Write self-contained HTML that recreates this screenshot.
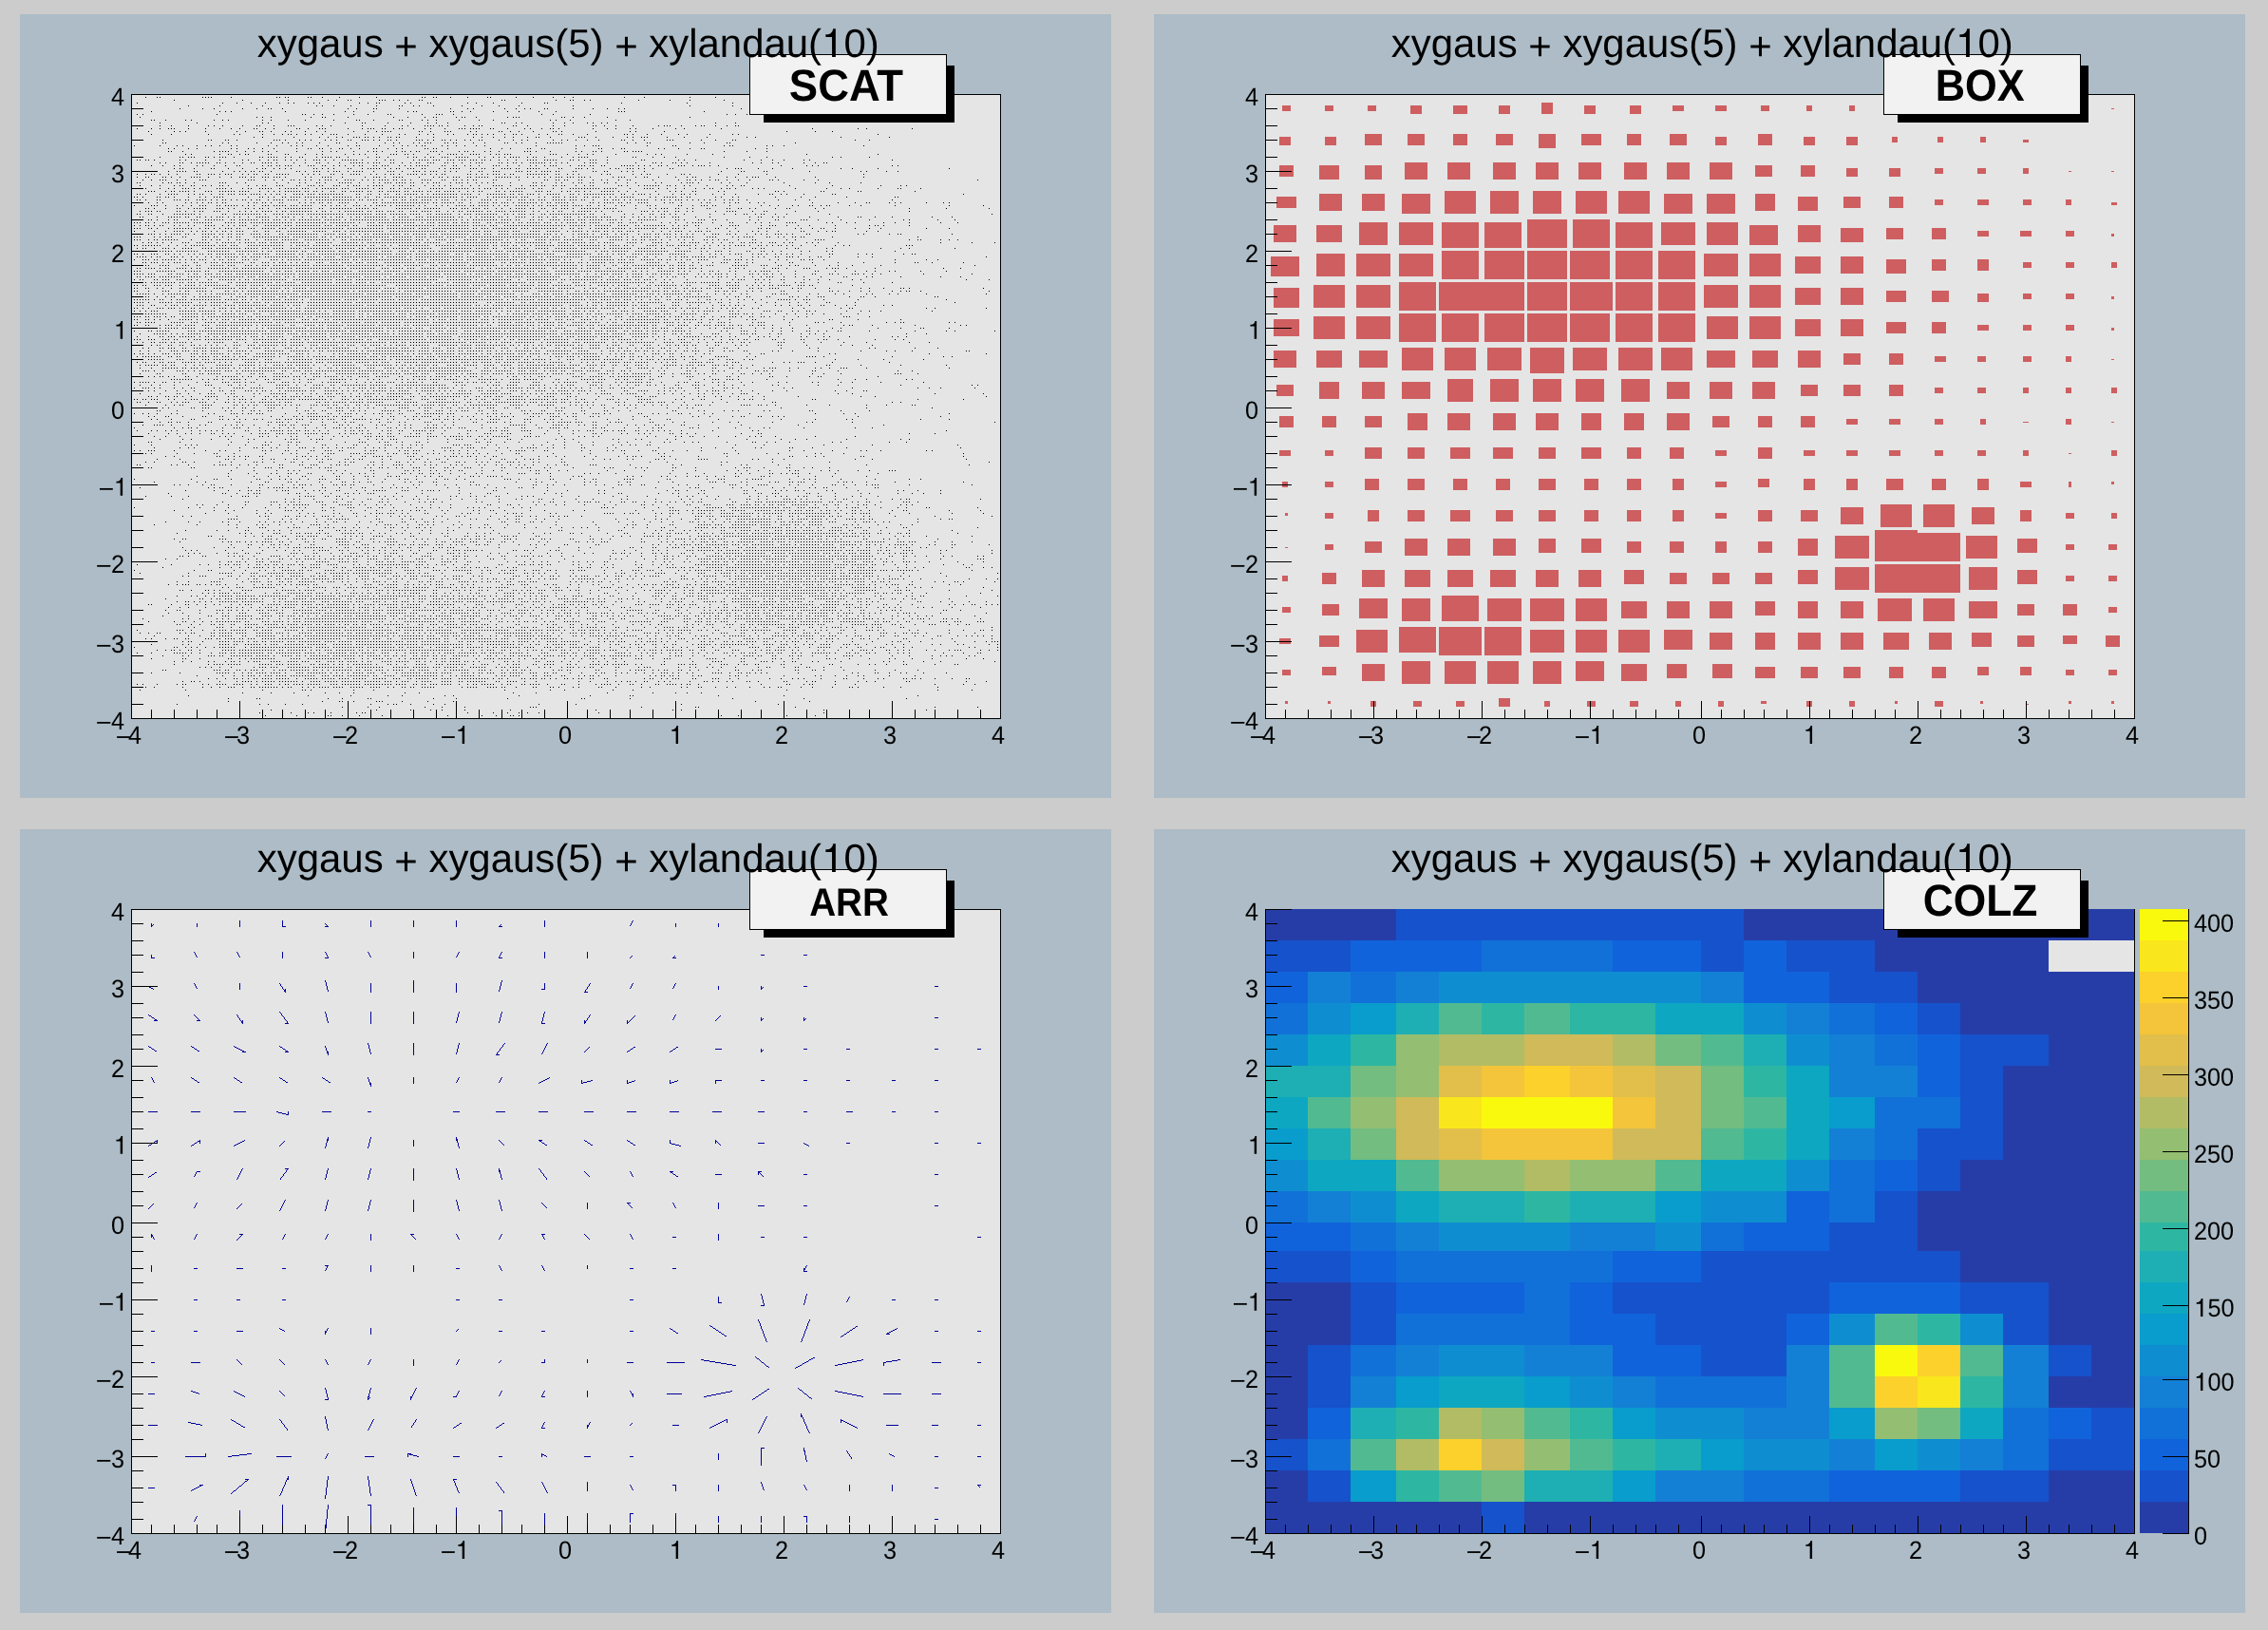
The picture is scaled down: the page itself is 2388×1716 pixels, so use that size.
<!DOCTYPE html>
<html><head><meta charset="utf-8"><title>draw2dopt</title>
<style>html,body{margin:0;padding:0;background:#cccccc;}svg{display:block;will-change:transform}text{font-family:"Liberation Sans",sans-serif;fill:#000;shape-rendering:auto;text-rendering:geometricPrecision}</style></head>
<body><svg width="2388" height="1716" viewBox="0 0 2388 1716" shape-rendering="crispEdges">
<rect width="2388" height="1716" fill="#cccccc"/>
<rect x="21" y="15" width="1149" height="825" fill="#adbcc6"/>
<rect x="138" y="99" width="915" height="657" fill="#e5e5e5"/>
<rect x="138" y="99" width="916" height="1" fill="#000"/>
<rect x="138" y="756" width="916" height="1" fill="#000"/>
<rect x="138" y="99" width="1" height="658" fill="#000"/>
<rect x="1053" y="99" width="1" height="658" fill="#000"/>
<path d="M195 99.5h1m62 0h1m41 0h1m20 0h1m5 0h1m5 0h1m5 0h1m26 0h1m23 0h1m5 0h1m17 0h1m53 0h1m59 0h1m35 0h1m41 0h1m35 0h1m38 0h1m164 0h1m44 0h1m41 0h1m86 0h1M153 102.5h1m11 0h4m44 0h10m20 0h1m47 0h4m5 0h4m20 0h4m11 0h1m17 0h1m20 0h1m17 0h1m47 0h4m8 0h4m14 0h1m17 0h1m20 0h4m26 0h1m17 0h1m20 0h1m11 0h1m8 0h1m53 0h1m20 0h1m47 0h1m26 0h1m227 0h1M183 105.5h1m71 0h1m47 0h1m41 0h1m8 0h1m11 0h4m29 0h7m8 0h1m5 0h1m8 0h1m11 0h4m83 0h4m53 0h1m14 0h4m11 0h1m5 0h1m50 0h1m32 0h1m20 0h1m35 0h1M144 108.5h1m89 0h1m14 0h1m14 0h1m14 0h1m14 0h1m8 0h1m5 0h1m14 0h1m5 0h1m5 0h1m41 0h1m8 0h1m8 0h4m26 0h1m5 0h1m17 0h4m38 0h1m8 0h1m17 0h1m29 0h1m23 0h4m77 0h1m68 0h1m47 0h1m35 0h1m44 0h1M198 111.5h1m32 0h1m44 0h1m56 0h1m5 0h1m11 0h1m17 0h1m26 0h1m23 0h4m11 0h1m5 0h1m14 0h1m29 0h1m20 0h1m17 0h1m20 0h1m56 0h1m122 0h1m44 0h1m44 0h1m164 0h1M189 114.5h1m23 0h1m11 0h1m29 0h1m14 0h1m11 0h4m11 0h1m68 0h1m8 0h1m17 0h4m23 0h1m53 0h1m17 0h1m5 0h1m32 0h1m11 0h1m8 0h1m5 0h1m14 0h4m26 0h1m20 0h1m14 0h1m11 0h1m5 0h1m122 0h1m11 0h1m11 0h1m35 0h1m47 0h1M159 117.5h1m71 0h1m5 0h1m5 0h1m56 0h1m62 0h1m8 0h1m20 0h1m35 0h1m5 0h4m35 0h4m8 0h1m8 0h1m23 0h1m14 0h1m11 0h1m20 0h1m17 0h1m65 0h7m83 0h1m53 0h1m56 0h1m80 0h1M144 120.5h1m5 0h1m77 0h1m89 0h4m8 0h1m8 0h1m11 0h1m20 0h1m14 0h1m20 0h4m32 0h1m14 0h7m11 0h1m92 0h1m11 0h1m38 0h1m143 0h1m8 0h1m11 0h1M147 123.5h1m122 0h1m5 0h1m8 0h1m41 0h1m11 0h4m23 0h1m47 0h1m14 0h1m17 0h1m8 0h4m20 0h1m5 0h4m11 0h1m32 0h1m5 0h7m44 0h4m8 0h1m11 0h1m23 0h1m86 0h1m110 0h1m125 0h1M159 126.5h4m11 0h1m20 0h1m5 0h1m23 0h1m8 0h1m5 0h1m35 0h1m8 0h1m17 0h1m17 0h1m29 0h1m23 0h4m14 0h1m26 0h4m20 0h1m5 0h1m8 0h1m23 0h1m20 0h1m14 0h1m59 0h1m5 0h1m14 0h1m47 0h1m14 0h1m182 0h1M168 129.5h1m38 0h1m68 0h1m5 0h1m80 0h1m17 0h4m23 0h1m23 0h1m17 0h1m8 0h1m11 0h1m56 0h4m11 0h1m5 0h1m32 0h1m11 0h1m8 0h1m14 0h1m5 0h1m8 0h1m5 0h1m113 0h1m20 0h1M141 132.5h4m5 0h1m17 0h1m11 0h1m17 0h1m20 0h1m5 0h1m8 0h1m20 0h1m14 0h4m14 0h1m14 0h7m23 0h1m5 0h1m8 0h1m32 0h1m23 0h1m17 0h1m5 0h1m17 0h10m5 0h4m5 0h1m17 0h1m8 0h1m5 0h4m32 0h4m11 0h1m26 0h1m11 0h1m29 0h4m8 0h1m11 0h1m17 0h1m26 0h1m5 0h7m11 0h1m14 0h1m5 0h4m11 0h1m11 0h1m8 0h4M144 135.5h1m14 0h1m8 0h1m8 0h7m14 0h1m17 0h1m14 0h1m11 0h1m8 0h1m14 0h4m8 0h1m8 0h1m23 0h4m8 0h1m11 0h7m23 0h1m14 0h1m5 0h7m8 0h4m8 0h1m5 0h4m11 0h1m11 0h1m5 0h1m14 0h1m14 0h7m5 0h10m11 0h4m14 0h1m17 0h1m5 0h1m11 0h1m8 0h4m5 0h1m35 0h1m14 0h1m8 0h1m14 0h1m5 0h1m17 0h1m23 0h1m8 0h1m38 0h1m95 0h1m47 0h1m8 0h1m47 0h1M156 138.5h1m26 0h1m5 0h1m5 0h1m20 0h1m32 0h1m8 0h1m14 0h4m8 0h1m14 0h1m5 0h1m14 0h1m11 0h1m8 0h1m29 0h1m14 0h1m8 0h1m5 0h10m29 0h4m8 0h1m14 0h7m20 0h1m5 0h1m23 0h4m8 0h1m8 0h1m14 0h1m20 0h4m5 0h1m35 0h1m35 0h1m5 0h1m29 0h1m128 0h1m29 0h1m17 0h1M138 141.5h1m20 0h1m20 0h1m38 0h1m26 0h1m5 0h1m23 0h1m11 0h1m8 0h1m5 0h4m5 0h1m8 0h1m5 0h1m11 0h1m8 0h7m11 0h1m17 0h1m17 0h1m17 0h1m5 0h1m14 0h1m8 0h1m5 0h1m14 0h1m5 0h1m14 0h1m5 0h4m5 0h1m5 0h1m5 0h1m11 0h1m8 0h4m5 0h1m17 0h1m8 0h1m11 0h4m11 0h1m14 0h1m38 0h4m5 0h1m14 0h1m14 0h1m17 0h1m8 0h1m23 0h1m23 0h1m5 0h1m146 0h1M267 144.5h1m8 0h1m32 0h1m26 0h1m8 0h1m8 0h1m5 0h1m11 0h7m5 0h4m5 0h1m5 0h1m8 0h4m5 0h4m17 0h1m17 0h1m41 0h1m8 0h1m11 0h1m11 0h1m8 0h1m14 0h1m8 0h4m11 0h1m29 0h7m11 0h1m17 0h1m14 0h1m5 0h1m8 0h7m20 0h1m17 0h1m23 0h1m41 0h1m8 0h1m89 0h1m50 0h1M171 147.5h1m47 0h4m14 0h4m8 0h1m38 0h7m5 0h1m14 0h1m5 0h1m5 0h1m14 0h1m5 0h1m5 0h1m11 0h4m11 0h7m5 0h1m5 0h1m8 0h4m5 0h1m20 0h7m5 0h1m5 0h1m8 0h4m5 0h1m5 0h1m8 0h1m5 0h1m8 0h4m17 0h1m14 0h1m8 0h1m5 0h1m26 0h1m8 0h1m5 0h1m8 0h1m11 0h1m11 0h1m23 0h4m8 0h1m11 0h1m23 0h7m29 0h1m14 0h1m17 0h4m125 0h1m14 0h1M138 150.5h1m32 0h4m59 0h1m5 0h1m29 0h1m14 0h1m11 0h1m5 0h1m8 0h1m5 0h1m17 0h1m17 0h4m17 0h1m29 0h1m8 0h1m5 0h1m14 0h1m5 0h1m5 0h7m14 0h4m5 0h4m17 0h1m11 0h1m20 0h4m8 0h1m5 0h1m14 0h1m11 0h16m68 0h1m8 0h1m11 0h4m41 0h1m14 0h1m23 0h4m68 0h1M141 153.5h1m26 0h1m17 0h1m5 0h1m14 0h1m8 0h1m5 0h1m8 0h1m11 0h1m5 0h1m32 0h1m8 0h1m14 0h1m5 0h1m5 0h1m14 0h1m11 0h1m20 0h1m8 0h4m20 0h1m14 0h1m8 0h1m5 0h1m8 0h1m5 0h4m17 0h1m5 0h1m8 0h1m8 0h1m11 0h1m8 0h1m53 0h1m41 0h1m8 0h1m8 0h7m50 0h1m26 0h4m50 0h1m5 0h4m35 0h1m5 0h1m11 0h1m83 0h1M177 156.5h1m5 0h1m14 0h1m8 0h1m35 0h1m5 0h1m11 0h1m5 0h1m8 0h1m11 0h1m23 0h1m11 0h4m8 0h4m8 0h1m8 0h4m8 0h1m8 0h1m14 0h4m11 0h1m8 0h1m5 0h1m23 0h4m5 0h4m11 0h1m44 0h1m11 0h1m8 0h1m17 0h4m11 0h4m32 0h1m23 0h4m11 0h1m8 0h4m35 0h1m5 0h1m14 0h1m11 0h1m11 0h4m53 0h1m11 0h1M177 159.5h4m11 0h1m32 0h1m5 0h10m8 0h1m8 0h1m8 0h1m8 0h1m5 0h1m8 0h1m20 0h1m26 0h1m8 0h1m5 0h1m17 0h1m14 0h1m5 0h4m5 0h1m14 0h1m5 0h4m5 0h1m5 0h4m11 0h7m5 0h1m17 0h1m5 0h4m5 0h1m11 0h1m5 0h1m8 0h1m26 0h7m5 0h1m14 0h1m26 0h1m5 0h1m11 0h4m5 0h1m23 0h4m5 0h10m86 0h1m23 0h1m20 0h1M195 162.5h1m5 0h1m29 0h1m8 0h4m8 0h1m5 0h4m20 0h4m14 0h4m17 0h1m11 0h1m5 0h1m23 0h1m8 0h1m5 0h1m5 0h1m11 0h1m14 0h7m8 0h4m5 0h1m14 0h1m11 0h1m8 0h10m5 0h1m8 0h10m11 0h1m5 0h4m5 0h7m20 0h1m20 0h7m11 0h1m11 0h1m8 0h1m5 0h1m23 0h1m32 0h1m8 0h1m5 0h1m26 0h1m26 0h1m98 0h1m74 0h1M141 165.5h1m8 0h1m17 0h1m20 0h4m5 0h7m11 0h4m5 0h1m5 0h7m8 0h1m26 0h4m5 0h10m8 0h1m5 0h1m8 0h4m14 0h1m5 0h10m5 0h4m8 0h1m20 0h1m8 0h4m8 0h1m20 0h1m5 0h4m8 0h1m5 0h4m8 0h7m8 0h13m11 0h1m5 0h1m8 0h1m5 0h1m5 0h1m5 0h10m8 0h1m5 0h4m8 0h1m17 0h1m11 0h1m5 0h10m20 0h1m26 0h4m17 0h1m11 0h1m11 0h1m50 0h1m26 0h1m17 0h1m68 0h1m8 0h1m29 0h1M144 168.5h4m5 0h4m5 0h1m26 0h1m5 0h1m20 0h1m14 0h1m23 0h1m5 0h1m11 0h1m8 0h1m5 0h4m8 0h1m5 0h1m5 0h1m8 0h1m8 0h7m5 0h1m8 0h1m8 0h16m5 0h1m14 0h1m8 0h1m5 0h4m20 0h1m5 0h10m5 0h7m8 0h7m5 0h7m5 0h7m5 0h4m5 0h1m8 0h1m8 0h1m8 0h1m11 0h10m8 0h13m14 0h4m5 0h1m11 0h7m11 0h1m35 0h4m35 0h1m5 0h1m11 0h1m50 0h1m17 0h1m11 0h1m11 0h1m20 0h1m5 0h1m86 0h1M168 171.5h1m5 0h1m14 0h4m8 0h1m5 0h13m8 0h4m5 0h1m8 0h1m8 0h1m8 0h4m8 0h10m5 0h1m17 0h1m11 0h1m11 0h4m8 0h1m11 0h1m11 0h13m5 0h1m5 0h7m11 0h4m8 0h1m8 0h1m5 0h4m8 0h7m11 0h4m5 0h1m8 0h1m8 0h1m5 0h7m17 0h4m5 0h1m5 0h4m5 0h1m8 0h16m5 0h1m5 0h1m5 0h1m5 0h1m17 0h1m5 0h7m11 0h1m29 0h1m17 0h4m5 0h1m11 0h4m5 0h1m5 0h1m23 0h1m44 0h1m8 0h1m11 0h1m5 0h1m26 0h1m11 0h1m8 0h4M159 174.5h1m11 0h1m11 0h1m5 0h1m17 0h1m5 0h1m11 0h1m11 0h1m11 0h4m23 0h1m5 0h4m5 0h4m5 0h7m8 0h1m8 0h7m8 0h4m8 0h1m5 0h1m5 0h1m8 0h1m5 0h4m11 0h4m5 0h7m11 0h1m5 0h1m5 0h1m5 0h13m14 0h4m8 0h4m8 0h1m5 0h1m8 0h1m14 0h7m8 0h1m11 0h1m11 0h1m5 0h1m8 0h1m5 0h7m14 0h1m8 0h7m5 0h4m8 0h4m17 0h13m5 0h1m5 0h1m5 0h1m8 0h4m5 0h1m11 0h7m8 0h1m5 0h7m5 0h1m8 0h1m65 0h1m26 0h1m5 0h1m5 0h1m77 0h1m5 0h1M183 177.5h1m5 0h4m11 0h1m17 0h4m14 0h1m14 0h1m14 0h1m5 0h4m8 0h1m5 0h1m5 0h1m5 0h1m23 0h4m5 0h1m5 0h1m5 0h1m14 0h4m11 0h1m5 0h13m5 0h1m5 0h1m5 0h4m8 0h7m8 0h4m14 0h1m5 0h1m5 0h10m11 0h7m5 0h4m8 0h1m8 0h10m5 0h4m8 0h13m8 0h1m11 0h4m14 0h7m5 0h1m5 0h1m17 0h1m5 0h4m8 0h7m5 0h1m5 0h1m8 0h1m17 0h4m56 0h1m8 0h7m17 0h1m14 0h1m20 0h1m50 0h1m11 0h1m26 0h1m74 0h1M138 180.5h7m5 0h1m11 0h1m14 0h1m8 0h10m8 0h4m26 0h1m11 0h1m5 0h1m5 0h1m5 0h4m5 0h4m8 0h1m26 0h4m5 0h1m8 0h7m8 0h1m5 0h7m8 0h1m5 0h10m11 0h1m14 0h7m8 0h1m11 0h7m5 0h1m5 0h7m8 0h1m5 0h1m5 0h1m14 0h1m8 0h4m11 0h7m17 0h7m5 0h4m5 0h1m5 0h10m5 0h4m14 0h4m17 0h4m8 0h4m14 0h1m5 0h1m5 0h1m11 0h1m80 0h1m20 0h4m20 0h4m44 0h1m53 0h1m5 0h1m20 0h1m11 0h1M144 183.5h1m8 0h1m5 0h4m5 0h1m8 0h1m8 0h1m20 0h4m8 0h7m5 0h1m5 0h7m11 0h1m5 0h1m5 0h4m8 0h4m8 0h13m14 0h1m5 0h1m5 0h1m5 0h1m11 0h4m8 0h1m8 0h10m11 0h1m5 0h1m8 0h1m5 0h4m5 0h1m8 0h10m5 0h4m5 0h1m5 0h1m5 0h4m23 0h4m5 0h1m5 0h1m5 0h1m5 0h7m5 0h1m5 0h4m14 0h22m8 0h4m8 0h1m5 0h1m5 0h1m23 0h1m5 0h4m23 0h1m8 0h1m5 0h4m17 0h1m14 0h4m5 0h1m29 0h1m20 0h1m29 0h1m101 0h1M138 186.5h1m5 0h1m8 0h4m14 0h4m5 0h1m8 0h1m11 0h10m8 0h1m11 0h1m11 0h1m8 0h7m5 0h4m8 0h7m5 0h7m5 0h1m20 0h1m5 0h1m11 0h10m11 0h1m23 0h1m8 0h7m5 0h1m8 0h10m17 0h1m14 0h1m5 0h4m5 0h1m5 0h7m8 0h4m5 0h13m8 0h16m5 0h4m8 0h1m5 0h1m5 0h1m5 0h1m5 0h1m5 0h7m5 0h7m5 0h7m5 0h1m23 0h1m5 0h7m11 0h1m8 0h4m11 0h1m17 0h1m11 0h1m5 0h4m14 0h1m17 0h1m8 0h1m11 0h1m5 0h7m17 0h1m41 0h1m50 0h1M150 189.5h1m8 0h1m8 0h7m11 0h1m8 0h1m14 0h7m44 0h7m11 0h1m8 0h1m8 0h1m8 0h4m5 0h1m5 0h1m5 0h1m8 0h1m5 0h7m5 0h1m8 0h10m8 0h1m5 0h1m5 0h1m5 0h10m5 0h4m5 0h4m5 0h1m11 0h10m11 0h4m8 0h4m5 0h1m5 0h1m5 0h4m17 0h4m23 0h1m26 0h4m8 0h4m5 0h4m11 0h4m11 0h1m8 0h1m5 0h1m11 0h1m8 0h4m23 0h1m26 0h1m8 0h4m5 0h1m5 0h1m8 0h1m5 0h4m8 0h1m11 0h1m11 0h1m20 0h4m5 0h1m26 0h1m14 0h1m167 0h1M138 192.5h1m5 0h4m23 0h1m5 0h4m5 0h4m5 0h1m8 0h1m26 0h7m11 0h1m8 0h1m32 0h1m11 0h1m11 0h1m5 0h1m11 0h4m5 0h1m14 0h13m8 0h1m14 0h1m5 0h1m5 0h7m5 0h10m5 0h4m8 0h1m5 0h1m5 0h7m11 0h1m5 0h7m5 0h1m8 0h1m5 0h1m5 0h1m5 0h1m17 0h1m23 0h4m5 0h1m14 0h1m5 0h1m11 0h1m5 0h4m8 0h4m11 0h4m8 0h1m11 0h1m8 0h1m20 0h1m5 0h1m20 0h1m5 0h7m5 0h1m23 0h1m8 0h1m17 0h1m38 0h1m32 0h1m14 0h1m32 0h1M147 195.5h1m11 0h1m8 0h1m14 0h1m5 0h4m8 0h4m8 0h4m5 0h1m8 0h4m5 0h1m20 0h1m8 0h1m5 0h4m11 0h7m14 0h4m8 0h7m5 0h4m11 0h7m8 0h1m5 0h7m8 0h1m5 0h10m11 0h1m5 0h4m8 0h4m11 0h1m8 0h1m5 0h1m5 0h1m5 0h1m11 0h1m8 0h1m8 0h1m14 0h10m8 0h1m11 0h1m8 0h7m5 0h4m8 0h4m5 0h4m11 0h1m8 0h1m5 0h4m26 0h4m5 0h1m11 0h1m5 0h16m8 0h4m5 0h1m8 0h1m5 0h1m17 0h1m20 0h1m5 0h1m8 0h4m47 0h1m44 0h1m50 0h1m20 0h1m5 0h1M147 198.5h1m5 0h1m14 0h1m8 0h1m5 0h1m8 0h7m5 0h1m5 0h1m17 0h10m5 0h1m11 0h1m5 0h4m8 0h13m8 0h1m5 0h13m5 0h7m8 0h1m5 0h16m5 0h7m8 0h13m5 0h1m5 0h4m8 0h4m5 0h1m5 0h7m8 0h1m11 0h13m8 0h19m5 0h1m5 0h1m5 0h7m5 0h1m5 0h1m5 0h1m8 0h10m8 0h1m5 0h4m11 0h1m8 0h1m8 0h31m5 0h13m14 0h1m14 0h10m5 0h1m8 0h1m8 0h1m8 0h1m11 0h1m8 0h1m5 0h4m8 0h1m5 0h4m5 0h1m17 0h1m5 0h1m5 0h1m32 0h1m32 0h1m14 0h1m8 0h1m29 0h1m20 0h4m20 0h1M138 201.5h1m17 0h7m11 0h1m5 0h4m5 0h10m5 0h1m11 0h7m8 0h16m5 0h10m11 0h1m8 0h1m5 0h1m5 0h1m5 0h16m5 0h4m5 0h4m5 0h1m8 0h4m8 0h4m5 0h13m5 0h4m8 0h4m5 0h13m5 0h4m5 0h10m5 0h4m5 0h4m5 0h10m5 0h1m8 0h1m5 0h1m5 0h4m14 0h4m5 0h1m5 0h13m14 0h7m5 0h4m11 0h1m5 0h4m5 0h4m5 0h1m5 0h1m11 0h13m5 0h1m8 0h1m8 0h1m20 0h1m14 0h1m5 0h1m5 0h1m11 0h4m23 0h1m5 0h1m53 0h4m5 0h1m38 0h4m35 0h4m56 0h1M144 204.5h4m5 0h1m14 0h1m8 0h10m11 0h1m5 0h1m5 0h4m8 0h1m8 0h4m5 0h7m5 0h7m5 0h10m5 0h1m5 0h1m5 0h4m5 0h1m8 0h10m5 0h7m5 0h25m14 0h4m8 0h4m8 0h1m5 0h4m8 0h4m5 0h13m5 0h1m5 0h1m5 0h25m5 0h10m8 0h1m8 0h19m5 0h4m5 0h4m5 0h7m5 0h1m8 0h13m11 0h4m5 0h1m5 0h31m8 0h4m8 0h1m5 0h7m5 0h1m8 0h1m14 0h1m8 0h4m5 0h1m5 0h1m17 0h1m11 0h1m11 0h1m23 0h1m11 0h4m8 0h1m5 0h1m17 0h1m29 0h4m134 0h1M141 207.5h4m5 0h1m14 0h4m5 0h4m5 0h1m14 0h1m11 0h1m5 0h1m8 0h10m26 0h1m11 0h4m5 0h1m5 0h1m8 0h4m5 0h10m5 0h25m5 0h19m5 0h4m5 0h4m8 0h4m5 0h22m5 0h1m5 0h43m5 0h1m5 0h10m11 0h1m5 0h25m5 0h7m11 0h1m5 0h1m8 0h7m5 0h1m5 0h7m8 0h4m5 0h7m5 0h1m5 0h1m5 0h1m5 0h13m17 0h1m5 0h1m8 0h13m5 0h1m5 0h4m26 0h1m5 0h1m11 0h1m5 0h1m38 0h1m26 0h1m14 0h1m32 0h1m50 0h4M144 210.5h4m5 0h1m11 0h4m14 0h7m5 0h4m8 0h10m5 0h1m5 0h1m5 0h4m5 0h1m5 0h1m5 0h4m5 0h1m5 0h4m8 0h1m5 0h10m5 0h10m8 0h1m5 0h1m5 0h40m5 0h4m5 0h10m5 0h1m11 0h4m5 0h4m5 0h7m5 0h10m5 0h1m5 0h7m8 0h1m5 0h4m5 0h1m11 0h10m5 0h1m11 0h4m8 0h7m5 0h4m5 0h7m8 0h13m5 0h7m5 0h4m8 0h1m11 0h4m5 0h7m5 0h1m5 0h1m5 0h13m8 0h1m5 0h4m5 0h1m5 0h7m5 0h1m5 0h1m5 0h1m5 0h1m5 0h1m5 0h1m8 0h1m5 0h4m5 0h1m8 0h1m32 0h1m17 0h1m14 0h1m86 0h1M144 213.5h7m5 0h1m8 0h1m5 0h1m23 0h1m5 0h1m5 0h1m5 0h1m5 0h4m5 0h1m5 0h4m23 0h1m5 0h4m5 0h4m5 0h1m8 0h4m17 0h1m5 0h1m5 0h4m5 0h4m5 0h4m8 0h10m8 0h1m17 0h4m5 0h49m5 0h4m5 0h13m5 0h4m8 0h1m8 0h10m5 0h4m5 0h7m5 0h1m5 0h19m5 0h1m5 0h4m5 0h13m5 0h1m17 0h4m5 0h1m5 0h10m5 0h4m5 0h4m8 0h10m17 0h1m5 0h4m8 0h1m20 0h1m5 0h4m14 0h1m5 0h1m5 0h4m11 0h1m8 0h1m5 0h1m50 0h1m26 0h1m17 0h1m11 0h4m20 0h1m5 0h1m5 0h1m26 0h1m17 0h1m5 0h1M138 216.5h4m17 0h7m8 0h1m11 0h1m5 0h1m8 0h1m8 0h7m11 0h4m5 0h13m5 0h1m5 0h1m5 0h1m8 0h7m5 0h13m5 0h7m5 0h10m11 0h4m5 0h1m5 0h4m5 0h1m8 0h7m5 0h1m5 0h1m5 0h10m5 0h1m5 0h19m5 0h1m5 0h1m11 0h1m5 0h1m5 0h1m8 0h10m5 0h4m5 0h10m5 0h1m5 0h1m5 0h4m8 0h13m5 0h1m5 0h4m5 0h10m5 0h7m5 0h10m5 0h4m8 0h1m5 0h1m11 0h1m5 0h4m11 0h1m11 0h4m5 0h1m23 0h4m11 0h1m8 0h7m5 0h4m14 0h1m32 0h1m8 0h1m8 0h1m14 0h1m5 0h1m11 0h4m8 0h1m5 0h4m20 0h1m11 0h1m35 0h1m56 0h1m35 0h1m17 0h1M153 219.5h4m5 0h1m11 0h1m11 0h4m8 0h1m5 0h13m11 0h7m5 0h1m5 0h1m11 0h4m5 0h1m5 0h4m5 0h1m8 0h4m5 0h28m8 0h4m8 0h22m5 0h13m5 0h4m20 0h16m5 0h4m5 0h16m11 0h7m5 0h7m5 0h7m5 0h4m8 0h1m5 0h1m8 0h1m5 0h10m5 0h4m8 0h4m8 0h4m5 0h7m5 0h1m8 0h19m5 0h13m20 0h1m14 0h1m5 0h1m5 0h7m8 0h4m8 0h1m5 0h1m14 0h4m17 0h4m8 0h4m8 0h1m5 0h1m20 0h1m11 0h4m26 0h1m8 0h1m89 0h1m38 0h1m44 0h1M147 222.5h1m5 0h7m5 0h4m17 0h4m5 0h1m8 0h1m5 0h4m11 0h7m8 0h1m11 0h1m5 0h1m5 0h1m5 0h1m5 0h10m5 0h1m5 0h4m5 0h22m5 0h1m5 0h4m5 0h1m8 0h1m5 0h19m5 0h4m5 0h7m5 0h7m5 0h4m8 0h7m5 0h10m5 0h4m8 0h1m5 0h1m5 0h4m5 0h16m5 0h4m5 0h10m5 0h16m8 0h1m5 0h1m8 0h1m5 0h1m5 0h4m11 0h1m5 0h13m5 0h1m5 0h1m11 0h1m5 0h4m20 0h7m5 0h1m5 0h1m5 0h4m8 0h4m8 0h1m5 0h1m23 0h1m11 0h10m17 0h1m11 0h4m29 0h1m23 0h1m95 0h1M144 225.5h4m8 0h4m11 0h1m11 0h22m5 0h1m23 0h4m8 0h28m5 0h1m8 0h10m5 0h16m5 0h37m5 0h25m5 0h10m5 0h16m5 0h10m8 0h4m5 0h16m8 0h1m5 0h7m5 0h22m8 0h4m5 0h1m5 0h7m5 0h4m8 0h4m5 0h37m5 0h4m11 0h1m20 0h1m8 0h1m8 0h1m8 0h4m8 0h4m5 0h1m5 0h1m8 0h1m26 0h1m14 0h1m11 0h1m8 0h4m8 0h1m5 0h4m11 0h1m11 0h1m44 0h1m170 0h1M147 228.5h4m14 0h1m11 0h13m5 0h4m8 0h4m5 0h1m5 0h1m5 0h7m5 0h1m5 0h1m5 0h1m8 0h1m8 0h13m8 0h1m5 0h7m5 0h1m8 0h1m8 0h1m5 0h1m5 0h4m5 0h1m5 0h7m8 0h1m5 0h4m5 0h22m8 0h1m5 0h10m8 0h7m5 0h28m5 0h4m8 0h1m5 0h1m5 0h13m5 0h4m5 0h1m8 0h10m8 0h1m5 0h4m5 0h1m5 0h4m8 0h7m8 0h1m5 0h13m5 0h10m11 0h4m8 0h1m5 0h1m5 0h1m5 0h1m5 0h1m5 0h4m8 0h7m17 0h1m14 0h1m41 0h1m8 0h4m11 0h1m5 0h1m5 0h1m26 0h1m29 0h1m20 0h4m14 0h1m17 0h1m41 0h1m20 0h1M138 231.5h1m17 0h4m5 0h1m11 0h1m5 0h4m14 0h7m8 0h19m8 0h4m5 0h19m5 0h7m5 0h7m5 0h1m5 0h4m5 0h22m5 0h16m5 0h1m5 0h40m5 0h67m5 0h1m5 0h1m5 0h25m5 0h10m5 0h4m11 0h4m5 0h4m8 0h10m5 0h10m5 0h7m5 0h13m5 0h10m5 0h1m8 0h1m8 0h19m20 0h4m5 0h1m14 0h7m8 0h4m11 0h1m23 0h1m8 0h1m17 0h4m23 0h7m11 0h1m23 0h1m29 0h1m35 0h1m5 0h1m29 0h1m17 0h1M141 234.5h7m5 0h4m5 0h1m8 0h7m5 0h16m5 0h19m14 0h10m5 0h7m5 0h43m5 0h31m5 0h25m5 0h1m8 0h7m5 0h37m8 0h1m5 0h7m5 0h10m5 0h4m5 0h7m5 0h7m8 0h4m5 0h13m5 0h1m5 0h4m5 0h13m5 0h7m5 0h1m5 0h1m5 0h10m5 0h4m5 0h10m11 0h4m5 0h4m8 0h7m5 0h1m20 0h1m8 0h1m5 0h1m11 0h1m5 0h10m11 0h1m17 0h4m14 0h1m8 0h1m5 0h1m8 0h1m17 0h10m32 0h1m5 0h1m14 0h1m8 0h1m29 0h1m11 0h1m14 0h1m32 0h1m17 0h1M141 237.5h1m5 0h1m5 0h4m5 0h1m5 0h4m11 0h1m5 0h1m8 0h1m5 0h1m11 0h10m8 0h1m5 0h1m5 0h1m5 0h7m8 0h4m8 0h16m5 0h7m5 0h25m5 0h7m5 0h13m5 0h4m11 0h16m5 0h13m5 0h31m5 0h31m5 0h13m5 0h7m8 0h64m5 0h16m5 0h1m5 0h16m8 0h10m8 0h4m5 0h22m8 0h1m5 0h1m5 0h4m8 0h4m23 0h1m8 0h10m23 0h1m8 0h7m11 0h1m11 0h1m11 0h1m26 0h1m35 0h1m5 0h4m5 0h1m26 0h1M138 240.5h10m8 0h4m5 0h1m11 0h1m5 0h19m8 0h1m5 0h4m5 0h1m5 0h1m5 0h7m5 0h4m8 0h7m8 0h13m5 0h7m5 0h55m5 0h37m5 0h28m5 0h10m5 0h37m5 0h4m5 0h7m5 0h25m5 0h7m5 0h25m5 0h1m8 0h4m5 0h4m8 0h1m5 0h13m5 0h13m5 0h1m5 0h22m5 0h7m5 0h7m5 0h1m14 0h1m8 0h1m8 0h4m8 0h1m8 0h1m23 0h4m5 0h4m26 0h1m5 0h1m11 0h1m8 0h4m11 0h1m20 0h1m14 0h1m11 0h1m47 0h1m23 0h1M138 243.5h4m20 0h1m11 0h1m8 0h10m8 0h1m5 0h1m5 0h4m5 0h1m5 0h1m5 0h4m5 0h1m5 0h7m11 0h4m8 0h4m8 0h4m8 0h19m8 0h13m8 0h7m5 0h1m5 0h34m8 0h58m5 0h31m5 0h7m8 0h10m5 0h7m11 0h10m8 0h13m8 0h1m5 0h10m5 0h1m5 0h7m5 0h4m5 0h1m5 0h4m5 0h7m5 0h1m14 0h1m8 0h1m8 0h1m5 0h7m8 0h1m5 0h7m5 0h4m20 0h1m8 0h1m14 0h1m5 0h1m8 0h1m11 0h1m23 0h4m14 0h1m8 0h1m5 0h4m32 0h1m11 0h1M150 246.5h1m5 0h7m5 0h1m5 0h1m5 0h10m5 0h4m5 0h1m8 0h13m5 0h4m5 0h4m5 0h7m8 0h10m5 0h4m11 0h4m5 0h31m8 0h10m5 0h7m5 0h4m5 0h1m5 0h4m5 0h28m5 0h4m5 0h13m5 0h7m5 0h28m5 0h7m5 0h7m8 0h10m5 0h28m5 0h7m5 0h1m5 0h1m11 0h1m5 0h10m5 0h1m8 0h7m8 0h1m5 0h7m11 0h1m5 0h7m5 0h4m5 0h7m5 0h1m5 0h1m5 0h1m5 0h1m11 0h1m8 0h7m8 0h4m5 0h1m11 0h1m8 0h1m5 0h1m5 0h1m8 0h7m5 0h1m5 0h1m14 0h4m50 0h1m5 0h1m26 0h1m8 0h4m53 0h1M141 249.5h7m14 0h1m5 0h1m5 0h7m11 0h4m17 0h7m5 0h4m5 0h1m5 0h4m5 0h4m14 0h37m5 0h25m5 0h4m5 0h1m5 0h16m5 0h1m5 0h28m5 0h19m5 0h10m5 0h13m5 0h19m5 0h82m5 0h7m5 0h1m8 0h1m5 0h25m5 0h16m5 0h1m5 0h1m8 0h10m5 0h4m8 0h4m5 0h1m5 0h13m14 0h10m17 0h1m5 0h1m5 0h10m14 0h4m8 0h1m5 0h1m8 0h4m5 0h4m29 0h1m89 0h1M141 252.5h7m8 0h1m5 0h4m5 0h16m14 0h1m11 0h4m5 0h1m5 0h4m8 0h1m8 0h4m5 0h4m8 0h1m8 0h13m5 0h16m8 0h25m5 0h1m8 0h4m5 0h22m5 0h1m5 0h31m5 0h7m5 0h1m8 0h10m5 0h4m11 0h13m5 0h22m5 0h1m8 0h1m5 0h4m11 0h10m5 0h10m5 0h19m8 0h7m14 0h13m5 0h1m5 0h4m5 0h4m5 0h7m5 0h1m8 0h1m8 0h1m5 0h1m8 0h1m11 0h4m5 0h1m5 0h1m5 0h4m11 0h1m14 0h4m32 0h1m8 0h1m20 0h10m89 0h1m8 0h4m20 0h1m8 0h1m8 0h1M150 255.5h1m5 0h4m5 0h1m5 0h1m8 0h1m11 0h7m8 0h13m8 0h1m5 0h13m5 0h1m5 0h10m5 0h7m5 0h13m8 0h13m5 0h1m8 0h16m11 0h16m5 0h1m5 0h55m5 0h16m8 0h52m5 0h10m5 0h31m5 0h1m8 0h10m5 0h13m5 0h4m5 0h1m5 0h10m14 0h10m5 0h1m11 0h10m5 0h1m14 0h4m5 0h10m8 0h1m5 0h1m8 0h1m8 0h4m8 0h4m5 0h7m5 0h1m8 0h7m8 0h1m5 0h4m14 0h1m5 0h1m5 0h1m20 0h1m107 0h1m32 0h1m23 0h1M141 258.5h4m5 0h19m8 0h1m8 0h1m8 0h1m5 0h25m5 0h7m5 0h7m11 0h37m8 0h1m5 0h13m5 0h16m5 0h34m5 0h4m8 0h4m5 0h1m8 0h31m8 0h19m5 0h31m5 0h4m5 0h7m5 0h4m5 0h4m5 0h1m5 0h19m5 0h16m5 0h22m5 0h1m5 0h10m5 0h4m5 0h1m14 0h10m5 0h1m5 0h7m5 0h13m5 0h1m8 0h1m5 0h1m8 0h1m5 0h1m5 0h1m5 0h10m5 0h1m8 0h4m5 0h1m5 0h1m5 0h4m5 0h1m5 0h1m8 0h1m14 0h1m20 0h1m8 0h1m5 0h1m59 0h7M144 261.5h1m5 0h4m8 0h1m8 0h7m5 0h1m8 0h10m11 0h10m5 0h25m5 0h13m5 0h7m5 0h10m8 0h10m5 0h28m5 0h19m5 0h4m5 0h22m5 0h16m5 0h19m11 0h31m5 0h13m5 0h4m8 0h16m5 0h4m8 0h13m8 0h22m5 0h19m5 0h1m5 0h22m8 0h13m5 0h1m5 0h4m11 0h4m11 0h1m5 0h1m5 0h4m5 0h1m14 0h1m5 0h1m23 0h4m5 0h4m23 0h1m8 0h4m29 0h1m5 0h1m50 0h1m20 0h1m8 0h1m47 0h1M138 264.5h7m8 0h4m5 0h19m5 0h22m11 0h22m8 0h22m5 0h1m5 0h4m5 0h22m5 0h4m8 0h22m5 0h7m5 0h28m5 0h10m8 0h7m5 0h4m5 0h7m5 0h4m5 0h49m5 0h1m5 0h7m5 0h28m11 0h4m5 0h34m11 0h1m5 0h7m5 0h16m8 0h34m8 0h16m11 0h1m5 0h1m8 0h7m8 0h1m17 0h4m11 0h4m8 0h1m8 0h1m20 0h1m8 0h1m17 0h1m5 0h1m65 0h1M141 267.5h4m5 0h1m8 0h7m8 0h4m5 0h1m5 0h1m8 0h1m5 0h1m5 0h4m5 0h4m5 0h19m5 0h4m5 0h1m5 0h16m8 0h19m5 0h4m5 0h7m5 0h34m5 0h37m5 0h16m5 0h34m8 0h7m5 0h1m8 0h34m5 0h1m5 0h7m5 0h25m14 0h25m8 0h4m5 0h1m5 0h1m5 0h7m8 0h10m5 0h16m8 0h16m17 0h1m8 0h1m5 0h1m5 0h1m8 0h1m5 0h7m11 0h1m5 0h4m5 0h1m8 0h1m5 0h1m5 0h1m5 0h1m8 0h1m29 0h4m26 0h1m8 0h1m5 0h1m32 0h1m8 0h4M144 270.5h10m5 0h1m5 0h4m11 0h7m5 0h1m8 0h1m5 0h1m8 0h1m5 0h1m5 0h4m5 0h13m5 0h4m5 0h10m5 0h34m5 0h1m5 0h13m5 0h10m8 0h37m5 0h1m5 0h19m5 0h1m5 0h49m5 0h25m5 0h13m5 0h25m5 0h1m5 0h37m8 0h22m11 0h1m5 0h10m8 0h4m8 0h1m14 0h1m5 0h1m5 0h7m5 0h13m5 0h7m8 0h1m17 0h1m11 0h1m5 0h1m5 0h1m11 0h4m8 0h7m5 0h1m11 0h1m8 0h4m8 0h1m29 0h1m14 0h1m119 0h1M138 273.5h4m8 0h7m5 0h4m5 0h13m5 0h1m5 0h1m5 0h4m5 0h7m8 0h1m5 0h4m5 0h7m8 0h7m5 0h4m14 0h7m5 0h1m5 0h13m5 0h46m5 0h4m5 0h52m5 0h10m5 0h19m5 0h10m5 0h52m5 0h4m5 0h16m5 0h10m5 0h1m5 0h1m11 0h1m8 0h25m5 0h7m5 0h4m8 0h13m5 0h4m5 0h4m5 0h1m5 0h1m5 0h4m8 0h10m17 0h7m5 0h7m5 0h1m5 0h1m17 0h1m8 0h1m8 0h1m14 0h4m5 0h4m11 0h1m74 0h1m32 0h1m11 0h1M138 276.5h1m11 0h4m5 0h7m5 0h1m5 0h1m5 0h7m5 0h1m8 0h4m8 0h1m5 0h7m5 0h22m8 0h4m8 0h7m5 0h1m5 0h7m5 0h1m5 0h1m5 0h7m8 0h7m8 0h7m5 0h10m5 0h7m5 0h10m8 0h31m5 0h16m5 0h31m5 0h22m8 0h4m5 0h16m5 0h13m5 0h10m5 0h13m5 0h4m5 0h1m5 0h13m5 0h4m5 0h16m14 0h13m8 0h1m11 0h7m8 0h1m5 0h1m14 0h1m8 0h7m8 0h4m8 0h1m5 0h1m23 0h1m14 0h4m20 0h1m26 0h1m26 0h1m32 0h1m20 0h4m14 0h1m32 0h1M138 279.5h19m11 0h10m14 0h7m8 0h4m11 0h13m5 0h7m11 0h7m5 0h1m5 0h7m5 0h37m5 0h31m5 0h37m5 0h13m5 0h19m8 0h7m5 0h4m5 0h16m5 0h28m5 0h1m5 0h4m5 0h4m5 0h55m5 0h1m5 0h13m5 0h1m8 0h4m8 0h4m5 0h34m5 0h4m5 0h7m5 0h4m8 0h1m5 0h7m20 0h16m14 0h7m11 0h4m8 0h1m5 0h4m17 0h1m14 0h1m8 0h1m14 0h1m29 0h1m98 0h1M138 282.5h1m5 0h4m5 0h10m5 0h1m5 0h4m8 0h10m5 0h1m5 0h4m8 0h22m5 0h4m5 0h25m5 0h22m5 0h52m5 0h25m8 0h7m5 0h10m5 0h7m8 0h13m5 0h37m8 0h1m5 0h4m5 0h52m8 0h4m5 0h16m5 0h1m5 0h13m8 0h4m8 0h13m5 0h13m5 0h1m5 0h4m8 0h4m5 0h7m5 0h7m5 0h1m29 0h1m5 0h4m5 0h1m20 0h1m8 0h7m8 0h1m17 0h7m17 0h1m5 0h7m8 0h1m29 0h1m71 0h1m17 0h1M141 285.5h7m17 0h19m11 0h16m5 0h4m11 0h46m8 0h1m5 0h4m5 0h7m5 0h13m5 0h4m5 0h7m5 0h19m8 0h22m5 0h16m5 0h58m5 0h31m5 0h25m5 0h7m5 0h10m8 0h19m5 0h13m5 0h31m8 0h4m5 0h1m5 0h1m11 0h16m5 0h1m5 0h1m5 0h1m11 0h1m8 0h4m5 0h1m11 0h1m5 0h1m14 0h1m5 0h1m5 0h10m8 0h1m17 0h1m20 0h4m17 0h1m20 0h1m11 0h1m8 0h1m14 0h1m5 0h1m26 0h1m26 0h1M141 288.5h10m5 0h7m14 0h4m5 0h7m5 0h1m5 0h4m8 0h7m5 0h4m5 0h7m5 0h34m5 0h22m5 0h97m5 0h46m5 0h22m5 0h1m5 0h16m5 0h16m5 0h22m5 0h10m5 0h25m8 0h1m8 0h1m5 0h7m5 0h10m5 0h1m5 0h10m5 0h1m5 0h4m5 0h10m8 0h10m11 0h1m5 0h1m5 0h1m5 0h7m5 0h1m8 0h1m14 0h4m5 0h1m5 0h4m5 0h1m8 0h1m14 0h1m17 0h4m14 0h4m5 0h1m14 0h7m5 0h1m8 0h1m8 0h1m44 0h1m50 0h1M138 291.5h1m5 0h4m5 0h10m5 0h22m8 0h13m5 0h1m5 0h34m5 0h7m5 0h22m5 0h4m5 0h1m5 0h46m5 0h13m5 0h16m5 0h1m5 0h16m5 0h16m5 0h13m5 0h37m5 0h16m5 0h16m5 0h34m11 0h1m5 0h4m5 0h19m8 0h4m5 0h4m5 0h1m5 0h10m8 0h4m8 0h1m5 0h1m5 0h4m8 0h1m11 0h1m5 0h1m5 0h1m5 0h1m5 0h4m5 0h1m8 0h1m8 0h1m8 0h1m8 0h1m5 0h7m11 0h1m11 0h1m8 0h1m17 0h1m23 0h4m20 0h1m5 0h1m29 0h1m41 0h1m20 0h1M141 294.5h1m5 0h4m11 0h4m5 0h7m8 0h16m5 0h1m11 0h4m8 0h16m5 0h1m5 0h4m5 0h34m8 0h40m5 0h16m5 0h85m11 0h25m5 0h1m5 0h31m8 0h1m8 0h31m5 0h4m5 0h28m5 0h1m5 0h13m5 0h7m5 0h4m5 0h7m5 0h1m8 0h1m5 0h1m17 0h1m32 0h1m14 0h1m5 0h7m11 0h4m5 0h1m5 0h1m11 0h4m20 0h1m5 0h1m8 0h1m11 0h1m23 0h1m8 0h1m110 0h1m23 0h1M141 297.5h4m5 0h4m5 0h25m5 0h4m5 0h7m5 0h19m11 0h4m5 0h37m5 0h4m5 0h10m8 0h31m5 0h16m5 0h10m5 0h4m8 0h52m5 0h13m5 0h76m5 0h4m5 0h13m8 0h4m11 0h7m5 0h1m5 0h58m5 0h4m8 0h7m5 0h1m11 0h13m5 0h19m8 0h4m5 0h4m17 0h1m5 0h1m8 0h1m14 0h1m11 0h1m5 0h4m14 0h1m20 0h4m23 0h1m29 0h1M138 300.5h7m5 0h4m8 0h7m5 0h7m8 0h1m5 0h10m5 0h1m5 0h25m8 0h10m5 0h13m5 0h124m11 0h49m5 0h22m5 0h13m5 0h16m5 0h7m5 0h13m5 0h10m5 0h19m5 0h10m5 0h1m8 0h10m5 0h1m5 0h10m11 0h1m8 0h4m5 0h22m5 0h1m5 0h4m20 0h10m8 0h13m8 0h1m5 0h1m5 0h1m5 0h1m5 0h4m5 0h13m8 0h7m5 0h4m41 0h1M141 303.5h4m8 0h4m8 0h1m5 0h1m8 0h1m8 0h28m8 0h22m5 0h7m5 0h7m5 0h4m5 0h10m5 0h4m5 0h13m5 0h73m5 0h10m5 0h25m5 0h55m5 0h49m5 0h19m5 0h16m11 0h1m5 0h7m8 0h1m5 0h1m5 0h4m5 0h13m5 0h10m8 0h1m5 0h7m5 0h1m8 0h4m5 0h4m5 0h1m5 0h4m5 0h7m8 0h10m11 0h4m5 0h4m8 0h10m14 0h1m5 0h4m14 0h1m14 0h1m32 0h1m8 0h1m14 0h1m17 0h4m5 0h1m77 0h1M141 306.5h4m11 0h1m14 0h7m11 0h1m5 0h4m8 0h10m5 0h1m14 0h4m5 0h4m5 0h1m5 0h31m5 0h1m5 0h1m5 0h58m5 0h1m5 0h19m5 0h13m5 0h1m5 0h49m5 0h22m5 0h28m5 0h16m11 0h25m5 0h1m8 0h4m5 0h4m5 0h1m5 0h1m5 0h25m5 0h16m5 0h7m5 0h4m5 0h7m5 0h1m5 0h13m14 0h4m5 0h4m5 0h4m11 0h1m5 0h1m8 0h1m20 0h4m14 0h1m32 0h4m5 0h1m11 0h1m11 0h1m8 0h1m23 0h1m8 0h1m5 0h4m11 0h1m71 0h1M144 309.5h13m5 0h1m8 0h1m5 0h22m11 0h1m5 0h1m5 0h1m5 0h19m5 0h1m5 0h55m5 0h10m5 0h49m5 0h46m5 0h43m5 0h13m5 0h13m5 0h19m8 0h1m11 0h7m5 0h4m5 0h10m5 0h40m8 0h25m5 0h1m5 0h7m5 0h1m5 0h19m5 0h4m8 0h1m8 0h1m8 0h1m8 0h1m5 0h1m11 0h1m5 0h1m26 0h4m5 0h7m23 0h1m8 0h1m17 0h1m8 0h1m23 0h1m5 0h1m17 0h1m8 0h1m29 0h1m62 0h1M138 312.5h1m8 0h1m5 0h4m8 0h1m8 0h1m5 0h4m8 0h4m8 0h1m5 0h22m11 0h1m5 0h10m5 0h7m5 0h13m5 0h7m5 0h106m5 0h28m8 0h28m5 0h22m5 0h13m5 0h13m5 0h31m5 0h13m5 0h10m5 0h46m5 0h16m5 0h1m5 0h1m5 0h4m8 0h1m5 0h28m17 0h1m8 0h4m8 0h4m17 0h4m20 0h4m5 0h1m8 0h1m11 0h7m26 0h1m11 0h4m11 0h1m62 0h4M141 315.5h16m5 0h1m5 0h4m8 0h1m5 0h10m5 0h31m5 0h13m5 0h4m5 0h1m5 0h1m5 0h19m5 0h13m5 0h1m8 0h31m5 0h13m5 0h16m5 0h13m5 0h19m5 0h85m5 0h1m5 0h22m5 0h49m5 0h7m5 0h10m5 0h4m5 0h7m5 0h1m5 0h1m8 0h1m5 0h4m8 0h4m5 0h7m5 0h1m11 0h1m8 0h4m5 0h1m5 0h1m8 0h1m8 0h1m5 0h1m8 0h1m8 0h1m17 0h13m5 0h1m8 0h7m14 0h1m35 0h1m92 0h1M141 318.5h10m5 0h1m11 0h13m5 0h16m8 0h1m5 0h1m5 0h16m8 0h16m5 0h7m5 0h4m5 0h31m5 0h46m5 0h19m5 0h103m11 0h4m5 0h19m8 0h4m5 0h52m8 0h1m5 0h10m5 0h22m5 0h1m5 0h25m11 0h7m8 0h19m5 0h1m8 0h4m8 0h1m8 0h1m17 0h1m11 0h1m8 0h1m14 0h1m8 0h1m8 0h1m20 0h4m26 0h1m104 0h1M138 321.5h1m5 0h7m8 0h4m11 0h1m5 0h7m5 0h7m5 0h13m5 0h10m5 0h10m5 0h28m5 0h13m5 0h1m5 0h7m8 0h58m5 0h109m5 0h4m5 0h4m5 0h73m8 0h13m5 0h1m5 0h4m5 0h1m5 0h22m5 0h4m5 0h7m14 0h4m8 0h7m11 0h1m8 0h1m14 0h1m8 0h4m5 0h1m5 0h4m5 0h1m17 0h1m14 0h1m5 0h1m8 0h1m8 0h4m8 0h1m11 0h4m11 0h1m11 0h1m8 0h1m29 0h1m8 0h1M141 324.5h4m5 0h1m5 0h1m8 0h7m5 0h7m5 0h1m5 0h1m5 0h4m5 0h4m11 0h1m5 0h7m5 0h4m5 0h13m5 0h31m5 0h1m5 0h4m5 0h100m5 0h13m5 0h1m8 0h10m5 0h61m5 0h31m5 0h7m5 0h4m5 0h4m5 0h1m5 0h22m5 0h13m5 0h1m5 0h1m8 0h1m5 0h13m5 0h10m5 0h7m5 0h1m5 0h13m8 0h1m5 0h1m8 0h1m5 0h1m5 0h4m5 0h1m11 0h1m5 0h1m35 0h1m11 0h1m38 0h1m8 0h4m77 0h1m8 0h1m53 0h1M138 327.5h4m5 0h1m5 0h1m5 0h7m23 0h16m5 0h16m5 0h1m5 0h1m5 0h1m5 0h4m5 0h10m5 0h43m5 0h10m5 0h1m5 0h1m8 0h22m5 0h34m5 0h16m5 0h13m5 0h25m5 0h10m5 0h16m5 0h1m5 0h1m5 0h4m5 0h4m5 0h10m5 0h28m8 0h7m5 0h1m5 0h4m5 0h1m14 0h4m5 0h7m5 0h1m11 0h13m5 0h7m8 0h1m8 0h1m8 0h1m5 0h1m5 0h10m5 0h1m11 0h4m5 0h1m26 0h7m8 0h4m11 0h1m5 0h1m8 0h4m5 0h1m32 0h1m14 0h1m8 0h1m11 0h1m53 0h1M144 330.5h31m14 0h19m5 0h13m8 0h13m5 0h7m8 0h7m11 0h4m5 0h52m5 0h22m5 0h4m5 0h1m5 0h22m5 0h7m5 0h25m5 0h55m8 0h1m8 0h1m5 0h16m5 0h16m5 0h13m5 0h13m5 0h4m5 0h7m5 0h16m5 0h1m5 0h10m5 0h13m5 0h7m11 0h16m8 0h4m23 0h10m5 0h4m5 0h1m8 0h1m14 0h1m11 0h1m8 0h1m11 0h1m5 0h1m11 0h1m17 0h1m17 0h1M138 333.5h10m5 0h4m5 0h7m5 0h1m5 0h4m8 0h16m5 0h1m5 0h37m5 0h4m5 0h49m5 0h4m5 0h40m5 0h4m5 0h40m5 0h1m5 0h10m5 0h28m5 0h19m5 0h4m5 0h34m5 0h4m5 0h4m5 0h4m5 0h13m5 0h10m5 0h1m5 0h4m5 0h4m11 0h7m8 0h4m5 0h10m8 0h10m5 0h1m5 0h7m5 0h1m5 0h1m8 0h4m8 0h1m8 0h4m5 0h7m5 0h1m8 0h4m8 0h4m5 0h1m14 0h1m14 0h1m8 0h1m38 0h7m20 0h1M138 336.5h7m8 0h4m5 0h1m5 0h1m8 0h1m11 0h13m5 0h1m5 0h4m5 0h1m5 0h1m5 0h7m5 0h1m5 0h16m5 0h10m5 0h22m8 0h7m5 0h4m8 0h4m5 0h100m5 0h1m5 0h7m5 0h7m5 0h16m5 0h7m5 0h1m5 0h25m5 0h4m5 0h13m8 0h7m5 0h7m8 0h10m5 0h1m5 0h1m8 0h1m5 0h1m5 0h1m5 0h34m5 0h4m8 0h4m5 0h13m5 0h1m8 0h4m5 0h1m11 0h1m17 0h1m5 0h4m29 0h1m8 0h1m38 0h4m26 0h1m44 0h1M144 339.5h4m5 0h10m17 0h13m8 0h7m8 0h10m5 0h7m5 0h43m5 0h4m5 0h55m5 0h19m5 0h13m5 0h19m5 0h25m5 0h58m5 0h1m5 0h13m5 0h19m5 0h16m5 0h7m8 0h13m5 0h10m8 0h1m5 0h4m8 0h10m5 0h22m5 0h10m5 0h1m5 0h1m5 0h1m8 0h4m8 0h1m8 0h7m5 0h1m23 0h1m5 0h7m26 0h1m26 0h4m5 0h1m17 0h1m47 0h1m8 0h1m5 0h4m47 0h1m5 0h1M138 342.5h7m8 0h4m11 0h1m5 0h7m5 0h4m5 0h10m8 0h7m8 0h37m5 0h1m5 0h22m8 0h4m11 0h10m5 0h4m5 0h16m5 0h28m5 0h22m5 0h4m5 0h31m5 0h31m5 0h1m5 0h4m8 0h25m5 0h7m5 0h1m5 0h10m5 0h4m5 0h16m5 0h7m5 0h7m5 0h40m5 0h4m11 0h7m5 0h10m8 0h4m5 0h7m5 0h10m5 0h4m5 0h4m8 0h4m5 0h7m8 0h1m17 0h1m17 0h1m38 0h1m5 0h4m20 0h1m44 0h1m47 0h1m5 0h1M144 345.5h7m8 0h10m5 0h13m5 0h13m11 0h7m5 0h10m5 0h7m5 0h1m5 0h1m8 0h1m5 0h1m5 0h40m5 0h13m5 0h13m5 0h40m5 0h25m5 0h7m8 0h16m5 0h7m5 0h70m5 0h1m5 0h13m5 0h10m14 0h7m5 0h4m8 0h22m5 0h4m5 0h4m5 0h4m5 0h4m5 0h7m8 0h7m8 0h1m5 0h1m14 0h1m5 0h1m8 0h10m8 0h1m14 0h1m8 0h1m8 0h1m8 0h1m11 0h1m17 0h1m23 0h1m8 0h1m38 0h1m23 0h1m20 0h4m26 0h1M138 348.5h4m14 0h4m5 0h13m20 0h7m5 0h70m5 0h22m5 0h52m5 0h34m5 0h1m5 0h1m5 0h34m5 0h7m5 0h10m8 0h7m5 0h25m5 0h1m5 0h37m5 0h7m8 0h7m5 0h16m5 0h7m5 0h10m8 0h4m5 0h10m5 0h1m5 0h7m5 0h4m5 0h13m5 0h1m32 0h1m5 0h1m14 0h7m8 0h1m17 0h1m8 0h1m11 0h1m14 0h4m8 0h1m8 0h1m11 0h4m29 0h1m47 0h1m32 0h1m8 0h1m41 0h1M147 351.5h1m14 0h13m5 0h1m5 0h1m5 0h1m5 0h13m8 0h19m5 0h28m5 0h22m5 0h10m5 0h4m5 0h16m5 0h7m5 0h28m5 0h16m5 0h1m5 0h25m5 0h7m5 0h19m5 0h100m5 0h31m5 0h13m5 0h13m5 0h19m5 0h4m8 0h1m8 0h4m5 0h1m5 0h4m11 0h1m11 0h7m11 0h1m11 0h7m5 0h4m14 0h1m8 0h4m20 0h1m8 0h1m5 0h1m8 0h1m86 0h1m20 0h1M144 354.5h1m11 0h1m11 0h4m5 0h7m5 0h16m5 0h1m5 0h4m5 0h4m5 0h19m5 0h1m5 0h7m5 0h1m5 0h16m11 0h34m5 0h25m5 0h67m5 0h25m8 0h28m5 0h13m5 0h40m5 0h13m5 0h7m5 0h19m5 0h22m11 0h16m5 0h1m5 0h1m5 0h1m14 0h1m5 0h16m5 0h7m5 0h1m5 0h1m8 0h1m5 0h1m14 0h1m8 0h1m5 0h1m5 0h1m8 0h1m23 0h1m5 0h1m17 0h1m5 0h1m20 0h1m44 0h1m5 0h1m8 0h1m98 0h1M141 357.5h7m8 0h7m8 0h7m5 0h4m11 0h1m5 0h7m5 0h28m5 0h10m8 0h25m5 0h4m5 0h10m5 0h4m5 0h16m5 0h1m8 0h22m5 0h4m8 0h49m5 0h25m5 0h1m5 0h13m5 0h19m5 0h1m5 0h4m5 0h22m5 0h25m8 0h19m8 0h7m5 0h1m5 0h13m5 0h1m5 0h1m14 0h1m8 0h1m5 0h1m8 0h7m8 0h1m5 0h1m5 0h1m8 0h1m8 0h1m8 0h4m5 0h1m5 0h4m8 0h4m14 0h4m8 0h1m17 0h4m14 0h1m5 0h4m11 0h1m38 0h1m20 0h1m8 0h1M138 360.5h1m5 0h1m5 0h1m8 0h4m5 0h7m5 0h4m5 0h7m5 0h1m17 0h1m5 0h10m11 0h4m8 0h1m8 0h4m5 0h25m5 0h13m5 0h82m5 0h7m5 0h4m5 0h58m5 0h16m5 0h1m5 0h1m5 0h10m5 0h19m8 0h1m5 0h22m5 0h7m5 0h22m8 0h4m5 0h1m5 0h28m11 0h10m8 0h10m8 0h1m8 0h1m8 0h7m5 0h1m5 0h1m8 0h4m5 0h1m29 0h7m20 0h1m17 0h1m23 0h1m23 0h1m44 0h1m20 0h1M138 363.5h1m8 0h1m11 0h1m5 0h4m8 0h4m8 0h4m8 0h4m5 0h1m5 0h1m5 0h1m5 0h1m8 0h1m8 0h7m8 0h7m5 0h19m5 0h4m5 0h13m8 0h7m5 0h16m5 0h1m5 0h7m8 0h4m5 0h10m5 0h1m5 0h1m5 0h10m5 0h19m11 0h19m5 0h10m5 0h31m5 0h4m5 0h1m5 0h4m5 0h1m5 0h4m5 0h4m5 0h19m5 0h4m8 0h10m8 0h1m5 0h7m11 0h4m11 0h7m8 0h1m8 0h4m5 0h4m5 0h4m5 0h4m11 0h1m8 0h4m17 0h1m5 0h1m5 0h1m32 0h4m26 0h1m35 0h1m11 0h1m20 0h1M150 366.5h1m5 0h1m11 0h4m5 0h7m8 0h4m8 0h13m5 0h13m5 0h1m5 0h4m11 0h1m5 0h7m5 0h4m5 0h1m11 0h7m5 0h1m8 0h1m5 0h1m5 0h13m5 0h16m8 0h1m8 0h4m8 0h22m5 0h7m5 0h1m8 0h7m5 0h7m8 0h7m5 0h13m5 0h19m8 0h7m8 0h1m8 0h4m5 0h4m5 0h4m11 0h4m5 0h1m8 0h10m8 0h10m8 0h7m5 0h4m5 0h1m8 0h1m5 0h1m5 0h7m8 0h4m5 0h1m8 0h1m8 0h1m8 0h1m14 0h4m11 0h4m11 0h1m44 0h1m29 0h1m8 0h1m53 0h1m5 0h1m41 0h1m23 0h1M138 369.5h1m8 0h1m8 0h1m11 0h1m11 0h7m5 0h7m5 0h4m5 0h4m5 0h7m11 0h4m5 0h10m5 0h1m14 0h19m8 0h19m5 0h1m5 0h4m5 0h31m5 0h1m5 0h49m5 0h10m5 0h10m5 0h7m5 0h4m5 0h16m5 0h4m5 0h1m5 0h1m5 0h4m5 0h16m5 0h4m8 0h25m8 0h10m14 0h1m8 0h4m5 0h1m5 0h7m5 0h4m5 0h4m5 0h1m5 0h1m8 0h4m5 0h1m8 0h4m5 0h7m11 0h4m11 0h1m5 0h4m11 0h4m26 0h1m5 0h1m14 0h1m26 0h1m44 0h1m26 0h1m8 0h1m17 0h1m56 0h4M141 372.5h1m5 0h4m5 0h1m5 0h1m8 0h7m5 0h7m11 0h7m5 0h4m5 0h13m5 0h1m5 0h7m5 0h4m8 0h19m5 0h10m8 0h7m5 0h1m11 0h1m14 0h1m5 0h4m5 0h22m5 0h31m5 0h1m5 0h1m5 0h13m5 0h19m5 0h19m5 0h1m5 0h4m5 0h19m5 0h7m5 0h10m5 0h4m5 0h16m5 0h25m5 0h1m8 0h1m5 0h1m5 0h4m5 0h4m11 0h1m8 0h7m5 0h1m5 0h4m8 0h1m14 0h1m8 0h1m5 0h1m41 0h1m11 0h4m68 0h1m5 0h1m98 0h1m59 0h1M144 375.5h1m5 0h19m8 0h4m5 0h4m11 0h4m5 0h10m5 0h4m5 0h7m5 0h1m5 0h7m8 0h22m5 0h1m8 0h16m5 0h1m5 0h13m5 0h4m5 0h28m5 0h7m5 0h4m5 0h22m5 0h7m5 0h7m5 0h22m5 0h1m5 0h19m5 0h10m5 0h16m5 0h4m8 0h1m11 0h1m5 0h7m5 0h7m5 0h1m5 0h16m8 0h1m8 0h1m5 0h4m5 0h4m5 0h4m5 0h1m5 0h1m8 0h1m8 0h4m8 0h4m5 0h4m8 0h1m14 0h13m20 0h1m8 0h1m53 0h10m8 0h1m71 0h1m53 0h1m8 0h1M144 378.5h1m5 0h1m5 0h16m14 0h7m8 0h7m5 0h7m5 0h25m5 0h16m8 0h7m17 0h1m5 0h19m5 0h73m5 0h1m5 0h43m5 0h4m5 0h43m5 0h7m5 0h13m5 0h4m5 0h13m5 0h1m8 0h1m8 0h7m8 0h19m5 0h19m8 0h4m8 0h1m5 0h7m5 0h1m5 0h13m8 0h1m8 0h4m14 0h4m5 0h1m8 0h7m11 0h1m5 0h4m86 0h1m23 0h1m26 0h1m41 0h1M138 381.5h1m5 0h1m5 0h4m8 0h1m5 0h4m5 0h7m8 0h13m5 0h1m5 0h10m5 0h1m5 0h1m5 0h1m14 0h10m5 0h1m5 0h16m5 0h28m5 0h7m5 0h25m5 0h13m5 0h4m5 0h7m8 0h4m5 0h13m5 0h37m5 0h7m5 0h4m5 0h10m5 0h4m5 0h10m5 0h16m5 0h1m5 0h1m5 0h13m8 0h1m11 0h1m5 0h1m5 0h1m8 0h4m5 0h10m5 0h7m5 0h13m8 0h1m5 0h1m5 0h1m5 0h4m14 0h13m5 0h7m14 0h1m5 0h7m35 0h1m11 0h1m5 0h1m8 0h7m11 0h1m17 0h1m59 0h1M147 384.5h1m5 0h13m5 0h4m5 0h4m11 0h1m8 0h1m5 0h4m14 0h16m8 0h16m5 0h1m5 0h1m8 0h10m5 0h4m5 0h13m5 0h1m11 0h1m8 0h22m11 0h28m5 0h1m5 0h4m5 0h1m5 0h13m5 0h4m11 0h13m5 0h13m8 0h10m8 0h10m8 0h4m5 0h28m5 0h7m5 0h10m8 0h10m5 0h4m8 0h4m8 0h4m8 0h7m5 0h1m17 0h13m5 0h1m5 0h7m5 0h7m8 0h7m5 0h4m5 0h1m8 0h1m11 0h1m77 0h4m32 0h1m41 0h1m47 0h1M147 387.5h1m11 0h1m11 0h16m5 0h4m5 0h7m5 0h4m5 0h1m5 0h13m5 0h1m5 0h1m5 0h4m5 0h1m5 0h37m5 0h13m8 0h1m8 0h4m5 0h1m5 0h19m8 0h7m11 0h10m5 0h4m5 0h7m5 0h7m5 0h37m11 0h1m8 0h4m5 0h4m8 0h1m5 0h4m5 0h22m5 0h31m8 0h4m5 0h4m8 0h1m11 0h1m14 0h4m8 0h10m5 0h1m8 0h1m5 0h1m14 0h1m5 0h1m5 0h4m17 0h4m14 0h4m8 0h1m5 0h1m17 0h1m5 0h7m14 0h1m8 0h1m17 0h1m5 0h1m8 0h1m11 0h7m20 0h1m86 0h1M150 390.5h7m5 0h1m8 0h1m14 0h7m5 0h1m5 0h1m5 0h1m5 0h16m5 0h7m5 0h1m5 0h34m8 0h4m8 0h7m5 0h7m5 0h40m5 0h25m5 0h4m5 0h1m5 0h7m5 0h61m11 0h10m5 0h16m8 0h7m5 0h7m8 0h1m5 0h7m5 0h4m8 0h10m5 0h13m8 0h7m8 0h4m5 0h1m20 0h1m8 0h1m5 0h1m23 0h4m5 0h1m17 0h1m5 0h1m5 0h1m14 0h1m17 0h4m5 0h4m5 0h1m17 0h1m23 0h4m23 0h1m62 0h1m14 0h1M147 393.5h1m17 0h4m23 0h4m14 0h4m5 0h13m17 0h4m11 0h4m5 0h4m11 0h10m8 0h1m11 0h4m5 0h10m5 0h1m11 0h34m5 0h4m5 0h19m5 0h13m5 0h7m8 0h22m5 0h1m5 0h10m5 0h7m5 0h10m5 0h7m5 0h25m5 0h1m5 0h10m5 0h7m8 0h4m14 0h10m5 0h1m5 0h1m5 0h4m5 0h19m11 0h4m8 0h1m8 0h10m8 0h1m5 0h1m8 0h4m17 0h1m8 0h4m8 0h1m8 0h1m8 0h1m44 0h1m11 0h1m17 0h1m56 0h7m17 0h1M138 396.5h4m14 0h1m5 0h1m5 0h4m5 0h1m5 0h1m11 0h4m8 0h1m20 0h1m5 0h16m5 0h1m5 0h4m8 0h7m8 0h16m5 0h7m5 0h1m8 0h7m5 0h13m5 0h1m5 0h4m8 0h10m8 0h13m11 0h4m11 0h13m5 0h1m5 0h10m5 0h1m5 0h4m5 0h1m5 0h7m5 0h1m8 0h1m17 0h1m5 0h4m8 0h1m5 0h1m8 0h7m5 0h1m23 0h10m8 0h13m8 0h4m5 0h28m5 0h1m8 0h4m11 0h1m14 0h7m17 0h1m17 0h4m8 0h1m32 0h4m14 0h1m23 0h1m8 0h4m59 0h1M180 399.5h22m11 0h1m5 0h1m5 0h4m5 0h1m8 0h10m5 0h1m11 0h1m8 0h4m5 0h7m14 0h1m5 0h1m8 0h7m17 0h16m5 0h1m5 0h1m11 0h1m5 0h1m5 0h1m17 0h1m5 0h1m5 0h1m5 0h1m5 0h7m5 0h10m5 0h13m8 0h4m11 0h19m5 0h1m8 0h10m5 0h13m5 0h1m14 0h4m8 0h1m14 0h13m5 0h7m11 0h4m5 0h4m8 0h7m8 0h4m38 0h1m14 0h1m8 0h7m8 0h7m5 0h1m29 0h1m74 0h1m17 0h1m11 0h1m41 0h1m5 0h1M141 402.5h1m5 0h10m5 0h1m8 0h4m8 0h1m5 0h1m17 0h1m8 0h4m14 0h7m5 0h7m5 0h1m5 0h4m14 0h7m8 0h7m5 0h1m5 0h1m8 0h4m11 0h1m5 0h13m5 0h1m11 0h1m8 0h1m5 0h1m5 0h7m5 0h7m8 0h1m5 0h10m5 0h1m11 0h4m17 0h10m5 0h1m5 0h4m5 0h4m5 0h1m5 0h4m11 0h10m14 0h7m14 0h1m5 0h1m5 0h13m11 0h1m5 0h10m14 0h1m5 0h1m5 0h16m5 0h4m11 0h1m17 0h1m5 0h4m8 0h4m14 0h1m5 0h1m5 0h1m17 0h1m11 0h1m26 0h1m8 0h1m26 0h1m5 0h1m23 0h1m11 0h1m29 0h1m44 0h1M147 405.5h1m11 0h1m8 0h1m14 0h1m14 0h1m17 0h7m17 0h4m8 0h1m5 0h1m14 0h1m17 0h13m8 0h1m8 0h1m8 0h10m8 0h4m8 0h25m5 0h16m11 0h52m11 0h1m5 0h4m23 0h1m5 0h7m8 0h10m14 0h10m5 0h1m11 0h1m5 0h1m5 0h7m17 0h7m5 0h1m8 0h1m8 0h1m8 0h1m8 0h4m8 0h4m5 0h1m8 0h1m11 0h4m14 0h7m5 0h1m14 0h1m5 0h1m8 0h1m11 0h1m29 0h1m5 0h1m41 0h1m20 0h1m65 0h1m74 0h1m5 0h1M141 408.5h1m8 0h7m5 0h1m5 0h1m14 0h1m8 0h1m8 0h4m20 0h1m5 0h1m14 0h10m8 0h13m14 0h7m5 0h13m11 0h10m5 0h4m5 0h1m5 0h1m8 0h1m5 0h1m5 0h7m5 0h4m5 0h7m5 0h1m5 0h7m5 0h4m5 0h1m5 0h13m5 0h10m5 0h1m8 0h1m14 0h7m8 0h1m5 0h1m5 0h1m5 0h16m5 0h7m5 0h1m5 0h1m5 0h1m5 0h1m5 0h4m5 0h1m5 0h1m5 0h1m8 0h1m8 0h4m8 0h4m8 0h4m5 0h4m32 0h1m5 0h4m5 0h4m14 0h4m14 0h1m11 0h4m5 0h1m5 0h1m47 0h1m8 0h1m62 0h1m68 0h1m11 0h1m11 0h1m35 0h1M138 411.5h4m14 0h1m5 0h1m11 0h1m11 0h1m8 0h1m8 0h1m17 0h1m8 0h4m8 0h4m11 0h7m5 0h1m5 0h4m5 0h1m8 0h1m5 0h22m5 0h4m11 0h13m5 0h1m5 0h1m5 0h4m5 0h1m5 0h1m5 0h13m5 0h4m5 0h10m8 0h1m5 0h13m5 0h1m5 0h1m5 0h1m8 0h7m5 0h1m8 0h4m5 0h13m11 0h7m5 0h1m5 0h1m8 0h10m8 0h1m5 0h10m5 0h1m5 0h7m5 0h1m11 0h4m20 0h4m11 0h10m11 0h1m5 0h1m5 0h1m5 0h1m8 0h1m14 0h1m8 0h1m5 0h7m5 0h1m17 0h1m11 0h1m20 0h1m14 0h1m50 0h1m11 0h1m17 0h4M147 414.5h1m20 0h1m17 0h4m8 0h1m11 0h1m8 0h7m11 0h1m5 0h4m20 0h1m5 0h1m11 0h16m11 0h1m5 0h1m8 0h1m5 0h1m8 0h7m5 0h7m8 0h1m8 0h1m5 0h10m5 0h1m8 0h25m8 0h1m8 0h4m5 0h1m5 0h1m5 0h1m5 0h19m11 0h16m5 0h10m11 0h4m5 0h1m5 0h1m5 0h1m5 0h10m5 0h10m8 0h1m8 0h1m8 0h1m5 0h10m11 0h1m5 0h10m8 0h1m14 0h1m5 0h1m8 0h1m8 0h1m8 0h1m8 0h1m5 0h1m8 0h1m5 0h1m14 0h1m8 0h7m11 0h1m83 0h1m14 0h1m86 0h1m50 0h1M156 417.5h4m5 0h1m8 0h4m5 0h4m5 0h1m8 0h1m14 0h13m11 0h1m5 0h4m5 0h1m11 0h1m11 0h4m5 0h4m5 0h4m5 0h10m5 0h7m8 0h4m5 0h7m8 0h4m5 0h1m5 0h4m5 0h7m5 0h1m5 0h1m5 0h16m8 0h4m8 0h4m5 0h31m5 0h4m8 0h4m5 0h7m5 0h7m8 0h13m5 0h1m11 0h1m5 0h10m14 0h4m5 0h1m23 0h1m14 0h1m23 0h7m8 0h7m29 0h1m14 0h1m5 0h1m11 0h1m5 0h1m8 0h1m8 0h1m14 0h1m11 0h1m35 0h1m65 0h1m14 0h1m116 0h1M141 420.5h4m5 0h4m5 0h7m11 0h1m5 0h1m11 0h1m5 0h7m5 0h1m5 0h1m8 0h1m11 0h1m5 0h1m5 0h7m5 0h1m11 0h4m5 0h1m5 0h19m5 0h28m5 0h1m11 0h7m5 0h1m5 0h4m5 0h31m5 0h10m11 0h7m8 0h10m8 0h1m11 0h1m5 0h1m5 0h1m5 0h4m8 0h7m8 0h19m5 0h19m5 0h4m5 0h7m8 0h1m5 0h4m11 0h1m11 0h7m5 0h1m8 0h1m11 0h13m26 0h1m5 0h1m11 0h1m8 0h4m17 0h1m17 0h1m5 0h1m5 0h4m11 0h1m50 0h4m107 0h1m47 0h1M144 423.5h4m8 0h1m8 0h4m11 0h1m5 0h1m5 0h7m11 0h7m8 0h1m11 0h4m5 0h1m5 0h1m5 0h1m5 0h4m5 0h16m5 0h1m5 0h7m26 0h4m5 0h4m5 0h13m5 0h13m5 0h16m14 0h4m5 0h13m11 0h34m8 0h4m8 0h1m5 0h7m5 0h25m5 0h1m5 0h7m5 0h1m5 0h10m5 0h4m5 0h1m5 0h4m5 0h4m5 0h1m23 0h4m5 0h1m14 0h4m5 0h7m5 0h7m8 0h1m11 0h1m29 0h1m14 0h1m47 0h4m122 0h1m8 0h1M153 426.5h1m20 0h1m8 0h1m5 0h4m20 0h10m23 0h4m5 0h1m5 0h1m5 0h4m8 0h16m5 0h1m5 0h1m5 0h4m11 0h7m5 0h7m5 0h4m8 0h4m8 0h4m5 0h4m8 0h34m5 0h4m5 0h13m5 0h7m8 0h4m8 0h1m5 0h28m14 0h13m5 0h1m11 0h16m17 0h1m5 0h1m5 0h1m5 0h1m5 0h1m8 0h4m14 0h1m5 0h1m5 0h1m5 0h1m8 0h1m8 0h1m8 0h1m5 0h1m14 0h1m5 0h1m8 0h7m8 0h1m32 0h10m8 0h4m5 0h1m8 0h1m32 0h1m23 0h1m38 0h1m20 0h1m26 0h4M138 429.5h1m5 0h1m14 0h1m5 0h1m5 0h1m5 0h1m23 0h4m8 0h7m14 0h1m5 0h1m5 0h1m8 0h4m8 0h1m14 0h7m8 0h1m14 0h1m14 0h1m17 0h4m5 0h7m5 0h1m5 0h1m5 0h1m8 0h1m5 0h1m11 0h1m14 0h10m11 0h1m5 0h7m11 0h1m5 0h4m8 0h4m5 0h1m5 0h1m5 0h1m8 0h7m11 0h4m8 0h4m29 0h1m8 0h1m5 0h4m17 0h1m8 0h1m14 0h1m8 0h1m14 0h1m8 0h1m32 0h1m11 0h1m8 0h1m5 0h1m92 0h1m89 0h1m68 0h1M165 432.5h4m17 0h1m26 0h1m23 0h1m5 0h1m11 0h1m8 0h4m5 0h1m8 0h4m26 0h1m8 0h4m5 0h1m8 0h4m11 0h7m8 0h4m5 0h1m5 0h1m17 0h13m5 0h1m8 0h7m11 0h4m8 0h7m8 0h1m5 0h1m5 0h7m11 0h4m11 0h4m26 0h4m5 0h1m11 0h4m11 0h7m20 0h4m20 0h4m11 0h1m11 0h1m44 0h4m23 0h1m5 0h1m20 0h1m8 0h1m5 0h1m26 0h1m5 0h1m41 0h4m29 0h1m29 0h1M141 435.5h1m8 0h1m5 0h1m8 0h1m14 0h1m5 0h1m32 0h1m5 0h1m17 0h7m5 0h1m5 0h4m5 0h7m23 0h1m14 0h1m8 0h10m11 0h4m8 0h1m5 0h7m5 0h1m8 0h1m8 0h1m5 0h4m5 0h4m8 0h4m14 0h4m5 0h19m5 0h7m23 0h1m5 0h1m5 0h1m5 0h4m5 0h1m8 0h1m14 0h4m5 0h10m5 0h7m5 0h1m5 0h1m8 0h4m8 0h1m8 0h7m5 0h1m5 0h1m29 0h4m11 0h1m5 0h1m8 0h1m11 0h4m8 0h1m14 0h1m8 0h1m38 0h1m68 0h1m29 0h1m11 0h1m98 0h1M138 438.5h1m17 0h1m5 0h1m11 0h4m14 0h1m20 0h4m14 0h4m14 0h1m35 0h1m11 0h1m11 0h4m5 0h1m5 0h22m5 0h4m5 0h10m11 0h1m20 0h1m8 0h4m11 0h1m8 0h4m5 0h10m8 0h1m8 0h1m5 0h1m8 0h1m5 0h1m5 0h1m14 0h4m5 0h1m5 0h7m5 0h1m17 0h4m5 0h1m11 0h10m8 0h1m5 0h4m14 0h4m5 0h1m35 0h1m11 0h4m47 0h1m5 0h1m11 0h1m23 0h1m8 0h4m14 0h4m11 0h1m5 0h1m5 0h1m77 0h1m86 0h1M138 441.5h1m20 0h1m5 0h1m14 0h1m20 0h4m26 0h4m5 0h1m5 0h1m5 0h1m5 0h1m8 0h4m5 0h1m14 0h4m5 0h7m5 0h7m8 0h7m5 0h1m5 0h7m8 0h4m8 0h13m5 0h1m5 0h4m8 0h1m5 0h1m14 0h1m5 0h1m5 0h1m14 0h7m5 0h4m5 0h1m5 0h1m11 0h1m5 0h1m5 0h1m8 0h10m11 0h1m14 0h7m14 0h1m5 0h4m8 0h1m14 0h1m32 0h1m11 0h1m14 0h1m17 0h1m17 0h4m50 0h1m65 0h1m35 0h1m32 0h1m5 0h1m71 0h1m29 0h1M150 444.5h1m17 0h1m8 0h4m5 0h4m8 0h1m20 0h4m26 0h4m29 0h4m5 0h7m5 0h1m8 0h1m14 0h1m11 0h1m11 0h4m8 0h1m5 0h4m17 0h1m8 0h1m8 0h4m8 0h1m5 0h1m20 0h7m11 0h1m11 0h1m20 0h4m11 0h10m8 0h1m5 0h1m14 0h1m5 0h1m17 0h1m5 0h1m5 0h13m5 0h7m11 0h4m14 0h1m5 0h7m29 0h4m20 0h1m11 0h1m29 0h1m17 0h1m8 0h1m35 0h1m35 0h1m5 0h1m41 0h1m149 0h1M150 447.5h1m11 0h10m8 0h1m17 0h1m11 0h1m5 0h1m20 0h1m5 0h1m5 0h1m5 0h1m11 0h1m14 0h1m11 0h7m5 0h4m8 0h7m14 0h4m14 0h4m5 0h1m11 0h4m14 0h1m5 0h4m14 0h1m5 0h1m5 0h1m17 0h1m5 0h4m8 0h1m8 0h1m29 0h1m29 0h16m11 0h1m17 0h10m5 0h1m11 0h1m5 0h1m8 0h4m11 0h1m20 0h1m8 0h1m8 0h1m11 0h4m5 0h1m17 0h4m14 0h1m44 0h1m59 0h1m89 0h1M141 450.5h1m41 0h1m8 0h1m5 0h4m5 0h1m26 0h1m11 0h7m8 0h1m11 0h1m14 0h1m5 0h1m8 0h1m5 0h1m11 0h1m11 0h1m8 0h1m8 0h7m5 0h1m5 0h1m5 0h4m5 0h1m11 0h1m11 0h4m5 0h1m8 0h1m5 0h1m14 0h13m5 0h1m5 0h4m8 0h7m17 0h1m8 0h1m5 0h1m8 0h4m14 0h4m14 0h4m8 0h10m5 0h4m26 0h4m5 0h4m20 0h1m14 0h1m14 0h1m5 0h4m29 0h4m5 0h1m20 0h1m17 0h1m14 0h1m14 0h1m5 0h1m35 0h1m53 0h1m17 0h1M144 453.5h1m14 0h1m5 0h1m8 0h1m5 0h1m5 0h1m14 0h1m8 0h1m5 0h1m5 0h1m5 0h1m5 0h1m23 0h4m11 0h1m5 0h1m5 0h13m5 0h4m5 0h4m5 0h4m5 0h1m5 0h1m8 0h1m17 0h1m5 0h4m5 0h4m5 0h1m14 0h1m5 0h4m8 0h4m11 0h13m5 0h4m11 0h1m23 0h4m5 0h1m14 0h7m5 0h7m14 0h10m17 0h1m11 0h1m14 0h1m5 0h1m8 0h7m11 0h4m5 0h1m5 0h7m11 0h4m8 0h1m5 0h1m5 0h1m5 0h1m5 0h1m11 0h1m32 0h1m41 0h1m5 0h1m197 0h1M156 456.5h1m20 0h1m8 0h1m8 0h1m5 0h1m8 0h1m11 0h4m8 0h1m5 0h1m5 0h1m17 0h1m8 0h10m8 0h7m5 0h10m8 0h13m5 0h7m11 0h1m5 0h1m5 0h7m5 0h1m5 0h4m8 0h1m8 0h4m8 0h1m11 0h1m5 0h4m8 0h4m11 0h1m17 0h1m8 0h1m17 0h7m11 0h1m5 0h4m20 0h1m14 0h1m14 0h1m14 0h1m20 0h4m5 0h1m20 0h1m5 0h1m11 0h1m5 0h1m5 0h1m20 0h4m8 0h1m5 0h1m8 0h1m47 0h1m17 0h4m155 0h1m26 0h1M144 459.5h1m17 0h1m11 0h1m14 0h1m41 0h1m5 0h1m5 0h1m11 0h1m17 0h4m5 0h1m8 0h1m14 0h1m5 0h1m11 0h1m14 0h1m11 0h1m8 0h1m5 0h1m17 0h7m5 0h7m5 0h7m11 0h16m8 0h10m8 0h1m5 0h13m5 0h4m8 0h4m5 0h1m5 0h16m17 0h7m5 0h4m23 0h1m17 0h1m5 0h1m8 0h1m5 0h1m50 0h1m8 0h1m20 0h1m5 0h1m8 0h4m11 0h1m14 0h1m17 0h1m14 0h1m5 0h1m5 0h1m14 0h1m41 0h1m41 0h1M168 462.5h1m23 0h1m8 0h1m20 0h1m17 0h1m20 0h1m5 0h1m32 0h1m5 0h7m14 0h1m5 0h7m8 0h1m29 0h1m8 0h1m8 0h1m5 0h1m8 0h7m32 0h1m20 0h1m8 0h7m14 0h1m8 0h1m5 0h1m17 0h4m11 0h1m35 0h1m8 0h1m8 0h1m41 0h1m5 0h1m17 0h1m5 0h1m26 0h1m8 0h1m74 0h1m35 0h1m14 0h1m11 0h1m41 0h1m56 0h1m8 0h1M156 465.5h4m29 0h1m53 0h1m17 0h1m17 0h1m5 0h1m17 0h4m5 0h4m17 0h1m29 0h1m14 0h7m14 0h1m5 0h4m8 0h1m5 0h1m14 0h4m8 0h1m20 0h1m29 0h4m8 0h4m14 0h1m14 0h1m29 0h1m17 0h1m14 0h1m14 0h1m26 0h1m8 0h1m23 0h1m14 0h1m5 0h1m14 0h1m8 0h1m5 0h1m29 0h1m26 0h4m11 0h1m8 0h1m14 0h1m44 0h1m8 0h1m50 0h1m17 0h1M141 468.5h1m17 0h1m35 0h1m5 0h1m5 0h1m32 0h1m17 0h1m17 0h7m11 0h1m8 0h1m8 0h1m26 0h4m11 0h1m17 0h4m11 0h1m17 0h7m11 0h1m8 0h1m5 0h1m5 0h1m32 0h7m5 0h7m17 0h1m8 0h1m38 0h1m8 0h1m11 0h1m11 0h1m17 0h1m11 0h1m20 0h1m8 0h1m8 0h1m5 0h1m11 0h4m89 0h1m29 0h1m62 0h1m50 0h1m89 0h1M162 471.5h1m26 0h1m8 0h1m5 0h1m47 0h1m14 0h4m5 0h1m8 0h1m5 0h1m11 0h1m11 0h7m8 0h1m8 0h1m5 0h1m8 0h1m5 0h1m5 0h7m11 0h1m8 0h1m5 0h1m5 0h1m11 0h1m5 0h1m5 0h4m11 0h1m20 0h10m11 0h1m5 0h7m8 0h4m14 0h1m8 0h1m14 0h1m5 0h10m11 0h1m5 0h1m11 0h1m17 0h4m23 0h1m8 0h1m44 0h1m44 0h1m14 0h1m17 0h1m23 0h1m5 0h1m29 0h4m20 0h1m35 0h1m119 0h1M141 474.5h1m5 0h1m8 0h7m20 0h1m32 0h1m14 0h1m5 0h1m14 0h1m23 0h4m5 0h1m14 0h4m8 0h1m14 0h4m11 0h7m8 0h4m23 0h1m5 0h7m8 0h1m14 0h1m5 0h4m5 0h7m14 0h1m11 0h1m5 0h4m5 0h1m8 0h1m8 0h1m20 0h1m14 0h1m5 0h10m8 0h1m11 0h4m35 0h1m8 0h1m17 0h1m5 0h1m8 0h4m14 0h1m14 0h4m17 0h1m14 0h1m14 0h1m35 0h1m56 0h1m14 0h1m29 0h1m29 0h1m5 0h1m14 0h1m47 0h1m5 0h1M153 477.5h1m5 0h1m26 0h1m17 0h1m20 0h4m17 0h1m32 0h1m17 0h1m8 0h1m5 0h1m11 0h1m14 0h1m5 0h7m17 0h10m5 0h10m14 0h1m5 0h4m8 0h4m5 0h4m11 0h1m5 0h1m5 0h1m14 0h1m5 0h1m8 0h1m5 0h1m5 0h1m8 0h1m14 0h1m14 0h4m35 0h1m38 0h1m35 0h1m35 0h1m5 0h1m62 0h4m11 0h1m29 0h1m11 0h1m38 0h1m5 0h1m23 0h1m125 0h1M174 480.5h1m8 0h1m44 0h4m8 0h1m5 0h1m5 0h1m5 0h4m11 0h4m35 0h1m5 0h4m5 0h1m5 0h1m8 0h4m23 0h1m11 0h4m8 0h10m5 0h4m17 0h7m8 0h1m23 0h1m5 0h7m5 0h1m5 0h4m5 0h1m8 0h1m8 0h4m26 0h1m17 0h1m8 0h1m8 0h1m8 0h1m20 0h1m11 0h1m23 0h1m8 0h1m5 0h4m5 0h1m20 0h4m5 0h1m29 0h1m29 0h1m65 0h4m14 0h1m8 0h1m8 0h1m38 0h4m104 0h1M165 483.5h1m23 0h1m47 0h4m5 0h1m11 0h1m17 0h1m8 0h4m11 0h1m8 0h4m11 0h1m8 0h1m5 0h1m5 0h4m14 0h4m5 0h1m5 0h4m20 0h1m8 0h1m20 0h1m5 0h4m8 0h1m8 0h4m8 0h1m29 0h1m14 0h1m11 0h4m11 0h1m8 0h1m5 0h4m5 0h1m23 0h1m32 0h1m11 0h1m5 0h1m17 0h1m5 0h1m23 0h4m5 0h1m11 0h1m23 0h10m47 0h1m5 0h1m14 0h1m11 0h1m74 0h1m17 0h1m98 0h1M153 486.5h1m8 0h1m29 0h4m8 0h1m26 0h1m11 0h1m23 0h4m5 0h1m11 0h1m17 0h4m8 0h1m17 0h4m17 0h1m5 0h1m5 0h4m17 0h4m8 0h1m14 0h4m8 0h1m5 0h1m11 0h1m5 0h1m11 0h4m11 0h4m5 0h1m11 0h1m5 0h1m5 0h1m8 0h4m8 0h7m5 0h1m14 0h1m5 0h1m23 0h4m89 0h1m17 0h1m56 0h1m5 0h1m47 0h1m59 0h1m167 0h1M144 489.5h4m32 0h1m5 0h1m11 0h1m26 0h1m5 0h7m5 0h1m8 0h1m8 0h1m8 0h1m23 0h4m17 0h4m8 0h7m14 0h1m5 0h4m5 0h4m20 0h1m5 0h1m8 0h1m11 0h10m8 0h1m14 0h1m5 0h1m5 0h1m14 0h1m5 0h1m5 0h1m17 0h1m5 0h1m11 0h1m5 0h1m8 0h1m8 0h1m5 0h1m8 0h1m14 0h1m8 0h1m8 0h4m23 0h7m35 0h1m44 0h1m8 0h1m41 0h1m20 0h1m5 0h1m32 0h1m11 0h1m80 0h1m107 0h1M144 492.5h1m11 0h4m41 0h4m44 0h1m17 0h1m11 0h7m8 0h4m23 0h7m8 0h1m5 0h7m35 0h1m5 0h1m8 0h4m5 0h1m8 0h1m5 0h1m11 0h7m11 0h4m11 0h4m5 0h1m11 0h7m11 0h1m20 0h4m11 0h1m5 0h1m5 0h4m14 0h1m5 0h1m23 0h1m32 0h1m5 0h4m23 0h1m5 0h1m5 0h1m26 0h4m20 0h1m41 0h1m8 0h7m14 0h1m23 0h4m14 0h1m8 0h1m17 0h1M243 495.5h1m23 0h1m23 0h1m11 0h1m5 0h1m5 0h1m29 0h4m5 0h1m8 0h1m26 0h4m32 0h4m5 0h1m5 0h1m11 0h1m5 0h1m8 0h1m5 0h1m8 0h4m20 0h1m11 0h1m8 0h1m29 0h1m5 0h4m8 0h1m11 0h1m8 0h1m41 0h1m17 0h1m20 0h1m29 0h1m23 0h1m32 0h1m11 0h1m8 0h1m11 0h1m11 0h1m20 0h1m5 0h4m23 0h1m8 0h1m8 0h1m20 0h1m11 0h1m20 0h7M240 498.5h1m20 0h1m8 0h1m14 0h1m5 0h1m11 0h4m5 0h1m11 0h4m23 0h1m8 0h1m8 0h1m8 0h1m5 0h1m8 0h1m14 0h1m14 0h4m5 0h1m8 0h4m8 0h4m5 0h1m11 0h1m14 0h1m11 0h1m5 0h1m26 0h1m11 0h7m11 0h4m11 0h1m35 0h1m5 0h1m8 0h1m17 0h1m56 0h1m17 0h1m17 0h1m32 0h1m5 0h1m8 0h1m20 0h4m8 0h1m5 0h1m5 0h7m11 0h1m26 0h1m44 0h1M207 501.5h1m32 0h1m26 0h1m14 0h1m11 0h1m8 0h1m14 0h4m17 0h1m14 0h4m14 0h1m11 0h4m5 0h1m14 0h4m5 0h4m17 0h1m8 0h1m5 0h1m8 0h4m17 0h1m11 0h4m5 0h1m8 0h10m5 0h1m50 0h1m23 0h1m5 0h4m47 0h1m5 0h1m8 0h1m20 0h1m5 0h1m8 0h1m11 0h1m8 0h4m8 0h1m8 0h1m8 0h1m11 0h4m23 0h4m5 0h1m29 0h1m17 0h1m17 0h1m35 0h1M138 504.5h4m59 0h1m23 0h4m14 0h1m26 0h4m11 0h1m8 0h1m5 0h1m5 0h1m8 0h1m8 0h1m11 0h7m11 0h4m14 0h1m14 0h1m17 0h1m14 0h1m5 0h4m8 0h1m20 0h1m8 0h4m8 0h1m8 0h1m41 0h7m8 0h1m11 0h1m5 0h1m14 0h4m17 0h1m14 0h1m8 0h4m29 0h10m35 0h4m38 0h1m11 0h7m23 0h1m5 0h10m29 0h1m14 0h1m5 0h1m5 0h1m26 0h1m35 0h1m35 0h1m11 0h1M162 507.5h1m44 0h1m8 0h1m47 0h1m14 0h4m20 0h4m5 0h1m23 0h1m11 0h1m11 0h4m8 0h1m5 0h1m8 0h4m11 0h1m23 0h1m5 0h1m8 0h4m11 0h4m35 0h4m44 0h1m20 0h1m5 0h1m14 0h1m29 0h1m5 0h1m5 0h1m23 0h1m8 0h4m29 0h1m14 0h1m38 0h7m8 0h1m17 0h1m5 0h1m23 0h1m5 0h4m11 0h4m5 0h7m11 0h1m23 0h1m5 0h4m5 0h1m14 0h1m29 0h1m71 0h1M183 510.5h1m5 0h1m8 0h1m14 0h1m8 0h4m17 0h1m29 0h4m20 0h1m11 0h1m5 0h7m5 0h1m11 0h1m11 0h4m5 0h4m5 0h4m20 0h1m20 0h1m20 0h1m5 0h1m17 0h1m8 0h1m11 0h1m14 0h1m5 0h4m8 0h1m47 0h4m11 0h1m5 0h1m11 0h1m20 0h1m11 0h1m8 0h1m14 0h4m8 0h1m11 0h4m35 0h1m8 0h1m11 0h1m32 0h7m11 0h1m11 0h10m23 0h1m8 0h1m14 0h1m20 0h4m8 0h1m11 0h1m11 0h1m5 0h7m32 0h1m65 0h1M147 513.5h1m71 0h1m5 0h1m5 0h4m26 0h1m11 0h1m8 0h1m5 0h10m5 0h1m5 0h4m5 0h1m20 0h4m14 0h1m11 0h1m11 0h4m17 0h1m8 0h1m5 0h1m5 0h1m5 0h1m8 0h1m32 0h1m11 0h1m26 0h1m11 0h1m8 0h1m14 0h4m11 0h1m14 0h1m68 0h1m44 0h1m17 0h1m17 0h1m5 0h4m14 0h1m20 0h1m8 0h1m11 0h1m20 0h1m11 0h1m11 0h1m14 0h1m5 0h1m8 0h4m20 0h1m29 0h4M195 516.5h1m29 0h1m14 0h1m11 0h1m8 0h4m5 0h4m17 0h1m5 0h7m17 0h1m8 0h1m5 0h1m5 0h1m11 0h4m17 0h1m8 0h1m8 0h13m17 0h7m14 0h1m5 0h7m5 0h1m20 0h1m35 0h4m53 0h1m20 0h1m32 0h1m5 0h1m65 0h1m8 0h4m8 0h1m14 0h4m41 0h4m8 0h1m20 0h1m5 0h1m5 0h1m8 0h4m5 0h1m23 0h1m5 0h1m26 0h1m41 0h1m5 0h1m14 0h1m23 0h1M177 519.5h1m56 0h4m11 0h1m11 0h1m5 0h7m29 0h1m8 0h4m8 0h1m14 0h1m8 0h1m14 0h4m5 0h1m5 0h1m8 0h7m23 0h1m26 0h1m38 0h1m11 0h1m17 0h4m17 0h1m38 0h1m11 0h1m5 0h1m38 0h1m5 0h1m14 0h4m38 0h1m14 0h1m5 0h1m20 0h1m5 0h1m41 0h4m11 0h4m11 0h7m29 0h4m8 0h1m17 0h1m26 0h1m8 0h1m29 0h1m14 0h1m11 0h1m17 0h1M153 522.5h1m26 0h1m17 0h1m44 0h1m11 0h7m8 0h1m44 0h1m5 0h10m11 0h4m8 0h4m8 0h1m32 0h1m5 0h1m8 0h1m8 0h1m14 0h1m11 0h1m23 0h1m5 0h1m14 0h1m5 0h1m8 0h1m11 0h4m23 0h1m5 0h1m5 0h1m29 0h1m17 0h1m35 0h1m14 0h1m20 0h1m32 0h1m8 0h1m5 0h1m14 0h1m11 0h1m32 0h1m8 0h1m8 0h1m8 0h1m5 0h1m5 0h1m11 0h1m5 0h4m11 0h4m14 0h1m17 0h1m8 0h1m17 0h1M192 525.5h1m107 0h1m8 0h1m5 0h1m14 0h1m23 0h1m5 0h1m11 0h1m14 0h4m11 0h1m5 0h1m8 0h1m17 0h1m5 0h1m8 0h1m5 0h4m14 0h1m11 0h1m14 0h1m23 0h1m17 0h1m5 0h1m17 0h4m11 0h1m23 0h1m17 0h1m29 0h1m5 0h1m29 0h1m26 0h1m8 0h1m11 0h1m14 0h1m14 0h1m17 0h4m8 0h1m8 0h1m17 0h7m5 0h1m5 0h1m5 0h1m14 0h1m14 0h1m8 0h4m20 0h1m26 0h1m8 0h1m5 0h4m74 0h1M234 528.5h1m23 0h4m23 0h7m8 0h1m5 0h4m5 0h1m17 0h7m11 0h4m11 0h4m11 0h1m17 0h4m5 0h1m17 0h1m14 0h1m5 0h1m5 0h4m8 0h1m35 0h1m5 0h1m17 0h1m35 0h1m5 0h1m11 0h4m11 0h1m14 0h1m5 0h7m5 0h4m11 0h1m11 0h4m8 0h4m8 0h1m11 0h1m5 0h1m8 0h1m5 0h1m8 0h1m8 0h1m5 0h4m32 0h4m11 0h1m8 0h7m5 0h31m5 0h22m8 0h4m5 0h4m11 0h1m5 0h1m8 0h4m11 0h1m23 0h7m8 0h1M207 531.5h1m5 0h1m14 0h1m11 0h1m17 0h1m26 0h1m8 0h1m8 0h1m5 0h16m14 0h4m14 0h13m8 0h1m5 0h1m11 0h1m8 0h1m5 0h1m20 0h1m20 0h1m20 0h1m38 0h4m17 0h4m8 0h1m17 0h1m8 0h1m11 0h1m8 0h1m20 0h1m20 0h1m11 0h1m26 0h4m8 0h1m14 0h1m20 0h4m14 0h7m17 0h7m8 0h10m5 0h4m5 0h1m5 0h4m5 0h7m8 0h16m8 0h1m8 0h4m8 0h4m8 0h1m11 0h1m5 0h4m8 0h1m26 0h1m5 0h1m5 0h1M141 534.5h1m56 0h1m11 0h1m14 0h1m14 0h1m14 0h1m23 0h1m14 0h1m5 0h1m8 0h1m5 0h1m5 0h1m17 0h1m8 0h4m14 0h7m14 0h4m8 0h4m11 0h1m23 0h1m5 0h1m8 0h1m8 0h1m11 0h1m17 0h1m5 0h1m5 0h1m5 0h1m14 0h1m14 0h1m8 0h1m8 0h1m74 0h7m5 0h1m32 0h1m14 0h1m11 0h4m23 0h4m8 0h16m8 0h7m5 0h40m5 0h7m8 0h7m5 0h10m8 0h1m11 0h1m8 0h1m5 0h7m8 0h1m14 0h1m17 0h1m8 0h1m20 0h4m50 0h1M183 537.5h1m41 0h1m11 0h1m8 0h1m23 0h1m11 0h1m17 0h7m5 0h1m5 0h1m20 0h4m8 0h1m17 0h1m14 0h1m11 0h1m14 0h1m5 0h1m5 0h1m8 0h1m5 0h4m5 0h1m17 0h1m5 0h1m26 0h1m5 0h1m11 0h4m11 0h1m26 0h1m14 0h1m29 0h1m11 0h1m53 0h1m17 0h1m17 0h10m8 0h1m5 0h1m5 0h16m8 0h4m8 0h13m11 0h16m5 0h10m5 0h1m5 0h7m5 0h7m8 0h1m5 0h4m5 0h1m5 0h1m11 0h4m5 0h1m8 0h1m23 0h1m11 0h4m44 0h1m32 0h1M216 540.5h1m23 0h1m29 0h1m8 0h1m5 0h1m29 0h1m8 0h1m5 0h1m20 0h1m5 0h1m14 0h4m14 0h1m5 0h7m5 0h7m8 0h1m5 0h1m17 0h4m17 0h1m17 0h1m5 0h4m8 0h1m17 0h1m11 0h1m5 0h4m5 0h1m29 0h1m5 0h1m50 0h10m11 0h1m5 0h4m5 0h1m17 0h1m5 0h1m8 0h4m5 0h1m14 0h1m5 0h7m5 0h1m11 0h13m8 0h13m5 0h1m5 0h19m8 0h43m8 0h1m8 0h1m5 0h4m5 0h10m20 0h1m20 0h1m44 0h1m32 0h1M150 543.5h1m41 0h1m8 0h1m47 0h1m23 0h1m5 0h4m17 0h4m8 0h4m5 0h1m8 0h1m8 0h7m5 0h1m8 0h1m14 0h1m8 0h1m11 0h1m14 0h1m8 0h1m5 0h1m5 0h1m26 0h1m5 0h1m14 0h4m5 0h1m26 0h1m14 0h1m11 0h7m8 0h1m5 0h1m14 0h4m5 0h1m5 0h4m14 0h1m77 0h1m14 0h1m26 0h7m5 0h7m8 0h31m8 0h1m5 0h1m5 0h1m8 0h4m8 0h4m5 0h1m8 0h19m5 0h4m5 0h4m11 0h1m11 0h1m5 0h1m26 0h1m41 0h1m59 0h1M240 546.5h10m32 0h1m14 0h1m8 0h1m5 0h1m20 0h1m11 0h4m5 0h13m29 0h4m23 0h1m8 0h4m8 0h1m11 0h1m14 0h1m23 0h1m5 0h1m11 0h1m11 0h1m8 0h1m8 0h4m17 0h1m8 0h1m14 0h1m59 0h1m11 0h1m17 0h1m11 0h1m5 0h1m5 0h1m14 0h1m14 0h4m11 0h1m5 0h1m11 0h4m8 0h34m8 0h4m11 0h1m5 0h10m5 0h10m5 0h1m8 0h1m11 0h10m5 0h4m5 0h4m47 0h1m23 0h1m8 0h4M174 549.5h1m23 0h1m11 0h1m23 0h1m5 0h1m11 0h1m20 0h1m5 0h1m8 0h1m5 0h1m5 0h1m5 0h1m11 0h1m14 0h1m8 0h1m8 0h4m8 0h1m14 0h1m11 0h1m8 0h4m20 0h4m11 0h1m8 0h4m5 0h1m8 0h1m17 0h1m44 0h4m11 0h4m11 0h4m8 0h1m14 0h1m38 0h1m26 0h1m14 0h1m17 0h1m11 0h1m11 0h1m17 0h4m5 0h1m5 0h1m8 0h1m11 0h1m5 0h1m5 0h10m5 0h22m5 0h1m5 0h4m5 0h13m8 0h13m8 0h7m20 0h1m8 0h7m5 0h1m8 0h1m5 0h1m29 0h1M162 552.5h1m44 0h1m32 0h1m8 0h1m20 0h1m5 0h1m5 0h1m11 0h1m14 0h1m17 0h10m8 0h1m29 0h1m20 0h1m8 0h7m5 0h1m11 0h1m11 0h4m5 0h1m5 0h1m20 0h1m8 0h1m8 0h1m14 0h4m20 0h1m17 0h1m32 0h1m41 0h1m32 0h1m5 0h4m11 0h1m23 0h4m26 0h13m5 0h7m11 0h25m5 0h10m11 0h10m5 0h4m5 0h1m5 0h13m23 0h4m5 0h1m5 0h1m20 0h1m23 0h1m11 0h1M249 555.5h1m11 0h1m11 0h7m23 0h1m5 0h7m8 0h1m11 0h1m5 0h4m5 0h1m8 0h4m8 0h1m5 0h1m8 0h1m17 0h1m5 0h4m8 0h1m5 0h1m8 0h4m5 0h1m5 0h1m17 0h1m11 0h1m11 0h1m8 0h1m5 0h1m5 0h1m14 0h1m20 0h1m11 0h1m14 0h1m11 0h1m11 0h1m8 0h1m5 0h1m11 0h1m26 0h1m8 0h1m14 0h1m14 0h4m11 0h1m20 0h13m5 0h4m5 0h4m5 0h22m11 0h22m5 0h4m5 0h1m5 0h1m5 0h4m8 0h1m5 0h1m8 0h10m5 0h1m8 0h7m8 0h1m17 0h1m17 0h4m74 0h1M195 558.5h1m32 0h1m11 0h1m17 0h4m20 0h1m5 0h1m5 0h1m11 0h1m29 0h4m14 0h4m5 0h1m5 0h1m5 0h1m17 0h1m17 0h1m14 0h1m17 0h1m8 0h1m17 0h1m5 0h1m41 0h1m68 0h4m38 0h1m20 0h4m35 0h1m5 0h1m8 0h4m11 0h1m5 0h1m5 0h1m5 0h1m20 0h4m11 0h1m5 0h10m5 0h4m5 0h4m8 0h7m5 0h13m5 0h10m5 0h4m8 0h13m8 0h4m11 0h4m14 0h1m29 0h1m44 0h1M186 561.5h1m65 0h1m5 0h1m5 0h1m11 0h1m11 0h7m11 0h1m5 0h4m5 0h7m5 0h4m5 0h4m14 0h13m5 0h4m8 0h1m8 0h1m5 0h1m11 0h1m5 0h1m8 0h1m8 0h1m11 0h1m11 0h1m5 0h1m20 0h1m8 0h1m8 0h1m5 0h1m8 0h1m20 0h1m14 0h1m11 0h1m5 0h1m20 0h4m8 0h1m26 0h1m17 0h4m17 0h1m8 0h1m5 0h1m8 0h4m5 0h7m5 0h1m11 0h1m5 0h4m5 0h1m8 0h13m5 0h10m5 0h31m5 0h52m5 0h7m5 0h4m5 0h10m8 0h4m8 0h1m8 0h4m5 0h4m50 0h1m44 0h1M219 564.5h4m11 0h1m23 0h1m8 0h1m8 0h1m5 0h4m11 0h4m11 0h7m5 0h10m11 0h4m14 0h1m5 0h1m5 0h1m5 0h1m11 0h10m8 0h1m20 0h4m32 0h4m17 0h4m8 0h4m5 0h1m17 0h7m5 0h4m20 0h4m53 0h1m23 0h1m8 0h1m8 0h1m14 0h10m5 0h4m5 0h4m20 0h1m8 0h13m5 0h4m5 0h49m5 0h31m5 0h13m5 0h13m5 0h16m5 0h1m5 0h1m26 0h1m8 0h1m5 0h1m17 0h1m47 0h1M183 567.5h1m8 0h4m35 0h7m41 0h7m5 0h1m11 0h1m8 0h1m5 0h4m8 0h1m8 0h4m11 0h10m5 0h1m11 0h1m8 0h4m14 0h7m11 0h1m11 0h1m5 0h1m5 0h1m8 0h1m14 0h1m5 0h1m5 0h4m5 0h1m5 0h4m5 0h1m5 0h4m11 0h7m5 0h1m14 0h4m8 0h4m5 0h1m20 0h4m17 0h4m8 0h1m8 0h1m32 0h1m17 0h1m8 0h1m8 0h10m5 0h1m5 0h1m5 0h4m5 0h4m5 0h7m17 0h28m5 0h13m5 0h25m5 0h4m5 0h1m8 0h1m5 0h1m23 0h4m17 0h1m5 0h1m8 0h1m41 0h1M189 570.5h1m44 0h1m5 0h4m5 0h4m5 0h1m5 0h1m5 0h1m5 0h10m8 0h4m8 0h1m14 0h4m5 0h1m23 0h13m8 0h4m14 0h1m5 0h1m5 0h13m17 0h1m11 0h1m11 0h1m5 0h4m8 0h10m8 0h7m11 0h4m11 0h4m8 0h1m26 0h1m8 0h1m29 0h4m8 0h1m5 0h1m8 0h7m35 0h4m17 0h1m5 0h1m5 0h1m11 0h1m8 0h1m8 0h7m5 0h4m8 0h4m5 0h1m5 0h16m8 0h13m5 0h7m5 0h1m5 0h58m5 0h7m5 0h19m14 0h7m5 0h7m20 0h1m17 0h1m20 0h1M243 573.5h1m17 0h4m11 0h1m8 0h4m5 0h1m5 0h4m11 0h1m11 0h4m26 0h10m5 0h1m8 0h7m20 0h7m5 0h7m5 0h4m5 0h10m8 0h7m8 0h1m5 0h1m5 0h4m11 0h4m5 0h4m11 0h1m20 0h1m11 0h1m5 0h1m8 0h1m20 0h4m29 0h4m56 0h1m5 0h1m11 0h1m5 0h1m5 0h10m5 0h7m5 0h22m5 0h7m5 0h4m5 0h22m8 0h10m5 0h1m5 0h19m5 0h10m8 0h16m5 0h1m5 0h4m5 0h1m5 0h1m8 0h1m5 0h13m5 0h1m17 0h1m5 0h1m17 0h4m35 0h1M192 576.5h1m32 0h1m14 0h1m5 0h1m14 0h1m11 0h1m8 0h1m5 0h1m5 0h1m8 0h1m5 0h7m5 0h19m8 0h1m5 0h1m8 0h4m8 0h4m5 0h4m5 0h1m8 0h4m5 0h1m8 0h1m8 0h4m8 0h4m11 0h1m5 0h4m5 0h7m14 0h1m32 0h1m38 0h1m23 0h1m20 0h1m11 0h1m41 0h4m8 0h1m11 0h4m11 0h1m5 0h7m5 0h1m8 0h1m5 0h13m5 0h4m5 0h4m11 0h4m5 0h10m5 0h79m5 0h4m8 0h1m5 0h1m8 0h4m11 0h1m5 0h1m8 0h1m5 0h1m5 0h4m11 0h1m5 0h1m26 0h1M195 579.5h1m5 0h1m5 0h1m29 0h1m17 0h1m20 0h1m14 0h1m8 0h1m8 0h1m5 0h1m14 0h1m5 0h10m11 0h4m5 0h1m14 0h1m5 0h1m5 0h1m5 0h1m5 0h1m8 0h4m5 0h1m8 0h1m8 0h1m14 0h4m11 0h1m5 0h7m5 0h13m5 0h1m32 0h4m8 0h4m5 0h1m17 0h1m5 0h4m20 0h1m35 0h1m11 0h1m11 0h1m17 0h1m5 0h1m8 0h1m20 0h7m5 0h16m5 0h4m5 0h13m5 0h52m5 0h46m5 0h7m5 0h13m8 0h4m5 0h4m14 0h10m29 0h1m5 0h1m47 0h1M198 582.5h1m5 0h1m5 0h1m17 0h1m11 0h1m5 0h4m8 0h4m8 0h4m32 0h7m5 0h1m11 0h4m14 0h1m11 0h1m8 0h7m8 0h4m11 0h1m5 0h1m5 0h7m17 0h4m11 0h4m17 0h7m5 0h1m5 0h1m26 0h1m8 0h1m8 0h1m23 0h1m17 0h1m14 0h1m23 0h1m8 0h1m20 0h4m5 0h4m5 0h1m11 0h1m11 0h4m5 0h1m5 0h1m14 0h4m8 0h1m11 0h1m11 0h4m5 0h19m5 0h19m8 0h13m5 0h31m5 0h7m5 0h4m5 0h1m5 0h7m5 0h10m8 0h1m5 0h1m5 0h1m5 0h1m5 0h7m5 0h1m29 0h1m53 0h1M189 585.5h4m5 0h1m14 0h4m23 0h1m5 0h1m5 0h4m11 0h1m17 0h10m8 0h1m5 0h1m11 0h4m5 0h1m5 0h1m14 0h1m5 0h1m5 0h7m5 0h7m5 0h1m5 0h4m8 0h7m8 0h4m8 0h1m11 0h10m11 0h1m11 0h7m5 0h4m8 0h1m11 0h1m14 0h4m11 0h1m5 0h7m5 0h1m5 0h4m8 0h1m11 0h1m11 0h1m38 0h1m17 0h1m14 0h1m14 0h1m8 0h4m5 0h1m5 0h1m8 0h4m5 0h1m11 0h16m5 0h4m5 0h37m5 0h13m5 0h34m5 0h19m5 0h22m17 0h4m11 0h4m8 0h1m11 0h1m17 0h1m8 0h1m26 0h1m5 0h1M174 588.5h1m11 0h1m68 0h1m5 0h1m8 0h1m5 0h1m5 0h1m11 0h4m8 0h1m5 0h4m5 0h10m5 0h1m5 0h1m5 0h4m5 0h4m5 0h1m5 0h4m11 0h10m8 0h4m5 0h1m8 0h1m14 0h7m8 0h4m8 0h1m5 0h1m5 0h4m8 0h1m26 0h4m11 0h1m26 0h1m35 0h1m47 0h1m5 0h1m5 0h1m23 0h1m11 0h1m8 0h4m5 0h1m14 0h1m11 0h13m5 0h10m5 0h7m5 0h19m5 0h22m8 0h43m5 0h10m5 0h19m5 0h1m5 0h1m5 0h1m17 0h1m38 0h1m38 0h7M231 591.5h1m8 0h4m5 0h4m5 0h1m11 0h7m8 0h10m17 0h1m5 0h1m14 0h13m11 0h10m5 0h4m11 0h1m8 0h7m5 0h7m8 0h13m5 0h7m17 0h10m5 0h1m11 0h4m8 0h1m29 0h1m8 0h1m8 0h1m8 0h1m8 0h1m5 0h1m11 0h1m14 0h1m5 0h1m8 0h1m5 0h1m11 0h4m29 0h1m17 0h1m11 0h1m5 0h1m14 0h1m5 0h1m11 0h7m5 0h7m5 0h4m5 0h1m5 0h25m5 0h34m5 0h7m5 0h19m11 0h13m8 0h10m11 0h4m5 0h1m11 0h7m5 0h1m14 0h1m29 0h1m26 0h1M144 594.5h1m35 0h1m29 0h1m8 0h1m11 0h1m5 0h4m5 0h7m8 0h1m8 0h4m5 0h4m5 0h4m5 0h1m5 0h7m5 0h4m8 0h10m8 0h10m17 0h1m5 0h1m8 0h1m8 0h34m8 0h7m5 0h1m8 0h1m5 0h4m8 0h1m11 0h4m32 0h4m17 0h7m5 0h4m5 0h4m5 0h4m23 0h1m5 0h1m11 0h1m14 0h1m8 0h1m23 0h1m5 0h1m11 0h1m8 0h1m5 0h1m5 0h1m23 0h34m8 0h37m5 0h4m5 0h1m5 0h43m5 0h13m5 0h16m5 0h4m8 0h1m11 0h1m11 0h1m38 0h1m20 0h1m8 0h1M171 597.5h1m59 0h1m11 0h1m8 0h1m8 0h1m5 0h10m5 0h1m5 0h1m5 0h4m5 0h1m14 0h4m5 0h10m14 0h4m5 0h4m8 0h13m5 0h4m5 0h4m5 0h4m5 0h1m5 0h7m8 0h4m5 0h4m5 0h1m14 0h1m8 0h1m5 0h4m5 0h1m5 0h4m5 0h4m8 0h1m11 0h1m5 0h4m26 0h1m38 0h4m5 0h4m11 0h1m5 0h1m5 0h1m26 0h4m17 0h1m8 0h10m5 0h4m5 0h4m5 0h1m8 0h16m5 0h109m5 0h10m8 0h1m5 0h7m5 0h4m26 0h1m8 0h1m8 0h1m8 0h1m44 0h4m14 0h1m8 0h1M141 600.5h1m62 0h1m14 0h4m23 0h1m11 0h1m14 0h1m5 0h1m8 0h1m8 0h13m5 0h4m5 0h4m14 0h10m8 0h1m5 0h4m5 0h25m5 0h7m14 0h10m5 0h1m14 0h7m5 0h1m8 0h19m11 0h1m5 0h4m11 0h4m5 0h7m8 0h1m8 0h7m8 0h4m5 0h1m14 0h4m5 0h7m20 0h1m17 0h1m11 0h7m8 0h7m8 0h1m17 0h1m5 0h1m5 0h1m5 0h16m5 0h7m5 0h10m5 0h43m8 0h4m5 0h40m5 0h1m8 0h28m5 0h7m5 0h1m5 0h16m5 0h1m56 0h1M147 603.5h1m50 0h1m32 0h13m11 0h1m8 0h7m11 0h16m5 0h16m14 0h4m5 0h1m5 0h19m5 0h16m5 0h19m5 0h1m11 0h7m5 0h1m5 0h4m14 0h1m26 0h4m11 0h1m8 0h1m8 0h1m5 0h10m11 0h4m5 0h1m5 0h1m5 0h1m11 0h1m17 0h1m32 0h1m11 0h1m5 0h4m11 0h1m5 0h1m14 0h10m11 0h1m11 0h1m11 0h7m11 0h1m5 0h10m5 0h1m5 0h4m5 0h25m5 0h34m5 0h22m5 0h4m5 0h25m32 0h1m38 0h1m59 0h1M192 606.5h1m5 0h1m11 0h7m23 0h4m8 0h1m11 0h4m5 0h7m5 0h1m5 0h7m8 0h13m8 0h4m5 0h7m8 0h10m5 0h1m11 0h10m11 0h7m8 0h7m5 0h1m5 0h7m5 0h13m11 0h1m8 0h10m11 0h1m5 0h4m32 0h7m8 0h1m5 0h1m8 0h1m8 0h4m5 0h1m11 0h1m5 0h1m5 0h7m8 0h4m8 0h1m8 0h7m8 0h1m5 0h1m8 0h1m5 0h10m23 0h4m14 0h1m5 0h13m8 0h7m5 0h13m5 0h10m5 0h64m5 0h4m5 0h10m5 0h4m5 0h10m5 0h1m11 0h1m11 0h1m8 0h1m38 0h1M231 609.5h4m14 0h1m11 0h1m5 0h4m11 0h1m8 0h4m5 0h7m5 0h1m5 0h7m5 0h16m5 0h10m5 0h1m8 0h1m5 0h7m5 0h1m14 0h4m5 0h1m5 0h1m8 0h7m14 0h4m8 0h1m5 0h1m5 0h7m11 0h1m11 0h1m5 0h1m5 0h4m8 0h1m5 0h4m14 0h4m8 0h1m5 0h1m5 0h7m17 0h1m5 0h16m11 0h1m11 0h4m8 0h1m5 0h1m8 0h1m29 0h1m11 0h7m5 0h1m8 0h1m5 0h1m8 0h1m14 0h1m5 0h25m5 0h10m5 0h7m5 0h13m5 0h4m5 0h1m5 0h46m5 0h1m8 0h1m5 0h1m5 0h10m5 0h1m17 0h1m50 0h1m17 0h1m11 0h1M186 612.5h1m11 0h1m23 0h10m23 0h1m8 0h10m8 0h4m8 0h4m5 0h4m8 0h16m8 0h1m5 0h7m8 0h1m5 0h1m8 0h1m8 0h1m8 0h7m5 0h1m8 0h4m11 0h1m11 0h4m5 0h4m5 0h7m17 0h10m5 0h4m5 0h1m5 0h4m5 0h4m8 0h4m8 0h7m5 0h7m35 0h1m5 0h1m5 0h1m5 0h1m5 0h1m5 0h4m8 0h1m8 0h1m47 0h4m5 0h4m20 0h1m8 0h4m5 0h13m8 0h4m5 0h25m5 0h10m5 0h43m5 0h7m5 0h1m5 0h1m8 0h10m8 0h4m5 0h4m5 0h1m23 0h1m23 0h1m8 0h1m11 0h4m5 0h1m32 0h1M177 615.5h1m8 0h1m5 0h7m8 0h4m5 0h1m5 0h1m5 0h4m5 0h1m11 0h1m17 0h1m8 0h1m5 0h4m5 0h4m5 0h1m5 0h1m5 0h13m5 0h4m29 0h1m5 0h1m14 0h7m8 0h4m5 0h10m8 0h4m5 0h1m5 0h1m5 0h1m5 0h1m5 0h7m8 0h4m8 0h1m5 0h1m5 0h1m29 0h1m5 0h7m8 0h7m17 0h4m5 0h4m14 0h1m8 0h1m14 0h1m5 0h1m14 0h1m14 0h1m11 0h1m5 0h4m5 0h4m5 0h1m5 0h7m5 0h1m8 0h4m5 0h1m5 0h7m11 0h4m5 0h10m5 0h4m5 0h43m5 0h4m5 0h10m5 0h4m5 0h1m8 0h19m5 0h7m5 0h1m5 0h1m11 0h1m5 0h7m11 0h4m38 0h1m11 0h1M234 618.5h1m5 0h1m8 0h7m11 0h22m8 0h1m14 0h1m11 0h1m5 0h13m8 0h7m8 0h10m5 0h16m8 0h13m8 0h4m5 0h16m8 0h16m5 0h1m5 0h4m5 0h4m5 0h4m5 0h4m5 0h13m17 0h1m5 0h1m5 0h1m14 0h1m5 0h4m8 0h1m11 0h1m23 0h10m8 0h4m11 0h1m8 0h1m11 0h1m11 0h4m5 0h7m5 0h4m5 0h1m8 0h16m5 0h4m5 0h1m5 0h43m5 0h22m5 0h37m11 0h19m5 0h1m5 0h1m8 0h1m8 0h1m8 0h1m8 0h1m5 0h1m11 0h1m53 0h1M189 621.5h4m8 0h1m14 0h4m5 0h1m5 0h1m11 0h1m11 0h10m26 0h1m5 0h13m5 0h1m5 0h10m11 0h1m11 0h1m8 0h1m8 0h1m14 0h1m8 0h7m5 0h1m5 0h34m8 0h4m17 0h7m5 0h1m5 0h1m8 0h4m5 0h1m11 0h4m11 0h4m5 0h1m5 0h4m8 0h7m8 0h10m8 0h1m5 0h4m11 0h1m8 0h1m17 0h1m11 0h1m17 0h1m5 0h1m5 0h10m5 0h1m14 0h1m5 0h4m8 0h19m5 0h16m8 0h13m5 0h25m5 0h34m5 0h1m5 0h4m5 0h1m11 0h22m20 0h7m5 0h4m41 0h1m44 0h1M213 624.5h1m5 0h1m5 0h1m5 0h10m5 0h7m5 0h1m20 0h1m8 0h7m8 0h16m5 0h4m5 0h7m8 0h1m5 0h4m11 0h7m5 0h1m5 0h4m5 0h4m8 0h1m5 0h1m5 0h1m5 0h1m5 0h10m14 0h4m8 0h1m5 0h1m8 0h1m11 0h1m5 0h4m17 0h1m8 0h10m5 0h1m5 0h1m5 0h4m5 0h4m14 0h1m23 0h1m11 0h1m14 0h4m11 0h1m17 0h1m20 0h7m5 0h1m8 0h1m8 0h1m5 0h4m5 0h4m5 0h19m5 0h49m5 0h37m5 0h7m5 0h4m5 0h1m5 0h19m11 0h4m5 0h4m5 0h1m5 0h4m11 0h1m14 0h1m56 0h1M186 627.5h1m14 0h1m5 0h1m8 0h1m8 0h1m5 0h13m5 0h19m5 0h31m8 0h16m5 0h19m5 0h16m5 0h10m5 0h1m5 0h37m5 0h7m5 0h7m5 0h7m5 0h1m5 0h4m5 0h1m5 0h1m5 0h7m5 0h1m5 0h1m8 0h10m11 0h1m5 0h1m5 0h1m5 0h7m8 0h1m8 0h1m8 0h10m17 0h1m11 0h4m20 0h1m20 0h7m5 0h1m8 0h4m11 0h7m5 0h10m5 0h1m14 0h1m8 0h1m5 0h7m5 0h52m8 0h19m5 0h4m5 0h7m8 0h1m20 0h1m5 0h1m26 0h1m5 0h1m8 0h4m44 0h1m32 0h1M174 630.5h1m35 0h4m8 0h1m5 0h4m5 0h7m5 0h10m5 0h7m5 0h1m11 0h1m5 0h7m8 0h13m5 0h31m8 0h4m5 0h43m11 0h1m5 0h1m5 0h7m8 0h10m5 0h7m5 0h19m8 0h1m8 0h1m5 0h10m5 0h1m5 0h4m8 0h1m5 0h1m5 0h4m14 0h10m5 0h4m11 0h7m5 0h1m5 0h1m14 0h4m5 0h1m5 0h1m5 0h1m17 0h1m5 0h1m11 0h4m5 0h4m14 0h10m17 0h1m8 0h19m14 0h1m5 0h4m8 0h10m5 0h10m11 0h19m5 0h7m8 0h1m5 0h4m5 0h4m11 0h4m8 0h4m8 0h1m8 0h4m35 0h1M186 633.5h1m8 0h4m5 0h1m5 0h1m5 0h1m5 0h1m8 0h19m5 0h22m11 0h1m5 0h1m5 0h13m5 0h13m8 0h7m5 0h19m5 0h7m11 0h7m5 0h1m8 0h4m5 0h7m5 0h1m5 0h4m8 0h10m5 0h4m5 0h10m5 0h16m5 0h28m8 0h7m5 0h7m5 0h1m5 0h1m14 0h25m5 0h1m5 0h7m11 0h1m5 0h1m17 0h1m5 0h1m17 0h1m8 0h1m5 0h7m11 0h1m11 0h13m5 0h4m8 0h28m5 0h13m5 0h4m5 0h13m8 0h4m14 0h13m8 0h1m11 0h4m5 0h1m5 0h1m5 0h1m23 0h1m17 0h4m20 0h1m11 0h1m17 0h1m17 0h1M156 636.5h4m20 0h1m14 0h4m8 0h1m8 0h1m8 0h1m5 0h1m11 0h1m8 0h1m5 0h7m11 0h1m5 0h13m5 0h13m5 0h10m5 0h7m5 0h22m5 0h1m5 0h1m5 0h10m5 0h19m5 0h1m5 0h13m8 0h28m11 0h1m11 0h7m11 0h1m8 0h1m14 0h7m11 0h1m8 0h1m11 0h1m5 0h7m5 0h4m5 0h1m5 0h1m8 0h4m5 0h1m11 0h1m23 0h7m8 0h10m8 0h7m5 0h1m5 0h1m5 0h7m14 0h1m14 0h4m14 0h16m5 0h13m5 0h10m5 0h1m5 0h16m8 0h19m5 0h10m8 0h1m5 0h4m14 0h4m11 0h1m14 0h1m38 0h1m5 0h1m8 0h1m8 0h4m11 0h1m5 0h1m5 0h1M138 639.5h1m38 0h1m11 0h1m8 0h1m17 0h1m20 0h7m5 0h1m5 0h1m8 0h1m8 0h1m5 0h7m5 0h1m5 0h13m8 0h1m5 0h10m5 0h28m5 0h1m5 0h10m5 0h1m5 0h1m8 0h10m5 0h19m5 0h1m8 0h1m5 0h4m5 0h1m5 0h1m5 0h1m8 0h1m5 0h4m5 0h4m17 0h4m11 0h1m8 0h1m5 0h1m5 0h4m5 0h1m5 0h19m8 0h1m5 0h7m11 0h1m5 0h4m14 0h4m5 0h1m20 0h1m17 0h4m8 0h4m8 0h1m8 0h1m5 0h1m5 0h1m8 0h1m5 0h4m8 0h1m5 0h28m5 0h37m5 0h7m5 0h13m11 0h4m5 0h7m5 0h1m11 0h1m5 0h1m5 0h1m5 0h1m5 0h1m17 0h1m5 0h1m8 0h1m20 0h1m29 0h1M147 642.5h1m26 0h1m11 0h4m20 0h1m17 0h7m5 0h4m5 0h1m5 0h1m5 0h1m8 0h7m5 0h10m5 0h1m11 0h19m5 0h10m5 0h1m5 0h19m5 0h1m5 0h4m5 0h10m5 0h19m8 0h28m5 0h1m5 0h13m5 0h7m5 0h1m8 0h7m5 0h1m11 0h4m5 0h10m5 0h1m8 0h1m5 0h7m8 0h4m5 0h1m8 0h1m8 0h1m23 0h1m17 0h16m14 0h4m17 0h4m8 0h1m17 0h1m5 0h1m5 0h1m5 0h7m5 0h10m5 0h1m5 0h7m5 0h1m5 0h4m5 0h19m5 0h16m5 0h16m5 0h1m8 0h1m11 0h4m17 0h1m5 0h1m5 0h4m5 0h1m44 0h4m14 0h1M177 645.5h1m14 0h1m17 0h1m17 0h1m5 0h1m5 0h1m11 0h7m14 0h10m8 0h7m11 0h4m5 0h19m5 0h46m5 0h7m8 0h19m5 0h7m17 0h1m8 0h4m5 0h19m5 0h7m11 0h1m11 0h10m8 0h7m5 0h1m11 0h1m5 0h1m5 0h1m5 0h1m5 0h7m5 0h4m8 0h10m5 0h7m5 0h1m8 0h1m5 0h1m11 0h4m5 0h1m5 0h4m8 0h1m14 0h4m8 0h1m11 0h13m5 0h4m5 0h4m5 0h1m8 0h16m5 0h7m5 0h7m11 0h1m5 0h4m8 0h19m5 0h1m5 0h1m5 0h10m8 0h4m5 0h1m5 0h1m5 0h1m17 0h1m5 0h7m5 0h1m26 0h1m47 0h1M171 648.5h1m26 0h1m20 0h4m11 0h7m8 0h16m11 0h10m8 0h4m5 0h7m5 0h4m5 0h1m8 0h1m5 0h19m5 0h7m5 0h31m5 0h7m8 0h10m5 0h7m5 0h1m5 0h16m11 0h19m8 0h4m5 0h1m8 0h1m5 0h7m5 0h1m8 0h10m8 0h1m8 0h7m5 0h4m8 0h1m14 0h4m5 0h1m5 0h1m5 0h1m5 0h1m5 0h1m5 0h4m11 0h1m14 0h13m5 0h4m5 0h4m8 0h4m5 0h1m5 0h1m5 0h4m8 0h4m5 0h7m5 0h4m5 0h4m8 0h19m5 0h4m5 0h4m5 0h4m5 0h13m11 0h4m5 0h1m11 0h1m5 0h1m5 0h1m23 0h1m5 0h1m11 0h1m8 0h1m8 0h1m5 0h1m44 0h1M150 651.5h1m41 0h1m5 0h1m11 0h1m17 0h1m5 0h1m5 0h1m8 0h10m5 0h1m5 0h7m5 0h1m11 0h1m8 0h1m5 0h7m5 0h85m8 0h1m5 0h7m5 0h10m5 0h13m5 0h13m5 0h7m5 0h4m8 0h7m8 0h1m5 0h1m14 0h4m17 0h1m5 0h1m14 0h4m5 0h1m8 0h1m14 0h10m14 0h4m8 0h4m23 0h1m5 0h1m11 0h10m11 0h7m8 0h4m5 0h4m5 0h4m5 0h4m8 0h28m5 0h7m5 0h25m5 0h13m5 0h10m5 0h1m5 0h16m5 0h10m5 0h1m5 0h1m8 0h1m11 0h1m8 0h1m5 0h7m5 0h1m14 0h4m5 0h1m5 0h1m23 0h1M156 654.5h1m26 0h1m8 0h4m8 0h1m8 0h1m8 0h1m5 0h25m5 0h4m14 0h7m5 0h10m5 0h1m5 0h7m5 0h55m5 0h10m8 0h4m8 0h1m5 0h1m8 0h31m5 0h4m5 0h7m8 0h19m11 0h1m8 0h4m5 0h1m5 0h1m5 0h1m5 0h4m5 0h4m8 0h1m5 0h4m11 0h16m14 0h1m5 0h7m11 0h1m14 0h22m11 0h7m17 0h4m8 0h7m5 0h4m5 0h1m5 0h7m8 0h1m11 0h34m14 0h4m5 0h19m5 0h10m8 0h25m11 0h4m5 0h7m8 0h1m8 0h4m14 0h1m17 0h7m8 0h7m17 0h7M186 657.5h4m11 0h1m8 0h1m11 0h4m5 0h4m8 0h4m11 0h13m8 0h13m5 0h1m5 0h10m5 0h10m5 0h4m5 0h10m5 0h1m5 0h4m5 0h4m5 0h4m5 0h10m5 0h19m5 0h1m11 0h4m8 0h7m8 0h13m5 0h4m5 0h7m5 0h7m8 0h1m20 0h4m23 0h1m5 0h1m5 0h4m14 0h4m8 0h1m5 0h1m8 0h1m17 0h1m20 0h1m8 0h1m8 0h1m8 0h4m26 0h1m5 0h1m5 0h1m8 0h7m14 0h7m8 0h4m5 0h4m5 0h28m5 0h4m5 0h16m5 0h7m17 0h1m11 0h16m5 0h10m11 0h4m5 0h1m14 0h1m14 0h7m14 0h1m8 0h1m8 0h4M198 660.5h1m5 0h1m23 0h7m8 0h1m8 0h1m5 0h7m5 0h7m5 0h19m5 0h13m5 0h40m5 0h16m8 0h10m5 0h1m8 0h28m5 0h1m5 0h1m5 0h4m5 0h16m5 0h4m5 0h7m5 0h4m5 0h1m5 0h1m5 0h7m8 0h7m5 0h4m11 0h7m5 0h4m8 0h4m8 0h1m5 0h10m5 0h4m11 0h4m8 0h1m17 0h1m11 0h1m8 0h10m5 0h1m5 0h4m5 0h1m11 0h1m8 0h1m11 0h1m5 0h1m11 0h4m5 0h1m5 0h1m8 0h4m11 0h7m5 0h10m11 0h4m8 0h1m5 0h1m5 0h10m5 0h1m5 0h1m14 0h1m5 0h1m5 0h4m20 0h4m92 0h1m8 0h1M144 663.5h1m41 0h7m8 0h1m11 0h1m11 0h1m5 0h7m5 0h16m8 0h4m5 0h10m14 0h13m5 0h1m5 0h34m5 0h49m5 0h4m5 0h19m5 0h25m11 0h49m8 0h10m5 0h13m5 0h13m5 0h1m8 0h1m5 0h7m5 0h10m5 0h1m8 0h4m11 0h1m5 0h10m17 0h1m5 0h1m5 0h4m5 0h13m8 0h4m5 0h1m8 0h4m17 0h1m5 0h7m5 0h19m14 0h13m8 0h1m11 0h1m5 0h1m5 0h1m14 0h4m11 0h1m11 0h7m5 0h1m5 0h1m26 0h1m8 0h1m32 0h1m14 0h1m17 0h4m8 0h1M147 666.5h1m8 0h1m8 0h4m20 0h1m5 0h1m5 0h4m17 0h4m5 0h13m5 0h10m11 0h16m5 0h7m5 0h1m11 0h13m5 0h28m5 0h4m5 0h16m5 0h7m5 0h10m8 0h4m5 0h1m5 0h1m5 0h1m5 0h1m5 0h22m5 0h4m5 0h10m17 0h37m5 0h1m5 0h1m5 0h1m5 0h1m8 0h1m8 0h7m5 0h4m5 0h4m5 0h1m5 0h1m5 0h1m5 0h1m5 0h4m20 0h7m5 0h4m8 0h1m5 0h1m5 0h4m8 0h1m23 0h1m8 0h7m14 0h4m11 0h1m8 0h1m11 0h4m5 0h1m8 0h4m8 0h7m5 0h4m11 0h1m8 0h4m14 0h1m26 0h7m8 0h1m8 0h4m5 0h7m8 0h1m23 0h1m26 0h1M162 669.5h1m35 0h1m11 0h1m11 0h4m5 0h13m11 0h4m11 0h19m8 0h1m5 0h1m5 0h7m5 0h88m5 0h1m5 0h25m5 0h7m8 0h7m5 0h7m5 0h10m5 0h4m8 0h1m5 0h1m8 0h7m5 0h19m5 0h13m8 0h1m14 0h4m5 0h1m8 0h13m5 0h13m5 0h13m11 0h1m8 0h1m11 0h4m5 0h4m17 0h1m5 0h7m17 0h1m5 0h16m5 0h1m8 0h1m14 0h16m5 0h1m5 0h16m8 0h4m5 0h7m11 0h1m8 0h7m8 0h1m11 0h4m11 0h4m17 0h1m8 0h1m14 0h4m17 0h1m8 0h1m5 0h1m5 0h1m5 0h1m8 0h1M153 672.5h1m5 0h1m14 0h1m8 0h4m8 0h4m17 0h7m5 0h4m5 0h10m5 0h4m5 0h7m8 0h13m5 0h25m5 0h34m8 0h22m5 0h7m8 0h4m11 0h22m5 0h13m5 0h4m8 0h1m5 0h31m5 0h1m5 0h7m11 0h13m5 0h1m5 0h16m5 0h1m23 0h1m14 0h1m5 0h4m8 0h1m5 0h1m17 0h4m8 0h1m5 0h1m5 0h1m8 0h1m8 0h7m8 0h1m5 0h1m5 0h1m5 0h1m5 0h4m11 0h1m14 0h10m5 0h1m5 0h10m11 0h1m5 0h1m5 0h1m5 0h1m5 0h7m8 0h1m5 0h7m5 0h1m14 0h1m8 0h4m5 0h1m8 0h1m26 0h4m26 0h1m20 0h1m41 0h1M150 675.5h1m41 0h1m5 0h4m11 0h1m17 0h10m5 0h10m5 0h1m5 0h4m5 0h4m5 0h13m5 0h7m5 0h22m5 0h10m5 0h13m5 0h49m5 0h10m5 0h19m5 0h4m11 0h4m5 0h7m5 0h31m5 0h1m5 0h10m5 0h1m5 0h1m8 0h10m5 0h19m11 0h1m8 0h1m5 0h1m5 0h4m5 0h7m11 0h1m5 0h1m5 0h10m5 0h1m5 0h1m8 0h1m11 0h1m14 0h4m5 0h4m11 0h4m5 0h1m5 0h4m5 0h10m8 0h4m8 0h1m5 0h1m5 0h1m5 0h7m8 0h1m8 0h1m11 0h1m5 0h1m20 0h1m20 0h1m20 0h1m5 0h4m8 0h1m11 0h1m35 0h1m20 0h1m11 0h1m5 0h7M159 678.5h1m32 0h1m5 0h1m11 0h1m20 0h10m5 0h4m8 0h16m5 0h1m5 0h7m8 0h19m5 0h19m8 0h19m5 0h37m5 0h22m5 0h43m5 0h4m11 0h1m5 0h28m5 0h4m8 0h1m5 0h4m8 0h1m5 0h13m5 0h7m8 0h4m11 0h1m11 0h1m5 0h4m11 0h1m5 0h4m5 0h1m8 0h4m8 0h1m8 0h4m17 0h1m5 0h13m5 0h1m5 0h28m5 0h1m11 0h10m8 0h7m8 0h1m8 0h1m5 0h4m8 0h10m14 0h7m5 0h4m8 0h1m20 0h1m5 0h1m11 0h1m29 0h1m8 0h1m17 0h1m5 0h1m26 0h1m8 0h1M141 681.5h1m41 0h4m8 0h1m5 0h1m5 0h1m8 0h1m8 0h1m5 0h16m11 0h1m5 0h64m5 0h13m5 0h31m5 0h28m5 0h4m5 0h16m8 0h1m5 0h13m5 0h10m5 0h16m5 0h1m5 0h4m5 0h19m5 0h10m11 0h7m5 0h7m8 0h13m8 0h10m11 0h1m11 0h4m5 0h1m8 0h4m14 0h1m8 0h4m5 0h1m8 0h1m5 0h1m11 0h7m8 0h1m8 0h4m5 0h1m20 0h10m8 0h4m8 0h7m5 0h1m5 0h4m11 0h1m8 0h13m11 0h1m5 0h1m11 0h4m14 0h1m5 0h4m11 0h1m8 0h1m8 0h1m59 0h1m5 0h1m23 0h1M138 684.5h1m26 0h1m8 0h1m5 0h4m5 0h1m8 0h4m8 0h1m23 0h13m5 0h37m5 0h4m5 0h19m5 0h1m5 0h4m5 0h7m5 0h19m5 0h4m5 0h1m5 0h4m5 0h25m5 0h46m8 0h1m8 0h4m8 0h1m5 0h7m8 0h4m5 0h1m8 0h1m8 0h1m5 0h4m5 0h1m8 0h7m5 0h4m5 0h1m8 0h1m8 0h13m5 0h1m5 0h7m11 0h1m11 0h1m5 0h1m5 0h7m5 0h1m5 0h16m8 0h4m8 0h4m11 0h4m14 0h7m17 0h1m5 0h1m5 0h4m5 0h10m8 0h1m5 0h1m20 0h1m5 0h1m14 0h1m14 0h1m8 0h7m5 0h1m14 0h4m8 0h1m5 0h1m5 0h1m17 0h1m8 0h1m14 0h1m5 0h7m20 0h1m8 0h1m8 0h1M144 687.5h1m14 0h1m23 0h13m5 0h1m8 0h1m11 0h1m8 0h7m5 0h4m5 0h25m5 0h4m5 0h25m5 0h10m5 0h1m8 0h19m5 0h7m5 0h13m8 0h7m8 0h1m8 0h1m5 0h7m5 0h7m5 0h1m5 0h1m5 0h10m5 0h19m5 0h4m5 0h13m8 0h13m5 0h1m14 0h7m14 0h7m5 0h4m8 0h1m5 0h10m17 0h10m5 0h1m11 0h1m5 0h1m5 0h4m5 0h1m8 0h1m5 0h1m5 0h1m11 0h1m5 0h1m8 0h1m5 0h1m11 0h4m5 0h1m8 0h4m5 0h7m11 0h7m5 0h4m11 0h4m5 0h1m11 0h19m5 0h1m11 0h4m5 0h4m8 0h4m5 0h1m14 0h1m8 0h1m5 0h1m5 0h1m35 0h1m20 0h1m14 0h4M138 690.5h4m29 0h1m20 0h1m5 0h1m20 0h7m5 0h4m8 0h22m5 0h13m5 0h1m8 0h10m5 0h4m5 0h1m5 0h19m5 0h22m5 0h4m5 0h13m5 0h4m5 0h4m5 0h4m8 0h4m5 0h7m5 0h4m5 0h4m8 0h16m5 0h1m5 0h1m8 0h4m5 0h1m8 0h1m5 0h4m5 0h13m8 0h1m5 0h10m5 0h7m5 0h1m5 0h1m8 0h10m8 0h4m5 0h22m5 0h1m5 0h1m8 0h4m17 0h1m5 0h7m11 0h1m11 0h1m26 0h1m5 0h1m8 0h10m5 0h4m11 0h4m14 0h4m5 0h4m11 0h1m14 0h1m17 0h10m8 0h1m32 0h1m17 0h1m23 0h1m8 0h1m5 0h1m5 0h1m17 0h1m5 0h1m26 0h1M159 693.5h1m32 0h4m14 0h1m29 0h4m8 0h1m5 0h1m5 0h25m17 0h10m8 0h34m5 0h10m8 0h1m5 0h1m5 0h10m5 0h4m8 0h1m5 0h1m5 0h16m8 0h4m5 0h4m5 0h10m17 0h1m8 0h10m5 0h13m8 0h1m5 0h1m8 0h4m5 0h4m20 0h1m8 0h1m8 0h1m8 0h7m8 0h1m8 0h4m5 0h1m14 0h7m11 0h1m11 0h7m20 0h1m17 0h10m8 0h1m17 0h4m11 0h1m17 0h4m5 0h1m11 0h1m5 0h1m29 0h4m5 0h1m14 0h1m20 0h1m20 0h1m5 0h1m17 0h1m20 0h1m35 0h1m17 0h1M183 696.5h1m8 0h1m8 0h1m17 0h1m5 0h1m11 0h1m5 0h4m5 0h1m8 0h1m5 0h7m11 0h10m8 0h10m5 0h7m8 0h4m8 0h7m5 0h4m5 0h10m5 0h1m5 0h4m11 0h10m5 0h13m8 0h4m5 0h1m5 0h1m5 0h1m5 0h4m5 0h10m5 0h4m5 0h1m5 0h1m14 0h1m11 0h4m5 0h1m5 0h1m17 0h4m8 0h7m8 0h1m8 0h1m8 0h1m14 0h1m5 0h1m8 0h1m8 0h1m8 0h1m41 0h1m29 0h1m20 0h10m20 0h4m17 0h7m5 0h1m11 0h1m8 0h4m17 0h1m5 0h1m23 0h1m44 0h1m5 0h1m14 0h1m20 0h1m17 0h1m56 0h1m5 0h1M183 699.5h1m35 0h1m5 0h10m5 0h13m20 0h13m5 0h7m5 0h13m11 0h4m5 0h10m5 0h1m5 0h4m5 0h1m5 0h19m5 0h1m11 0h4m5 0h1m8 0h1m11 0h10m11 0h7m5 0h19m8 0h1m8 0h7m11 0h1m8 0h1m5 0h7m14 0h4m8 0h10m14 0h4m5 0h1m14 0h10m5 0h4m5 0h16m8 0h1m5 0h1m20 0h4m14 0h7m5 0h7m14 0h1m11 0h7m11 0h1m5 0h4m8 0h4m23 0h4m17 0h1m29 0h4m26 0h1m11 0h1m5 0h1m11 0h1m17 0h4m29 0h1m20 0h4M210 702.5h1m5 0h1m5 0h1m8 0h1m11 0h1m23 0h1m5 0h7m5 0h7m11 0h22m5 0h31m5 0h4m5 0h28m11 0h16m5 0h16m5 0h7m5 0h13m5 0h1m8 0h16m11 0h1m5 0h4m5 0h10m8 0h1m11 0h1m5 0h1m5 0h1m11 0h1m5 0h7m5 0h1m5 0h1m5 0h4m8 0h1m14 0h4m20 0h1m5 0h7m29 0h1m11 0h1m5 0h1m11 0h1m5 0h1m8 0h1m14 0h1m23 0h1m8 0h4m14 0h1m11 0h4m8 0h4m14 0h1m17 0h1M171 705.5h4m50 0h7m5 0h4m8 0h4m5 0h1m5 0h7m5 0h1m11 0h1m5 0h7m5 0h19m5 0h4m5 0h1m5 0h1m5 0h19m5 0h4m5 0h7m5 0h7m5 0h1m5 0h10m8 0h4m5 0h10m8 0h1m8 0h1m5 0h19m11 0h7m5 0h1m11 0h1m5 0h1m5 0h4m5 0h4m5 0h1m23 0h1m5 0h4m5 0h4m26 0h4m17 0h1m14 0h1m5 0h10m8 0h1m5 0h1m5 0h4m11 0h4m8 0h1m8 0h1m20 0h1m17 0h4m14 0h1m5 0h4m35 0h4m14 0h4m8 0h1m20 0h1m32 0h1m20 0h1m23 0h1M159 708.5h1m29 0h1m38 0h13m5 0h1m8 0h1m5 0h4m5 0h10m5 0h10m5 0h1m11 0h7m5 0h19m5 0h1m5 0h1m5 0h1m5 0h1m5 0h10m5 0h7m8 0h4m11 0h1m5 0h19m5 0h13m5 0h10m11 0h7m5 0h1m5 0h4m5 0h7m8 0h4m5 0h13m8 0h7m8 0h4m5 0h4m14 0h1m11 0h1m14 0h1m5 0h4m11 0h1m5 0h1m5 0h1m8 0h1m8 0h1m8 0h1m8 0h7m5 0h1m5 0h1m8 0h1m5 0h1m20 0h10m8 0h1m8 0h4m5 0h4m5 0h1m5 0h1m5 0h1m32 0h1m56 0h1m5 0h1m17 0h4m11 0h1m11 0h1m5 0h1m17 0h1m23 0h1M207 711.5h1m26 0h1m11 0h1m8 0h1m5 0h7m5 0h1m5 0h7m5 0h10m5 0h25m8 0h7m5 0h10m5 0h22m5 0h4m8 0h10m8 0h37m5 0h1m8 0h1m5 0h1m5 0h13m5 0h1m17 0h1m5 0h4m5 0h10m14 0h4m8 0h7m11 0h4m14 0h1m5 0h1m5 0h4m5 0h1m17 0h1m35 0h1m5 0h1m5 0h4m5 0h4m5 0h1m14 0h1m5 0h4m29 0h1m5 0h4m8 0h1m38 0h1m32 0h1m5 0h1m14 0h1m11 0h1m11 0h1m5 0h1m26 0h1m26 0h1M219 714.5h1m8 0h1m8 0h1m8 0h4m5 0h1m5 0h1m5 0h4m5 0h10m5 0h13m8 0h1m8 0h13m5 0h13m5 0h10m5 0h13m8 0h13m8 0h7m8 0h4m5 0h13m5 0h4m5 0h10m8 0h31m5 0h1m5 0h4m5 0h1m14 0h4m5 0h7m5 0h4m5 0h1m5 0h1m8 0h4m5 0h1m5 0h4m8 0h4m11 0h4m38 0h1m5 0h4m8 0h1m5 0h1m5 0h7m14 0h4m17 0h7m11 0h1m8 0h1m32 0h1m11 0h1m11 0h1m5 0h1m5 0h1m17 0h1m23 0h4m17 0h1m14 0h1m5 0h1m20 0h4m5 0h4m5 0h1m14 0h1m17 0h1m14 0h4M192 717.5h1m8 0h4m5 0h1m20 0h1m17 0h1m5 0h10m5 0h1m5 0h13m5 0h19m5 0h1m8 0h10m5 0h13m5 0h19m5 0h16m5 0h7m5 0h1m5 0h7m8 0h1m5 0h10m11 0h10m8 0h4m5 0h19m11 0h4m8 0h10m8 0h1m11 0h1m44 0h1m11 0h1m17 0h1m8 0h1m5 0h1m5 0h4m5 0h1m8 0h4m11 0h1m5 0h1m5 0h1m20 0h1m14 0h4m5 0h1m5 0h1m8 0h1m5 0h1m14 0h4m8 0h1m26 0h4m20 0h1m5 0h4m20 0h1m23 0h1m8 0h1m8 0h1m32 0h4m59 0h1m20 0h1M144 720.5h1m5 0h1m14 0h1m20 0h1m5 0h4m17 0h1m5 0h1m8 0h10m8 0h10m8 0h1m5 0h1m8 0h7m8 0h1m5 0h4m5 0h10m5 0h13m11 0h7m5 0h19m5 0h28m5 0h10m8 0h4m5 0h4m5 0h7m5 0h10m8 0h1m8 0h1m5 0h4m5 0h13m8 0h1m5 0h4m11 0h4m5 0h10m8 0h1m14 0h4m14 0h1m17 0h1m5 0h10m8 0h1m11 0h4m8 0h1m14 0h4m8 0h10m5 0h1m5 0h4m8 0h1m65 0h1m26 0h4m14 0h1m5 0h4m23 0h1m20 0h1m83 0h1m29 0h1m11 0h1M153 723.5h1m8 0h1m29 0h1m20 0h1m8 0h1m8 0h1m8 0h7m8 0h1m8 0h4m5 0h19m5 0h1m5 0h4m11 0h1m5 0h1m5 0h1m5 0h10m5 0h10m8 0h13m8 0h10m8 0h1m5 0h1m8 0h4m5 0h4m8 0h13m29 0h1m5 0h10m11 0h10m5 0h4m11 0h1m17 0h4m14 0h4m5 0h1m14 0h1m5 0h1m20 0h4m14 0h1m26 0h1m8 0h1m32 0h1m5 0h1m11 0h4m14 0h1m11 0h1m8 0h1m14 0h1m14 0h1m5 0h1m8 0h4m20 0h1m11 0h1m20 0h1m17 0h4m5 0h1m26 0h1m17 0h1m38 0h1M147 726.5h1m47 0h1m80 0h1m41 0h4m5 0h1m44 0h1m20 0h1m137 0h1m47 0h1m14 0h1m50 0h1m20 0h1m161 0h1m158 0h1m35 0h1M255 729.5h1m29 0h1m23 0h1m32 0h1m14 0h1m14 0h1m53 0h1m14 0h1m98 0h1m23 0h1m74 0h1m47 0h1m23 0h1m11 0h1m14 0h1M198 732.5h1m125 0h1m44 0h1m38 0h1m14 0h1m44 0h1m8 0h1m68 0h1m74 0h1m41 0h4m89 0h1m68 0h1m140 0h1M240 735.5h1m29 0h4m71 0h1m14 0h1m26 0h4m65 0h1m23 0h1m53 0h1m77 0h4m47 0h1m107 0h1m74 0h1m107 0h1M240 738.5h1m98 0h1m17 0h4m11 0h1m23 0h7m20 0h1m26 0h1m26 0h1m317 0h1m56 0h1M147 741.5h1m38 0h1m65 0h1m20 0h1m8 0h1m17 0h1m17 0h1m71 0h1m17 0h1m5 0h4m14 0h1m23 0h1m11 0h1m98 0h1m38 0h1m110 0h1m101 0h1M360 744.5h1m26 0h1m11 0h1m47 0h1m17 0h1m23 0h1m68 0h7m110 0h1m56 0h4m101 0h1m146 0h1m44 0h1M183 747.5h1m101 0h1m35 0h1m74 0h1m35 0h1m20 0h1m11 0h1m23 0h1m47 0h1m89 0h1m80 0h1m8 0h1m149 0h1m107 0h1M228 750.5h1m44 0h1m32 0h1m17 0h1m5 0h1m17 0h1m26 0h1m5 0h4m5 0h1m101 0h1m26 0h1m14 0h1m11 0h4m5 0h1m11 0h1m62 0h1m80 0h1m155 0h1M279 753.5h1m32 0h1m32 0h4m11 0h1m17 0h1m23 0h1m68 0h1m35 0h1m14 0h1m14 0h4m5 0h1m164 0h1m47 0h1m17 0h1m50 0h1m29 0h1M162 756.5h1m74 0h1m122 0h1m23 0h1m14 0h1m44 0h1m83 0h1m56 0h1m53 0h1m134 0h1m107 0h1" stroke="#000" stroke-width="1" stroke-dasharray="1 2" fill="none"/>
<rect x="138" y="756" width="916" height="1" fill="#000"/>
<rect x="138" y="738" width="1" height="19" fill="#000"/>
<rect x="159" y="747" width="1" height="10" fill="#000"/>
<rect x="183" y="747" width="1" height="10" fill="#000"/>
<rect x="207" y="747" width="1" height="10" fill="#000"/>
<rect x="228" y="747" width="1" height="10" fill="#000"/>
<rect x="252" y="738" width="1" height="19" fill="#000"/>
<rect x="276" y="747" width="1" height="10" fill="#000"/>
<rect x="297" y="747" width="1" height="10" fill="#000"/>
<rect x="321" y="747" width="1" height="10" fill="#000"/>
<rect x="342" y="747" width="1" height="10" fill="#000"/>
<rect x="366" y="738" width="1" height="19" fill="#000"/>
<rect x="390" y="747" width="1" height="10" fill="#000"/>
<rect x="411" y="747" width="1" height="10" fill="#000"/>
<rect x="435" y="747" width="1" height="10" fill="#000"/>
<rect x="459" y="747" width="1" height="10" fill="#000"/>
<rect x="480" y="738" width="1" height="19" fill="#000"/>
<rect x="504" y="747" width="1" height="10" fill="#000"/>
<rect x="528" y="747" width="1" height="10" fill="#000"/>
<rect x="549" y="747" width="1" height="10" fill="#000"/>
<rect x="573" y="747" width="1" height="10" fill="#000"/>
<rect x="597" y="738" width="1" height="19" fill="#000"/>
<rect x="618" y="747" width="1" height="10" fill="#000"/>
<rect x="642" y="747" width="1" height="10" fill="#000"/>
<rect x="663" y="747" width="1" height="10" fill="#000"/>
<rect x="687" y="747" width="1" height="10" fill="#000"/>
<rect x="711" y="738" width="1" height="19" fill="#000"/>
<rect x="732" y="747" width="1" height="10" fill="#000"/>
<rect x="756" y="747" width="1" height="10" fill="#000"/>
<rect x="780" y="747" width="1" height="10" fill="#000"/>
<rect x="801" y="747" width="1" height="10" fill="#000"/>
<rect x="825" y="738" width="1" height="19" fill="#000"/>
<rect x="849" y="747" width="1" height="10" fill="#000"/>
<rect x="870" y="747" width="1" height="10" fill="#000"/>
<rect x="894" y="747" width="1" height="10" fill="#000"/>
<rect x="915" y="747" width="1" height="10" fill="#000"/>
<rect x="939" y="738" width="1" height="19" fill="#000"/>
<rect x="963" y="747" width="1" height="10" fill="#000"/>
<rect x="984" y="747" width="1" height="10" fill="#000"/>
<rect x="1008" y="747" width="1" height="10" fill="#000"/>
<rect x="1032" y="747" width="1" height="10" fill="#000"/>
<rect x="1053" y="738" width="1" height="19" fill="#000"/>
<rect x="123.10" y="775.15" width="13.70" height="1.8" fill="#000" shape-rendering="geometricPrecision"/>
<text transform="translate(141.90,783.00) scale(0.95,1)" font-size="26.6" text-anchor="middle">4</text>
<rect x="237.10" y="775.15" width="13.70" height="1.8" fill="#000" shape-rendering="geometricPrecision"/>
<text transform="translate(255.90,783.00) scale(0.95,1)" font-size="26.6" text-anchor="middle">3</text>
<rect x="351.10" y="775.15" width="13.70" height="1.8" fill="#000" shape-rendering="geometricPrecision"/>
<text transform="translate(369.90,783.00) scale(0.95,1)" font-size="26.6" text-anchor="middle">2</text>
<rect x="465.10" y="775.15" width="13.70" height="1.8" fill="#000" shape-rendering="geometricPrecision"/>
<path d="M489.10 783.00L489.10 764.09L487.45 764.09C487.11 765.95 485.91 767.89 483.78 767.89L482.45 767.89L482.45 769.73L486.69 769.73L486.69 783.00Z" fill="#000" shape-rendering="geometricPrecision"/>
<text transform="translate(595.00,783.00) scale(0.95,1)" font-size="26.6" text-anchor="middle">0</text>
<path d="M714.06 783.00L714.06 764.09L712.41 764.09C712.06 765.95 710.87 767.89 708.74 767.89L707.41 767.89L707.41 769.73L711.65 769.73L711.65 783.00Z" fill="#000" shape-rendering="geometricPrecision"/>
<text transform="translate(823.00,783.00) scale(0.95,1)" font-size="26.6" text-anchor="middle">2</text>
<text transform="translate(937.00,783.00) scale(0.95,1)" font-size="26.6" text-anchor="middle">3</text>
<text transform="translate(1051.00,783.00) scale(0.95,1)" font-size="26.6" text-anchor="middle">4</text>
<rect x="138" y="99" width="1" height="658" fill="#000"/>
<rect x="138" y="756" width="28" height="1" fill="#000"/>
<rect x="138" y="741" width="13" height="1" fill="#000"/>
<rect x="138" y="723" width="13" height="1" fill="#000"/>
<rect x="138" y="708" width="13" height="1" fill="#000"/>
<rect x="138" y="690" width="13" height="1" fill="#000"/>
<rect x="138" y="675" width="28" height="1" fill="#000"/>
<rect x="138" y="657" width="13" height="1" fill="#000"/>
<rect x="138" y="642" width="13" height="1" fill="#000"/>
<rect x="138" y="624" width="13" height="1" fill="#000"/>
<rect x="138" y="609" width="13" height="1" fill="#000"/>
<rect x="138" y="591" width="28" height="1" fill="#000"/>
<rect x="138" y="576" width="13" height="1" fill="#000"/>
<rect x="138" y="558" width="13" height="1" fill="#000"/>
<rect x="138" y="543" width="13" height="1" fill="#000"/>
<rect x="138" y="525" width="13" height="1" fill="#000"/>
<rect x="138" y="510" width="28" height="1" fill="#000"/>
<rect x="138" y="492" width="13" height="1" fill="#000"/>
<rect x="138" y="477" width="13" height="1" fill="#000"/>
<rect x="138" y="459" width="13" height="1" fill="#000"/>
<rect x="138" y="444" width="13" height="1" fill="#000"/>
<rect x="138" y="429" width="28" height="1" fill="#000"/>
<rect x="138" y="411" width="13" height="1" fill="#000"/>
<rect x="138" y="396" width="13" height="1" fill="#000"/>
<rect x="138" y="378" width="13" height="1" fill="#000"/>
<rect x="138" y="363" width="13" height="1" fill="#000"/>
<rect x="138" y="345" width="28" height="1" fill="#000"/>
<rect x="138" y="330" width="13" height="1" fill="#000"/>
<rect x="138" y="312" width="13" height="1" fill="#000"/>
<rect x="138" y="297" width="13" height="1" fill="#000"/>
<rect x="138" y="279" width="13" height="1" fill="#000"/>
<rect x="138" y="264" width="28" height="1" fill="#000"/>
<rect x="138" y="246" width="13" height="1" fill="#000"/>
<rect x="138" y="231" width="13" height="1" fill="#000"/>
<rect x="138" y="213" width="13" height="1" fill="#000"/>
<rect x="138" y="198" width="13" height="1" fill="#000"/>
<rect x="138" y="180" width="28" height="1" fill="#000"/>
<rect x="138" y="165" width="13" height="1" fill="#000"/>
<rect x="138" y="147" width="13" height="1" fill="#000"/>
<rect x="138" y="132" width="13" height="1" fill="#000"/>
<rect x="138" y="114" width="13" height="1" fill="#000"/>
<rect x="138" y="99" width="28" height="1" fill="#000"/>
<text transform="translate(131.00,767.80) scale(0.95,1)" font-size="26.6" text-anchor="end">4</text>
<rect x="102.20" y="759.95" width="14.10" height="1.8" fill="#000" shape-rendering="geometricPrecision"/>
<text transform="translate(131.00,686.80) scale(0.95,1)" font-size="26.6" text-anchor="end">3</text>
<rect x="102.20" y="678.95" width="14.10" height="1.8" fill="#000" shape-rendering="geometricPrecision"/>
<text transform="translate(131.00,602.80) scale(0.95,1)" font-size="26.6" text-anchor="end">2</text>
<rect x="102.20" y="594.95" width="14.10" height="1.8" fill="#000" shape-rendering="geometricPrecision"/>
<path d="M129.10 521.80L129.10 502.89L127.45 502.89C127.10 504.75 125.91 506.69 123.78 506.69L122.45 506.69L122.45 508.53L126.69 508.53L126.69 521.80Z" fill="#000" shape-rendering="geometricPrecision"/>
<rect x="105.00" y="513.95" width="13.80" height="1.8" fill="#000" shape-rendering="geometricPrecision"/>
<text transform="translate(131.00,440.80) scale(0.95,1)" font-size="26.6" text-anchor="end">0</text>
<path d="M129.10 356.80L129.10 337.89L127.45 337.89C127.10 339.75 125.91 341.69 123.78 341.69L122.45 341.69L122.45 343.53L126.69 343.53L126.69 356.80Z" fill="#000" shape-rendering="geometricPrecision"/>
<text transform="translate(131.00,275.80) scale(0.95,1)" font-size="26.6" text-anchor="end">2</text>
<text transform="translate(131.00,191.80) scale(0.95,1)" font-size="26.6" text-anchor="end">3</text>
<text transform="translate(131.00,110.80) scale(0.95,1)" font-size="26.6" text-anchor="end">4</text>
<path d="M804 120V129H1005V69H996V120Z" fill="#000"/>
<rect x="789" y="57" width="207" height="63" fill="#f2f2f2"/>
<rect x="789" y="57" width="208" height="1" fill="#000"/>
<rect x="789" y="120" width="208" height="1" fill="#000"/>
<rect x="789" y="57" width="1" height="64" fill="#000"/>
<rect x="996" y="57" width="1" height="64" fill="#000"/>
<text transform="translate(830.84,105.75) scale(0.9661,1)" font-size="47.0" text-anchor="start" font-weight="bold">SCAT</text>
<text transform="translate(270.80,60.00)" font-size="41.93" text-anchor="start">xygaus <tspan dy="2.9">+</tspan><tspan dy="-2.9"> xygaus(5) </tspan><tspan dy="2.9">+</tspan><tspan dy="-2.9"> xylandau(</tspan></text>
<path d="M879.85 60.00L879.85 30.19L877.25 30.19C876.70 33.12 874.82 36.18 871.46 36.18L869.37 36.18L869.37 39.08L876.05 39.08L876.05 60.00Z" fill="#000" shape-rendering="geometricPrecision"/>
<text transform="translate(888.45,60.00)" font-size="41.93" text-anchor="start">0)</text>
<rect x="1215" y="15" width="1149" height="825" fill="#adbcc6"/>
<rect x="1332" y="99" width="915" height="657" fill="#e5e5e5"/>
<rect x="1332" y="99" width="916" height="1" fill="#000"/>
<rect x="1332" y="756" width="916" height="1" fill="#000"/>
<rect x="1332" y="99" width="1" height="658" fill="#000"/>
<rect x="2247" y="99" width="1" height="658" fill="#000"/>
<rect x="1353" y="738" width="3" height="3" fill="#ce5e60"/>
<rect x="1398" y="738" width="3" height="3" fill="#ce5e60"/>
<rect x="1443" y="738" width="6" height="6" fill="#ce5e60"/>
<rect x="1488" y="738" width="9" height="6" fill="#ce5e60"/>
<rect x="1533" y="738" width="9" height="6" fill="#ce5e60"/>
<rect x="1578" y="735" width="12" height="9" fill="#ce5e60"/>
<rect x="1626" y="738" width="6" height="6" fill="#ce5e60"/>
<rect x="1671" y="738" width="9" height="6" fill="#ce5e60"/>
<rect x="1716" y="738" width="9" height="6" fill="#ce5e60"/>
<rect x="1764" y="738" width="6" height="6" fill="#ce5e60"/>
<rect x="1809" y="738" width="6" height="6" fill="#ce5e60"/>
<rect x="1854" y="738" width="6" height="3" fill="#ce5e60"/>
<rect x="1902" y="738" width="6" height="6" fill="#ce5e60"/>
<rect x="1947" y="738" width="6" height="6" fill="#ce5e60"/>
<rect x="1995" y="738" width="3" height="3" fill="#ce5e60"/>
<rect x="2037" y="738" width="9" height="6" fill="#ce5e60"/>
<rect x="2085" y="738" width="3" height="3" fill="#ce5e60"/>
<rect x="2133" y="741" width="3" height="1" fill="#ce5e60"/>
<rect x="2178" y="738" width="3" height="3" fill="#ce5e60"/>
<rect x="2223" y="738" width="3" height="3" fill="#ce5e60"/>
<rect x="1350" y="705" width="9" height="6" fill="#ce5e60"/>
<rect x="1392" y="702" width="15" height="9" fill="#ce5e60"/>
<rect x="1434" y="699" width="24" height="18" fill="#ce5e60"/>
<rect x="1476" y="696" width="30" height="24" fill="#ce5e60"/>
<rect x="1521" y="696" width="33" height="24" fill="#ce5e60"/>
<rect x="1566" y="696" width="33" height="24" fill="#ce5e60"/>
<rect x="1614" y="696" width="30" height="24" fill="#ce5e60"/>
<rect x="1659" y="696" width="30" height="21" fill="#ce5e60"/>
<rect x="1707" y="699" width="27" height="18" fill="#ce5e60"/>
<rect x="1755" y="699" width="21" height="15" fill="#ce5e60"/>
<rect x="1803" y="699" width="21" height="15" fill="#ce5e60"/>
<rect x="1848" y="702" width="21" height="12" fill="#ce5e60"/>
<rect x="1896" y="702" width="18" height="12" fill="#ce5e60"/>
<rect x="1941" y="702" width="18" height="12" fill="#ce5e60"/>
<rect x="1989" y="702" width="15" height="12" fill="#ce5e60"/>
<rect x="2034" y="702" width="15" height="12" fill="#ce5e60"/>
<rect x="2082" y="702" width="12" height="9" fill="#ce5e60"/>
<rect x="2127" y="702" width="12" height="9" fill="#ce5e60"/>
<rect x="2175" y="705" width="9" height="6" fill="#ce5e60"/>
<rect x="2220" y="705" width="9" height="6" fill="#ce5e60"/>
<rect x="1347" y="672" width="12" height="6" fill="#ce5e60"/>
<rect x="1389" y="669" width="21" height="12" fill="#ce5e60"/>
<rect x="1428" y="663" width="33" height="24" fill="#ce5e60"/>
<rect x="1473" y="660" width="39" height="27" fill="#ce5e60"/>
<rect x="1515" y="660" width="45" height="30" fill="#ce5e60"/>
<rect x="1563" y="660" width="39" height="30" fill="#ce5e60"/>
<rect x="1611" y="663" width="36" height="24" fill="#ce5e60"/>
<rect x="1659" y="663" width="33" height="24" fill="#ce5e60"/>
<rect x="1704" y="663" width="33" height="24" fill="#ce5e60"/>
<rect x="1752" y="663" width="30" height="21" fill="#ce5e60"/>
<rect x="1800" y="666" width="24" height="18" fill="#ce5e60"/>
<rect x="1848" y="666" width="21" height="18" fill="#ce5e60"/>
<rect x="1893" y="666" width="24" height="18" fill="#ce5e60"/>
<rect x="1938" y="666" width="24" height="18" fill="#ce5e60"/>
<rect x="1983" y="666" width="27" height="18" fill="#ce5e60"/>
<rect x="2031" y="666" width="24" height="18" fill="#ce5e60"/>
<rect x="2076" y="666" width="21" height="15" fill="#ce5e60"/>
<rect x="2124" y="669" width="18" height="12" fill="#ce5e60"/>
<rect x="2172" y="669" width="15" height="9" fill="#ce5e60"/>
<rect x="2217" y="669" width="15" height="12" fill="#ce5e60"/>
<rect x="1350" y="639" width="9" height="6" fill="#ce5e60"/>
<rect x="1392" y="636" width="18" height="12" fill="#ce5e60"/>
<rect x="1431" y="630" width="30" height="21" fill="#ce5e60"/>
<rect x="1476" y="630" width="30" height="24" fill="#ce5e60"/>
<rect x="1518" y="627" width="39" height="27" fill="#ce5e60"/>
<rect x="1566" y="630" width="36" height="24" fill="#ce5e60"/>
<rect x="1611" y="630" width="36" height="24" fill="#ce5e60"/>
<rect x="1659" y="630" width="33" height="24" fill="#ce5e60"/>
<rect x="1707" y="633" width="27" height="18" fill="#ce5e60"/>
<rect x="1755" y="633" width="24" height="18" fill="#ce5e60"/>
<rect x="1800" y="633" width="24" height="18" fill="#ce5e60"/>
<rect x="1848" y="633" width="21" height="15" fill="#ce5e60"/>
<rect x="1893" y="633" width="21" height="18" fill="#ce5e60"/>
<rect x="1938" y="633" width="24" height="18" fill="#ce5e60"/>
<rect x="1977" y="630" width="36" height="24" fill="#ce5e60"/>
<rect x="2025" y="630" width="33" height="24" fill="#ce5e60"/>
<rect x="2073" y="633" width="30" height="18" fill="#ce5e60"/>
<rect x="2124" y="636" width="18" height="12" fill="#ce5e60"/>
<rect x="2172" y="636" width="15" height="12" fill="#ce5e60"/>
<rect x="2220" y="639" width="9" height="6" fill="#ce5e60"/>
<rect x="1350" y="606" width="6" height="6" fill="#ce5e60"/>
<rect x="1392" y="603" width="15" height="12" fill="#ce5e60"/>
<rect x="1434" y="600" width="24" height="18" fill="#ce5e60"/>
<rect x="1479" y="600" width="27" height="18" fill="#ce5e60"/>
<rect x="1524" y="600" width="27" height="18" fill="#ce5e60"/>
<rect x="1569" y="600" width="27" height="18" fill="#ce5e60"/>
<rect x="1617" y="600" width="24" height="18" fill="#ce5e60"/>
<rect x="1662" y="600" width="24" height="18" fill="#ce5e60"/>
<rect x="1710" y="600" width="21" height="15" fill="#ce5e60"/>
<rect x="1758" y="603" width="18" height="12" fill="#ce5e60"/>
<rect x="1803" y="603" width="18" height="12" fill="#ce5e60"/>
<rect x="1848" y="603" width="18" height="12" fill="#ce5e60"/>
<rect x="1893" y="600" width="21" height="15" fill="#ce5e60"/>
<rect x="1932" y="597" width="36" height="24" fill="#ce5e60"/>
<rect x="1974" y="594" width="45" height="30" fill="#ce5e60"/>
<rect x="2019" y="594" width="45" height="30" fill="#ce5e60"/>
<rect x="2073" y="597" width="30" height="24" fill="#ce5e60"/>
<rect x="2124" y="600" width="21" height="15" fill="#ce5e60"/>
<rect x="2175" y="606" width="9" height="6" fill="#ce5e60"/>
<rect x="2220" y="606" width="9" height="6" fill="#ce5e60"/>
<rect x="1353" y="576" width="3" height="1" fill="#ce5e60"/>
<rect x="1395" y="573" width="9" height="6" fill="#ce5e60"/>
<rect x="1437" y="570" width="18" height="12" fill="#ce5e60"/>
<rect x="1479" y="567" width="24" height="18" fill="#ce5e60"/>
<rect x="1524" y="567" width="24" height="18" fill="#ce5e60"/>
<rect x="1572" y="567" width="24" height="18" fill="#ce5e60"/>
<rect x="1620" y="567" width="18" height="15" fill="#ce5e60"/>
<rect x="1665" y="567" width="21" height="15" fill="#ce5e60"/>
<rect x="1713" y="570" width="15" height="12" fill="#ce5e60"/>
<rect x="1758" y="570" width="15" height="12" fill="#ce5e60"/>
<rect x="1806" y="570" width="12" height="12" fill="#ce5e60"/>
<rect x="1851" y="570" width="15" height="12" fill="#ce5e60"/>
<rect x="1893" y="567" width="21" height="18" fill="#ce5e60"/>
<rect x="1932" y="564" width="36" height="24" fill="#ce5e60"/>
<rect x="1974" y="558" width="45" height="33" fill="#ce5e60"/>
<rect x="2019" y="561" width="45" height="30" fill="#ce5e60"/>
<rect x="2070" y="564" width="33" height="24" fill="#ce5e60"/>
<rect x="2124" y="567" width="21" height="15" fill="#ce5e60"/>
<rect x="2175" y="573" width="9" height="6" fill="#ce5e60"/>
<rect x="2220" y="573" width="9" height="6" fill="#ce5e60"/>
<rect x="1353" y="540" width="3" height="3" fill="#ce5e60"/>
<rect x="1395" y="540" width="9" height="6" fill="#ce5e60"/>
<rect x="1440" y="537" width="12" height="12" fill="#ce5e60"/>
<rect x="1482" y="537" width="18" height="12" fill="#ce5e60"/>
<rect x="1527" y="537" width="21" height="12" fill="#ce5e60"/>
<rect x="1575" y="537" width="18" height="12" fill="#ce5e60"/>
<rect x="1620" y="537" width="18" height="12" fill="#ce5e60"/>
<rect x="1668" y="537" width="15" height="12" fill="#ce5e60"/>
<rect x="1713" y="537" width="15" height="12" fill="#ce5e60"/>
<rect x="1761" y="537" width="12" height="12" fill="#ce5e60"/>
<rect x="1806" y="540" width="12" height="6" fill="#ce5e60"/>
<rect x="1851" y="537" width="15" height="12" fill="#ce5e60"/>
<rect x="1896" y="537" width="18" height="12" fill="#ce5e60"/>
<rect x="1938" y="534" width="24" height="18" fill="#ce5e60"/>
<rect x="1980" y="531" width="33" height="24" fill="#ce5e60"/>
<rect x="2025" y="531" width="33" height="24" fill="#ce5e60"/>
<rect x="2076" y="534" width="24" height="18" fill="#ce5e60"/>
<rect x="2127" y="537" width="12" height="12" fill="#ce5e60"/>
<rect x="2175" y="540" width="9" height="6" fill="#ce5e60"/>
<rect x="2223" y="540" width="6" height="6" fill="#ce5e60"/>
<rect x="1350" y="507" width="6" height="6" fill="#ce5e60"/>
<rect x="1395" y="507" width="9" height="6" fill="#ce5e60"/>
<rect x="1437" y="504" width="15" height="12" fill="#ce5e60"/>
<rect x="1482" y="504" width="18" height="12" fill="#ce5e60"/>
<rect x="1530" y="504" width="15" height="12" fill="#ce5e60"/>
<rect x="1575" y="504" width="15" height="12" fill="#ce5e60"/>
<rect x="1620" y="504" width="18" height="12" fill="#ce5e60"/>
<rect x="1668" y="504" width="15" height="12" fill="#ce5e60"/>
<rect x="1713" y="504" width="15" height="12" fill="#ce5e60"/>
<rect x="1761" y="504" width="12" height="12" fill="#ce5e60"/>
<rect x="1806" y="507" width="12" height="6" fill="#ce5e60"/>
<rect x="1851" y="504" width="12" height="9" fill="#ce5e60"/>
<rect x="1899" y="504" width="12" height="12" fill="#ce5e60"/>
<rect x="1944" y="504" width="12" height="12" fill="#ce5e60"/>
<rect x="1986" y="504" width="18" height="12" fill="#ce5e60"/>
<rect x="2034" y="504" width="15" height="12" fill="#ce5e60"/>
<rect x="2082" y="504" width="12" height="12" fill="#ce5e60"/>
<rect x="2127" y="507" width="12" height="6" fill="#ce5e60"/>
<rect x="2178" y="507" width="3" height="6" fill="#ce5e60"/>
<rect x="2223" y="507" width="3" height="3" fill="#ce5e60"/>
<rect x="1347" y="474" width="12" height="6" fill="#ce5e60"/>
<rect x="1395" y="474" width="9" height="6" fill="#ce5e60"/>
<rect x="1437" y="471" width="18" height="12" fill="#ce5e60"/>
<rect x="1482" y="471" width="18" height="12" fill="#ce5e60"/>
<rect x="1527" y="471" width="21" height="12" fill="#ce5e60"/>
<rect x="1572" y="471" width="21" height="12" fill="#ce5e60"/>
<rect x="1620" y="471" width="18" height="12" fill="#ce5e60"/>
<rect x="1665" y="471" width="21" height="12" fill="#ce5e60"/>
<rect x="1713" y="471" width="15" height="12" fill="#ce5e60"/>
<rect x="1758" y="471" width="15" height="12" fill="#ce5e60"/>
<rect x="1806" y="474" width="12" height="6" fill="#ce5e60"/>
<rect x="1851" y="471" width="15" height="12" fill="#ce5e60"/>
<rect x="1899" y="474" width="12" height="6" fill="#ce5e60"/>
<rect x="1944" y="474" width="12" height="6" fill="#ce5e60"/>
<rect x="1989" y="474" width="12" height="6" fill="#ce5e60"/>
<rect x="2037" y="474" width="9" height="6" fill="#ce5e60"/>
<rect x="2082" y="474" width="9" height="6" fill="#ce5e60"/>
<rect x="2130" y="474" width="6" height="6" fill="#ce5e60"/>
<rect x="2178" y="477" width="3" height="1" fill="#ce5e60"/>
<rect x="2223" y="474" width="6" height="6" fill="#ce5e60"/>
<rect x="1347" y="438" width="15" height="12" fill="#ce5e60"/>
<rect x="1392" y="438" width="15" height="12" fill="#ce5e60"/>
<rect x="1437" y="438" width="18" height="12" fill="#ce5e60"/>
<rect x="1482" y="435" width="21" height="18" fill="#ce5e60"/>
<rect x="1524" y="435" width="24" height="18" fill="#ce5e60"/>
<rect x="1572" y="435" width="24" height="18" fill="#ce5e60"/>
<rect x="1617" y="435" width="24" height="18" fill="#ce5e60"/>
<rect x="1665" y="435" width="21" height="18" fill="#ce5e60"/>
<rect x="1710" y="435" width="21" height="18" fill="#ce5e60"/>
<rect x="1755" y="435" width="24" height="18" fill="#ce5e60"/>
<rect x="1803" y="438" width="18" height="12" fill="#ce5e60"/>
<rect x="1851" y="438" width="15" height="12" fill="#ce5e60"/>
<rect x="1896" y="438" width="15" height="12" fill="#ce5e60"/>
<rect x="1944" y="441" width="12" height="6" fill="#ce5e60"/>
<rect x="1989" y="441" width="12" height="6" fill="#ce5e60"/>
<rect x="2037" y="441" width="9" height="6" fill="#ce5e60"/>
<rect x="2085" y="441" width="6" height="6" fill="#ce5e60"/>
<rect x="2130" y="444" width="6" height="1" fill="#ce5e60"/>
<rect x="2175" y="441" width="6" height="6" fill="#ce5e60"/>
<rect x="2223" y="444" width="3" height="1" fill="#ce5e60"/>
<rect x="1344" y="405" width="18" height="12" fill="#ce5e60"/>
<rect x="1389" y="402" width="21" height="18" fill="#ce5e60"/>
<rect x="1434" y="402" width="24" height="18" fill="#ce5e60"/>
<rect x="1476" y="402" width="30" height="18" fill="#ce5e60"/>
<rect x="1524" y="399" width="27" height="24" fill="#ce5e60"/>
<rect x="1569" y="399" width="30" height="24" fill="#ce5e60"/>
<rect x="1614" y="399" width="30" height="24" fill="#ce5e60"/>
<rect x="1659" y="399" width="30" height="24" fill="#ce5e60"/>
<rect x="1707" y="399" width="30" height="24" fill="#ce5e60"/>
<rect x="1755" y="402" width="24" height="18" fill="#ce5e60"/>
<rect x="1800" y="402" width="24" height="18" fill="#ce5e60"/>
<rect x="1845" y="402" width="24" height="18" fill="#ce5e60"/>
<rect x="1896" y="405" width="18" height="12" fill="#ce5e60"/>
<rect x="1941" y="405" width="18" height="12" fill="#ce5e60"/>
<rect x="1989" y="405" width="15" height="12" fill="#ce5e60"/>
<rect x="2037" y="408" width="9" height="6" fill="#ce5e60"/>
<rect x="2082" y="408" width="9" height="6" fill="#ce5e60"/>
<rect x="2130" y="408" width="6" height="6" fill="#ce5e60"/>
<rect x="2175" y="408" width="6" height="6" fill="#ce5e60"/>
<rect x="2223" y="408" width="6" height="6" fill="#ce5e60"/>
<rect x="1341" y="369" width="24" height="18" fill="#ce5e60"/>
<rect x="1386" y="369" width="27" height="18" fill="#ce5e60"/>
<rect x="1431" y="369" width="30" height="18" fill="#ce5e60"/>
<rect x="1476" y="366" width="33" height="24" fill="#ce5e60"/>
<rect x="1521" y="366" width="33" height="24" fill="#ce5e60"/>
<rect x="1566" y="366" width="36" height="24" fill="#ce5e60"/>
<rect x="1611" y="366" width="36" height="27" fill="#ce5e60"/>
<rect x="1656" y="366" width="36" height="24" fill="#ce5e60"/>
<rect x="1704" y="366" width="36" height="24" fill="#ce5e60"/>
<rect x="1749" y="366" width="33" height="24" fill="#ce5e60"/>
<rect x="1797" y="369" width="30" height="18" fill="#ce5e60"/>
<rect x="1845" y="369" width="27" height="18" fill="#ce5e60"/>
<rect x="1893" y="369" width="24" height="18" fill="#ce5e60"/>
<rect x="1941" y="372" width="18" height="12" fill="#ce5e60"/>
<rect x="1989" y="372" width="15" height="12" fill="#ce5e60"/>
<rect x="2037" y="375" width="12" height="6" fill="#ce5e60"/>
<rect x="2082" y="375" width="9" height="6" fill="#ce5e60"/>
<rect x="2130" y="375" width="9" height="6" fill="#ce5e60"/>
<rect x="2175" y="375" width="6" height="6" fill="#ce5e60"/>
<rect x="2223" y="378" width="3" height="1" fill="#ce5e60"/>
<rect x="1341" y="336" width="27" height="18" fill="#ce5e60"/>
<rect x="1383" y="333" width="33" height="24" fill="#ce5e60"/>
<rect x="1428" y="333" width="36" height="24" fill="#ce5e60"/>
<rect x="1473" y="330" width="39" height="30" fill="#ce5e60"/>
<rect x="1518" y="330" width="39" height="30" fill="#ce5e60"/>
<rect x="1563" y="330" width="42" height="30" fill="#ce5e60"/>
<rect x="1608" y="330" width="42" height="30" fill="#ce5e60"/>
<rect x="1653" y="330" width="42" height="30" fill="#ce5e60"/>
<rect x="1701" y="330" width="39" height="30" fill="#ce5e60"/>
<rect x="1746" y="330" width="39" height="30" fill="#ce5e60"/>
<rect x="1797" y="333" width="33" height="24" fill="#ce5e60"/>
<rect x="1842" y="333" width="33" height="24" fill="#ce5e60"/>
<rect x="1890" y="336" width="27" height="18" fill="#ce5e60"/>
<rect x="1938" y="336" width="24" height="18" fill="#ce5e60"/>
<rect x="1986" y="339" width="21" height="12" fill="#ce5e60"/>
<rect x="2034" y="339" width="15" height="12" fill="#ce5e60"/>
<rect x="2082" y="342" width="12" height="6" fill="#ce5e60"/>
<rect x="2130" y="342" width="9" height="6" fill="#ce5e60"/>
<rect x="2175" y="342" width="9" height="6" fill="#ce5e60"/>
<rect x="2223" y="345" width="3" height="3" fill="#ce5e60"/>
<rect x="1341" y="303" width="27" height="21" fill="#ce5e60"/>
<rect x="1383" y="300" width="33" height="24" fill="#ce5e60"/>
<rect x="1428" y="300" width="36" height="24" fill="#ce5e60"/>
<rect x="1473" y="297" width="39" height="30" fill="#ce5e60"/>
<rect x="1515" y="297" width="45" height="30" fill="#ce5e60"/>
<rect x="1560" y="297" width="45" height="30" fill="#ce5e60"/>
<rect x="1608" y="297" width="42" height="30" fill="#ce5e60"/>
<rect x="1653" y="297" width="45" height="30" fill="#ce5e60"/>
<rect x="1701" y="297" width="39" height="30" fill="#ce5e60"/>
<rect x="1746" y="297" width="39" height="30" fill="#ce5e60"/>
<rect x="1794" y="300" width="36" height="24" fill="#ce5e60"/>
<rect x="1842" y="300" width="33" height="24" fill="#ce5e60"/>
<rect x="1890" y="303" width="27" height="18" fill="#ce5e60"/>
<rect x="1938" y="303" width="24" height="18" fill="#ce5e60"/>
<rect x="1986" y="306" width="21" height="12" fill="#ce5e60"/>
<rect x="2034" y="306" width="18" height="12" fill="#ce5e60"/>
<rect x="2082" y="309" width="12" height="9" fill="#ce5e60"/>
<rect x="2130" y="309" width="9" height="6" fill="#ce5e60"/>
<rect x="2175" y="309" width="9" height="6" fill="#ce5e60"/>
<rect x="2223" y="312" width="3" height="3" fill="#ce5e60"/>
<rect x="1338" y="270" width="30" height="21" fill="#ce5e60"/>
<rect x="1386" y="267" width="30" height="24" fill="#ce5e60"/>
<rect x="1428" y="267" width="36" height="24" fill="#ce5e60"/>
<rect x="1473" y="267" width="36" height="24" fill="#ce5e60"/>
<rect x="1518" y="264" width="39" height="30" fill="#ce5e60"/>
<rect x="1563" y="264" width="42" height="30" fill="#ce5e60"/>
<rect x="1608" y="264" width="42" height="30" fill="#ce5e60"/>
<rect x="1653" y="264" width="42" height="30" fill="#ce5e60"/>
<rect x="1701" y="264" width="39" height="30" fill="#ce5e60"/>
<rect x="1746" y="264" width="39" height="30" fill="#ce5e60"/>
<rect x="1794" y="267" width="36" height="24" fill="#ce5e60"/>
<rect x="1842" y="267" width="33" height="24" fill="#ce5e60"/>
<rect x="1890" y="270" width="27" height="18" fill="#ce5e60"/>
<rect x="1938" y="270" width="24" height="18" fill="#ce5e60"/>
<rect x="1986" y="273" width="21" height="15" fill="#ce5e60"/>
<rect x="2034" y="273" width="15" height="12" fill="#ce5e60"/>
<rect x="2082" y="273" width="12" height="12" fill="#ce5e60"/>
<rect x="2130" y="276" width="9" height="6" fill="#ce5e60"/>
<rect x="2175" y="276" width="9" height="6" fill="#ce5e60"/>
<rect x="2223" y="276" width="6" height="6" fill="#ce5e60"/>
<rect x="1341" y="237" width="24" height="18" fill="#ce5e60"/>
<rect x="1386" y="237" width="27" height="18" fill="#ce5e60"/>
<rect x="1431" y="234" width="30" height="24" fill="#ce5e60"/>
<rect x="1473" y="234" width="36" height="24" fill="#ce5e60"/>
<rect x="1518" y="234" width="39" height="27" fill="#ce5e60"/>
<rect x="1563" y="234" width="39" height="27" fill="#ce5e60"/>
<rect x="1608" y="231" width="42" height="30" fill="#ce5e60"/>
<rect x="1656" y="231" width="39" height="30" fill="#ce5e60"/>
<rect x="1701" y="234" width="39" height="27" fill="#ce5e60"/>
<rect x="1749" y="234" width="36" height="24" fill="#ce5e60"/>
<rect x="1797" y="234" width="33" height="24" fill="#ce5e60"/>
<rect x="1842" y="237" width="30" height="21" fill="#ce5e60"/>
<rect x="1893" y="237" width="24" height="18" fill="#ce5e60"/>
<rect x="1938" y="240" width="24" height="15" fill="#ce5e60"/>
<rect x="1986" y="240" width="18" height="12" fill="#ce5e60"/>
<rect x="2034" y="240" width="15" height="12" fill="#ce5e60"/>
<rect x="2082" y="243" width="12" height="6" fill="#ce5e60"/>
<rect x="2127" y="243" width="12" height="6" fill="#ce5e60"/>
<rect x="2175" y="243" width="9" height="6" fill="#ce5e60"/>
<rect x="2223" y="246" width="3" height="3" fill="#ce5e60"/>
<rect x="1344" y="207" width="21" height="12" fill="#ce5e60"/>
<rect x="1389" y="204" width="24" height="18" fill="#ce5e60"/>
<rect x="1434" y="204" width="24" height="18" fill="#ce5e60"/>
<rect x="1476" y="204" width="30" height="21" fill="#ce5e60"/>
<rect x="1521" y="201" width="33" height="24" fill="#ce5e60"/>
<rect x="1569" y="201" width="30" height="24" fill="#ce5e60"/>
<rect x="1614" y="201" width="30" height="24" fill="#ce5e60"/>
<rect x="1659" y="201" width="33" height="24" fill="#ce5e60"/>
<rect x="1704" y="201" width="33" height="24" fill="#ce5e60"/>
<rect x="1752" y="204" width="30" height="21" fill="#ce5e60"/>
<rect x="1797" y="204" width="30" height="21" fill="#ce5e60"/>
<rect x="1848" y="204" width="21" height="18" fill="#ce5e60"/>
<rect x="1893" y="207" width="21" height="15" fill="#ce5e60"/>
<rect x="1941" y="207" width="18" height="12" fill="#ce5e60"/>
<rect x="1989" y="207" width="15" height="12" fill="#ce5e60"/>
<rect x="2037" y="210" width="9" height="6" fill="#ce5e60"/>
<rect x="2082" y="210" width="12" height="6" fill="#ce5e60"/>
<rect x="2130" y="210" width="9" height="6" fill="#ce5e60"/>
<rect x="2175" y="210" width="6" height="6" fill="#ce5e60"/>
<rect x="2223" y="213" width="6" height="3" fill="#ce5e60"/>
<rect x="1347" y="174" width="15" height="12" fill="#ce5e60"/>
<rect x="1389" y="174" width="21" height="15" fill="#ce5e60"/>
<rect x="1437" y="174" width="18" height="15" fill="#ce5e60"/>
<rect x="1479" y="171" width="24" height="18" fill="#ce5e60"/>
<rect x="1524" y="171" width="24" height="18" fill="#ce5e60"/>
<rect x="1572" y="171" width="24" height="18" fill="#ce5e60"/>
<rect x="1617" y="171" width="24" height="18" fill="#ce5e60"/>
<rect x="1662" y="171" width="24" height="18" fill="#ce5e60"/>
<rect x="1710" y="171" width="24" height="18" fill="#ce5e60"/>
<rect x="1755" y="171" width="24" height="18" fill="#ce5e60"/>
<rect x="1800" y="171" width="24" height="18" fill="#ce5e60"/>
<rect x="1848" y="174" width="18" height="12" fill="#ce5e60"/>
<rect x="1896" y="174" width="15" height="12" fill="#ce5e60"/>
<rect x="1944" y="177" width="12" height="9" fill="#ce5e60"/>
<rect x="1989" y="177" width="12" height="9" fill="#ce5e60"/>
<rect x="2037" y="177" width="9" height="6" fill="#ce5e60"/>
<rect x="2082" y="177" width="9" height="6" fill="#ce5e60"/>
<rect x="2130" y="177" width="6" height="6" fill="#ce5e60"/>
<rect x="2178" y="180" width="3" height="1" fill="#ce5e60"/>
<rect x="2223" y="180" width="3" height="1" fill="#ce5e60"/>
<rect x="1347" y="144" width="12" height="9" fill="#ce5e60"/>
<rect x="1395" y="144" width="12" height="9" fill="#ce5e60"/>
<rect x="1437" y="141" width="18" height="12" fill="#ce5e60"/>
<rect x="1482" y="141" width="18" height="12" fill="#ce5e60"/>
<rect x="1530" y="141" width="15" height="12" fill="#ce5e60"/>
<rect x="1575" y="141" width="18" height="12" fill="#ce5e60"/>
<rect x="1620" y="141" width="18" height="15" fill="#ce5e60"/>
<rect x="1665" y="141" width="21" height="12" fill="#ce5e60"/>
<rect x="1713" y="141" width="15" height="12" fill="#ce5e60"/>
<rect x="1758" y="141" width="18" height="12" fill="#ce5e60"/>
<rect x="1806" y="144" width="12" height="9" fill="#ce5e60"/>
<rect x="1851" y="141" width="15" height="12" fill="#ce5e60"/>
<rect x="1899" y="144" width="12" height="9" fill="#ce5e60"/>
<rect x="1944" y="144" width="12" height="9" fill="#ce5e60"/>
<rect x="1992" y="144" width="6" height="6" fill="#ce5e60"/>
<rect x="2040" y="144" width="6" height="6" fill="#ce5e60"/>
<rect x="2085" y="144" width="6" height="6" fill="#ce5e60"/>
<rect x="2130" y="147" width="6" height="3" fill="#ce5e60"/>
<rect x="1350" y="111" width="9" height="6" fill="#ce5e60"/>
<rect x="1395" y="111" width="9" height="6" fill="#ce5e60"/>
<rect x="1440" y="111" width="9" height="6" fill="#ce5e60"/>
<rect x="1485" y="111" width="12" height="9" fill="#ce5e60"/>
<rect x="1530" y="111" width="15" height="9" fill="#ce5e60"/>
<rect x="1578" y="111" width="12" height="9" fill="#ce5e60"/>
<rect x="1623" y="108" width="12" height="12" fill="#ce5e60"/>
<rect x="1668" y="111" width="12" height="9" fill="#ce5e60"/>
<rect x="1716" y="111" width="12" height="9" fill="#ce5e60"/>
<rect x="1761" y="111" width="12" height="6" fill="#ce5e60"/>
<rect x="1806" y="111" width="12" height="6" fill="#ce5e60"/>
<rect x="1854" y="111" width="9" height="6" fill="#ce5e60"/>
<rect x="1902" y="111" width="6" height="6" fill="#ce5e60"/>
<rect x="1947" y="111" width="6" height="6" fill="#ce5e60"/>
<rect x="1992" y="111" width="6" height="6" fill="#ce5e60"/>
<rect x="2040" y="111" width="6" height="6" fill="#ce5e60"/>
<rect x="2085" y="114" width="3" height="3" fill="#ce5e60"/>
<rect x="2130" y="114" width="6" height="3" fill="#ce5e60"/>
<rect x="2178" y="114" width="3" height="3" fill="#ce5e60"/>
<rect x="2223" y="114" width="3" height="1" fill="#ce5e60"/>
<rect x="1332" y="756" width="916" height="1" fill="#000"/>
<rect x="1332" y="738" width="1" height="19" fill="#000"/>
<rect x="1353" y="747" width="1" height="10" fill="#000"/>
<rect x="1377" y="747" width="1" height="10" fill="#000"/>
<rect x="1401" y="747" width="1" height="10" fill="#000"/>
<rect x="1422" y="747" width="1" height="10" fill="#000"/>
<rect x="1446" y="738" width="1" height="19" fill="#000"/>
<rect x="1470" y="747" width="1" height="10" fill="#000"/>
<rect x="1491" y="747" width="1" height="10" fill="#000"/>
<rect x="1515" y="747" width="1" height="10" fill="#000"/>
<rect x="1536" y="747" width="1" height="10" fill="#000"/>
<rect x="1560" y="738" width="1" height="19" fill="#000"/>
<rect x="1584" y="747" width="1" height="10" fill="#000"/>
<rect x="1605" y="747" width="1" height="10" fill="#000"/>
<rect x="1629" y="747" width="1" height="10" fill="#000"/>
<rect x="1653" y="747" width="1" height="10" fill="#000"/>
<rect x="1674" y="738" width="1" height="19" fill="#000"/>
<rect x="1698" y="747" width="1" height="10" fill="#000"/>
<rect x="1722" y="747" width="1" height="10" fill="#000"/>
<rect x="1743" y="747" width="1" height="10" fill="#000"/>
<rect x="1767" y="747" width="1" height="10" fill="#000"/>
<rect x="1791" y="738" width="1" height="19" fill="#000"/>
<rect x="1812" y="747" width="1" height="10" fill="#000"/>
<rect x="1836" y="747" width="1" height="10" fill="#000"/>
<rect x="1857" y="747" width="1" height="10" fill="#000"/>
<rect x="1881" y="747" width="1" height="10" fill="#000"/>
<rect x="1905" y="738" width="1" height="19" fill="#000"/>
<rect x="1926" y="747" width="1" height="10" fill="#000"/>
<rect x="1950" y="747" width="1" height="10" fill="#000"/>
<rect x="1974" y="747" width="1" height="10" fill="#000"/>
<rect x="1995" y="747" width="1" height="10" fill="#000"/>
<rect x="2019" y="738" width="1" height="19" fill="#000"/>
<rect x="2043" y="747" width="1" height="10" fill="#000"/>
<rect x="2064" y="747" width="1" height="10" fill="#000"/>
<rect x="2088" y="747" width="1" height="10" fill="#000"/>
<rect x="2109" y="747" width="1" height="10" fill="#000"/>
<rect x="2133" y="738" width="1" height="19" fill="#000"/>
<rect x="2157" y="747" width="1" height="10" fill="#000"/>
<rect x="2178" y="747" width="1" height="10" fill="#000"/>
<rect x="2202" y="747" width="1" height="10" fill="#000"/>
<rect x="2226" y="747" width="1" height="10" fill="#000"/>
<rect x="2247" y="738" width="1" height="19" fill="#000"/>
<rect x="1317.10" y="775.15" width="13.70" height="1.8" fill="#000" shape-rendering="geometricPrecision"/>
<text transform="translate(1335.90,783.00) scale(0.95,1)" font-size="26.6" text-anchor="middle">4</text>
<rect x="1431.10" y="775.15" width="13.70" height="1.8" fill="#000" shape-rendering="geometricPrecision"/>
<text transform="translate(1449.90,783.00) scale(0.95,1)" font-size="26.6" text-anchor="middle">3</text>
<rect x="1545.10" y="775.15" width="13.70" height="1.8" fill="#000" shape-rendering="geometricPrecision"/>
<text transform="translate(1563.90,783.00) scale(0.95,1)" font-size="26.6" text-anchor="middle">2</text>
<rect x="1659.10" y="775.15" width="13.70" height="1.8" fill="#000" shape-rendering="geometricPrecision"/>
<path d="M1683.10 783.00L1683.10 764.09L1681.45 764.09C1681.11 765.95 1679.91 767.89 1677.78 767.89L1676.45 767.89L1676.45 769.73L1680.69 769.73L1680.69 783.00Z" fill="#000" shape-rendering="geometricPrecision"/>
<text transform="translate(1789.00,783.00) scale(0.95,1)" font-size="26.6" text-anchor="middle">0</text>
<path d="M1908.06 783.00L1908.06 764.09L1906.41 764.09C1906.07 765.95 1904.87 767.89 1902.74 767.89L1901.41 767.89L1901.41 769.73L1905.65 769.73L1905.65 783.00Z" fill="#000" shape-rendering="geometricPrecision"/>
<text transform="translate(2017.00,783.00) scale(0.95,1)" font-size="26.6" text-anchor="middle">2</text>
<text transform="translate(2131.00,783.00) scale(0.95,1)" font-size="26.6" text-anchor="middle">3</text>
<text transform="translate(2245.00,783.00) scale(0.95,1)" font-size="26.6" text-anchor="middle">4</text>
<rect x="1332" y="99" width="1" height="658" fill="#000"/>
<rect x="1332" y="756" width="28" height="1" fill="#000"/>
<rect x="1332" y="741" width="13" height="1" fill="#000"/>
<rect x="1332" y="723" width="13" height="1" fill="#000"/>
<rect x="1332" y="708" width="13" height="1" fill="#000"/>
<rect x="1332" y="690" width="13" height="1" fill="#000"/>
<rect x="1332" y="675" width="28" height="1" fill="#000"/>
<rect x="1332" y="657" width="13" height="1" fill="#000"/>
<rect x="1332" y="642" width="13" height="1" fill="#000"/>
<rect x="1332" y="624" width="13" height="1" fill="#000"/>
<rect x="1332" y="609" width="13" height="1" fill="#000"/>
<rect x="1332" y="591" width="28" height="1" fill="#000"/>
<rect x="1332" y="576" width="13" height="1" fill="#000"/>
<rect x="1332" y="558" width="13" height="1" fill="#000"/>
<rect x="1332" y="543" width="13" height="1" fill="#000"/>
<rect x="1332" y="525" width="13" height="1" fill="#000"/>
<rect x="1332" y="510" width="28" height="1" fill="#000"/>
<rect x="1332" y="492" width="13" height="1" fill="#000"/>
<rect x="1332" y="477" width="13" height="1" fill="#000"/>
<rect x="1332" y="459" width="13" height="1" fill="#000"/>
<rect x="1332" y="444" width="13" height="1" fill="#000"/>
<rect x="1332" y="429" width="28" height="1" fill="#000"/>
<rect x="1332" y="411" width="13" height="1" fill="#000"/>
<rect x="1332" y="396" width="13" height="1" fill="#000"/>
<rect x="1332" y="378" width="13" height="1" fill="#000"/>
<rect x="1332" y="363" width="13" height="1" fill="#000"/>
<rect x="1332" y="345" width="28" height="1" fill="#000"/>
<rect x="1332" y="330" width="13" height="1" fill="#000"/>
<rect x="1332" y="312" width="13" height="1" fill="#000"/>
<rect x="1332" y="297" width="13" height="1" fill="#000"/>
<rect x="1332" y="279" width="13" height="1" fill="#000"/>
<rect x="1332" y="264" width="28" height="1" fill="#000"/>
<rect x="1332" y="246" width="13" height="1" fill="#000"/>
<rect x="1332" y="231" width="13" height="1" fill="#000"/>
<rect x="1332" y="213" width="13" height="1" fill="#000"/>
<rect x="1332" y="198" width="13" height="1" fill="#000"/>
<rect x="1332" y="180" width="28" height="1" fill="#000"/>
<rect x="1332" y="165" width="13" height="1" fill="#000"/>
<rect x="1332" y="147" width="13" height="1" fill="#000"/>
<rect x="1332" y="132" width="13" height="1" fill="#000"/>
<rect x="1332" y="114" width="13" height="1" fill="#000"/>
<rect x="1332" y="99" width="28" height="1" fill="#000"/>
<text transform="translate(1325.00,767.80) scale(0.95,1)" font-size="26.6" text-anchor="end">4</text>
<rect x="1296.20" y="759.95" width="14.10" height="1.8" fill="#000" shape-rendering="geometricPrecision"/>
<text transform="translate(1325.00,686.80) scale(0.95,1)" font-size="26.6" text-anchor="end">3</text>
<rect x="1296.20" y="678.95" width="14.10" height="1.8" fill="#000" shape-rendering="geometricPrecision"/>
<text transform="translate(1325.00,602.80) scale(0.95,1)" font-size="26.6" text-anchor="end">2</text>
<rect x="1296.20" y="594.95" width="14.10" height="1.8" fill="#000" shape-rendering="geometricPrecision"/>
<path d="M1323.10 521.80L1323.10 502.89L1321.45 502.89C1321.11 504.75 1319.91 506.69 1317.78 506.69L1316.45 506.69L1316.45 508.53L1320.69 508.53L1320.69 521.80Z" fill="#000" shape-rendering="geometricPrecision"/>
<rect x="1299.00" y="513.95" width="13.80" height="1.8" fill="#000" shape-rendering="geometricPrecision"/>
<text transform="translate(1325.00,440.80) scale(0.95,1)" font-size="26.6" text-anchor="end">0</text>
<path d="M1323.10 356.80L1323.10 337.89L1321.45 337.89C1321.11 339.75 1319.91 341.69 1317.78 341.69L1316.45 341.69L1316.45 343.53L1320.69 343.53L1320.69 356.80Z" fill="#000" shape-rendering="geometricPrecision"/>
<text transform="translate(1325.00,275.80) scale(0.95,1)" font-size="26.6" text-anchor="end">2</text>
<text transform="translate(1325.00,191.80) scale(0.95,1)" font-size="26.6" text-anchor="end">3</text>
<text transform="translate(1325.00,110.80) scale(0.95,1)" font-size="26.6" text-anchor="end">4</text>
<path d="M1998 120V129H2199V69H2190V120Z" fill="#000"/>
<rect x="1983" y="57" width="207" height="63" fill="#f2f2f2"/>
<rect x="1983" y="57" width="208" height="1" fill="#000"/>
<rect x="1983" y="120" width="208" height="1" fill="#000"/>
<rect x="1983" y="57" width="1" height="64" fill="#000"/>
<rect x="2190" y="57" width="1" height="64" fill="#000"/>
<text transform="translate(2037.77,105.75) scale(0.9223,1)" font-size="47.0" text-anchor="start" font-weight="bold">BOX</text>
<text transform="translate(1464.80,60.00)" font-size="41.93" text-anchor="start">xygaus <tspan dy="2.9">+</tspan><tspan dy="-2.9"> xygaus(5) </tspan><tspan dy="2.9">+</tspan><tspan dy="-2.9"> xylandau(</tspan></text>
<path d="M2073.85 60.00L2073.85 30.19L2071.25 30.19C2070.70 33.12 2068.82 36.18 2065.46 36.18L2063.37 36.18L2063.37 39.08L2070.05 39.08L2070.05 60.00Z" fill="#000" shape-rendering="geometricPrecision"/>
<text transform="translate(2082.45,60.00)" font-size="41.93" text-anchor="start">0)</text>
<rect x="21" y="873" width="1149" height="825" fill="#adbcc6"/>
<rect x="138" y="957" width="915" height="657" fill="#e5e5e5"/>
<rect x="138" y="957" width="916" height="1" fill="#000"/>
<rect x="138" y="1614" width="916" height="1" fill="#000"/>
<rect x="138" y="957" width="1" height="658" fill="#000"/>
<rect x="1053" y="957" width="1" height="658" fill="#000"/>
<path d="M204.5 1601v1M205.5 1599v2M206.5 1597v2M207.5 1596v1M252.5 1590v19M297.5 1584v28M342.5 1609v5M343.5 1599v10M344.5 1589v10M345.5 1584v5M390.5 1584v31M387 1584.5h4M435.5 1587v25M480.5 1587v25M528.5 1590v19M525 1590.5h4M573.5 1593v13M618.5 1593v13M663.5 1593v10M663 1593.5h4M711.5 1593v10M756.5 1596v7M801.5 1596v7M849.5 1596v7M846 1596.5h4M894.5 1596v7M939.5 1596v7M984 1599.5h4M156 1566.5h7M212 1563.5h1M210 1564.5h2M208 1565.5h2M206 1566.5h2M204 1567.5h2M202 1568.5h2M201 1569.5h1M210 1563.5h4M260 1558.5h1M258 1559.5h2M257 1560.5h1M256 1561.5h1M255 1562.5h1M254 1563.5h1M252 1564.5h2M251 1565.5h1M250 1566.5h1M249 1567.5h1M248 1568.5h1M246 1569.5h2M245 1570.5h1M244 1571.5h1M243 1572.5h1M258 1557.5h4M294.5 1574v1M295.5 1572v2M296.5 1570v2M297.5 1567v3M298.5 1565v2M299.5 1563v2M300.5 1560v3M301.5 1558v2M302.5 1556v2M303.5 1554v2M303.5 1554v4M303.5 1554v4M342.5 1574v4M343.5 1566v8M344.5 1558v8M345.5 1554v4M387.5 1554v4M388.5 1558v7M389.5 1565v7M390.5 1572v3M432.5 1557v2M433.5 1559v3M434.5 1562v3M435.5 1565v3M436.5 1568v3M437.5 1571v3M438.5 1574v1M477.5 1557v2M478.5 1559v2M479.5 1561v3M480.5 1564v2M481.5 1566v3M482.5 1569v2M483.5 1571v1M477 1557.5h4M522.5 1560v1M523.5 1561v1M524.5 1562v2M525.5 1564v1M526.5 1565v1M527.5 1566v2M528.5 1568v1M529.5 1569v1M530.5 1570v2M570.5 1560v1M571.5 1561v2M572.5 1563v2M573.5 1565v2M574.5 1567v2M575.5 1569v2M576.5 1571v1M618.5 1560v10M663.5 1563v1M664.5 1564v2M665.5 1566v2M666.5 1568v1M711.5 1563v7M708 1563.5h4M756.5 1563v7M801.5 1560v2M802.5 1562v3M803.5 1565v3M804.5 1568v1M846.5 1563v1M847.5 1564v2M848.5 1566v2M849.5 1568v1M894.5 1563v7M939.5 1563v7M984 1566.5h4M1029 1563.5h1M1030 1564.5h1M1031 1565.5h1M1029 1563.5h4M156 1533.5h10M195 1533.5h22M216.5 1530v4M260 1530.5h4M252 1531.5h8M244 1532.5h8M240 1533.5h4M261 1530.5h4M261 1530.5h4M291 1533.5h16M342.5 1535v1M343.5 1533v2M344.5 1531v2M345.5 1530v1M384 1533.5h10M429 1530.5h2M431 1531.5h4M435 1532.5h4M439 1533.5h2M429.5 1530v4M429 1530.5h4M477 1533.5h7M525 1533.5h4M570 1530.5h1M571 1531.5h2M573 1532.5h2M575 1533.5h1M570.5 1530v4M615 1533.5h7M663 1533.5h4M756.5 1530v7M801.5 1524v19M801 1524.5h4M846.5 1524v3M847.5 1527v5M848.5 1532v5M849.5 1537v2M846.5 1524v4M846.5 1524v4M891.5 1527v1M892.5 1528v2M893.5 1530v1M894.5 1531v2M895.5 1533v1M896.5 1534v2M936 1530.5h1M937 1531.5h2M939 1532.5h2M941 1533.5h1M984 1533.5h4M1029 1533.5h4M156 1500.5h10M198 1497.5h3M201 1498.5h5M206 1499.5h5M211 1500.5h2M243 1494.5h1M244 1495.5h2M246 1496.5h2M248 1497.5h1M249 1498.5h2M251 1499.5h2M253 1500.5h1M254 1501.5h2M256 1502.5h2M294.5 1494v1M295.5 1495v1M296.5 1496v2M297.5 1498v1M298.5 1499v1M299.5 1500v2M300.5 1502v1M301.5 1503v1M302.5 1504v2M342.5 1491v3M343.5 1494v5M344.5 1499v5M345.5 1504v2M387.5 1505v1M388.5 1503v2M389.5 1501v2M390.5 1499v2M391.5 1497v2M392.5 1495v2M393.5 1494v1M433.5 1501v2M434.5 1500v1M435.5 1498v2M436.5 1497v1M437.5 1495v2M438.5 1494v1M484 1498.5h2M483 1499.5h1M481 1500.5h2M480 1501.5h1M478 1502.5h2M477 1503.5h1M529 1498.5h2M528 1499.5h1M526 1500.5h2M525 1501.5h1M523 1502.5h2M522 1503.5h1M570.5 1502v1M571.5 1500v2M572.5 1498v2M573.5 1497v1M570 1503.5h4M618.5 1502v1M619.5 1500v2M620.5 1498v2M621.5 1497v1M618.5 1500v4M665 1498.5h1M664 1499.5h1M663 1500.5h1M708 1500.5h7M711 1500.5h4M711 1500.5h4M764 1494.5h1M762 1495.5h2M760 1496.5h2M758 1497.5h2M756 1498.5h2M754 1499.5h2M752 1500.5h2M750 1501.5h2M748 1502.5h2M747 1503.5h1M765.5 1494v4M798.5 1508v1M799.5 1506v2M800.5 1504v2M801.5 1502v2M802.5 1500v2M803.5 1498v2M804.5 1496v2M805.5 1494v2M806.5 1492v2M807.5 1491v1M843.5 1488v2M844.5 1490v2M845.5 1492v2M846.5 1494v3M847.5 1497v2M848.5 1499v2M849.5 1501v3M850.5 1504v2M851.5 1506v2M852.5 1508v1M843.5 1488v4M843.5 1488v4M885 1494.5h1M886 1495.5h2M888 1496.5h2M890 1497.5h2M892 1498.5h2M894 1499.5h2M896 1500.5h2M898 1501.5h2M900 1502.5h2M902 1503.5h1M885.5 1494v4M933 1500.5h13M981 1500.5h7M981 1500.5h4M981 1500.5h4M1029 1500.5h4M156 1467.5h7M201 1464.5h2M203 1465.5h3M206 1466.5h3M209 1467.5h1M246 1464.5h1M247 1465.5h2M249 1466.5h2M251 1467.5h2M253 1468.5h2M255 1469.5h2M257 1470.5h1M294 1464.5h1M295 1465.5h1M296 1466.5h1M297 1467.5h1M298 1468.5h1M299 1469.5h1M342.5 1461v2M343.5 1463v4M344.5 1467v4M345.5 1471v2M342 1473.5h4M387.5 1471v2M388.5 1467v4M389.5 1463v4M390.5 1461v2M389 1471.5h1M388 1472.5h1M387 1473.5h1M387.5 1470v4M432.5 1472v1M433.5 1470v2M434.5 1468v2M435.5 1466v2M436.5 1464v2M437.5 1462v2M438.5 1461v1M432.5 1470v4M480.5 1469v1M481.5 1467v2M482.5 1465v2M483.5 1464v1M477 1470.5h4M525.5 1469v1M526.5 1467v2M527.5 1465v2M528.5 1464v1M570.5 1469v1M571.5 1467v2M572.5 1465v2M573.5 1464v1M570 1470.5h4M618.5 1464v7M663.5 1464v1M664.5 1465v2M665.5 1467v2M666.5 1469v1M666.5 1467v4M666.5 1467v4M702 1467.5h16M769 1464.5h2M764 1465.5h5M759 1466.5h5M754 1467.5h5M749 1468.5h5M744 1469.5h5M741 1470.5h3M808 1462.5h2M807 1463.5h1M805 1464.5h2M804 1465.5h1M802 1466.5h2M801 1467.5h1M799 1468.5h2M798 1469.5h1M796 1470.5h2M795 1471.5h1M793 1472.5h2M792 1473.5h1M840 1461.5h1M841 1462.5h1M842 1463.5h2M844 1464.5h1M845 1465.5h1M846 1466.5h1M847 1467.5h2M849 1468.5h1M850 1469.5h1M851 1470.5h1M852 1471.5h2M854 1472.5h1M879 1464.5h3M882 1465.5h5M887 1466.5h5M892 1467.5h5M897 1468.5h5M902 1469.5h5M907 1470.5h2M930 1467.5h19M981 1467.5h10M159 1434.5h4M201 1434.5h10M249 1431.5h1M250 1432.5h1M251 1433.5h1M252 1434.5h1M253 1435.5h1M254 1436.5h1M294 1431.5h1M295 1432.5h1M296 1433.5h1M297 1434.5h1M298 1435.5h1M299 1436.5h1M342.5 1431v1M343.5 1432v2M344.5 1434v2M345.5 1436v1M387.5 1436v1M388.5 1434v2M389.5 1432v2M390.5 1431v1M435.5 1431v7M480.5 1436v1M481.5 1434v2M482.5 1432v2M483.5 1431v1M527 1432.5h1M526 1433.5h1M525 1434.5h1M573.5 1431v4M570 1434.5h4M618.5 1431v4M660 1434.5h7M702 1434.5h19M738 1431.5h3M741 1432.5h6M747 1433.5h6M753 1434.5h6M759 1435.5h6M765 1436.5h6M771 1437.5h3M771 1437.5h4M771 1437.5h4M795 1428.5h1M796 1429.5h1M797 1430.5h2M799 1431.5h1M800 1432.5h1M801 1433.5h1M802 1434.5h2M804 1435.5h1M805 1436.5h1M806 1437.5h1M807 1438.5h2M809 1439.5h1M856 1429.5h2M854 1430.5h2M852 1431.5h2M851 1432.5h1M849 1433.5h2M847 1434.5h2M845 1435.5h2M844 1436.5h1M842 1437.5h2M840 1438.5h2M838 1439.5h2M837 1440.5h1M907 1431.5h2M902 1432.5h5M897 1433.5h5M892 1434.5h5M887 1435.5h5M882 1436.5h5M879 1437.5h3M945 1431.5h3M939 1432.5h6M933 1433.5h6M930 1434.5h3M930.5 1434v4M981 1434.5h10M1029 1434.5h4M159 1401.5h4M204 1401.5h4M249 1401.5h7M294 1398.5h1M295 1399.5h2M297 1400.5h2M299 1401.5h1M342.5 1403v1M343.5 1401v2M344.5 1399v2M345.5 1398v1M342.5 1401v4M342.5 1401v4M390.5 1398v7M482 1399.5h1M481 1400.5h1M480 1401.5h1M525 1401.5h4M525 1401.5h4M570 1401.5h4M570 1401.5h4M570 1401.5h4M663 1401.5h4M705 1398.5h1M706 1399.5h2M708 1400.5h1M709 1401.5h2M711 1402.5h1M712 1403.5h2M747 1395.5h1M748 1396.5h2M750 1397.5h1M751 1398.5h2M753 1399.5h1M754 1400.5h2M756 1401.5h1M757 1402.5h2M759 1403.5h1M760 1404.5h2M762 1405.5h1M763 1406.5h2M798.5 1389v2M799.5 1391v2M800.5 1393v3M801.5 1396v3M802.5 1399v2M803.5 1401v3M804.5 1404v3M805.5 1407v2M806.5 1409v3M807.5 1412v1M843.5 1412v1M844.5 1409v3M845.5 1407v2M846.5 1404v3M847.5 1401v3M848.5 1399v2M849.5 1396v3M850.5 1393v3M851.5 1391v2M852.5 1389v2M901 1396.5h2M900 1397.5h1M898 1398.5h2M897 1399.5h1M895 1400.5h2M894 1401.5h1M892 1402.5h2M891 1403.5h1M889 1404.5h2M888 1405.5h1M886 1406.5h2M885 1407.5h1M944 1398.5h1M942 1399.5h2M940 1400.5h2M938 1401.5h2M936 1402.5h2M934 1403.5h2M933 1404.5h1M933 1404.5h4M984 1401.5h4M1029 1401.5h4M1029 1401.5h4M159 1368.5h4M204 1368.5h4M249 1368.5h4M297 1368.5h4M297 1368.5h4M297 1368.5h4M480 1368.5h4M525 1368.5h4M525 1368.5h4M663 1368.5h4M756.5 1365v7M756 1371.5h4M801.5 1362v2M802.5 1364v4M803.5 1368v4M804.5 1372v2M801 1374.5h4M846.5 1372v2M847.5 1368v4M848.5 1364v4M849.5 1362v2M891.5 1370v1M892.5 1368v2M893.5 1366v2M894.5 1365v1M939 1368.5h4M984 1368.5h4M159.5 1332v7M204 1335.5h4M249 1335.5h7M252 1335.5h4M297 1335.5h4M297 1335.5h4M342.5 1337v1M343.5 1335v2M344.5 1333v2M345.5 1332v1M342 1332.5h4M390.5 1332v7M435.5 1332v7M435.5 1332v4M435.5 1332v4M480 1335.5h4M525.5 1332v1M526.5 1333v2M527.5 1335v2M528.5 1337v1M570.5 1332v1M571.5 1333v2M572.5 1335v2M573.5 1337v1M618.5 1332v4M618.5 1332v4M618.5 1332v4M663 1335.5h4M708 1335.5h4M708 1335.5h4M846.5 1337v1M847.5 1335v2M848.5 1333v2M849.5 1332v1M846 1338.5h4M846.5 1335v4M159.5 1299v1M160.5 1300v2M161.5 1302v2M162.5 1304v1M159.5 1299v4M204.5 1304v1M205.5 1302v2M206.5 1300v2M207.5 1299v1M254 1300.5h1M253 1301.5h1M252 1302.5h1M251 1303.5h1M250 1304.5h1M249 1305.5h1M252 1299.5h4M297.5 1304v1M298.5 1302v2M299.5 1300v2M300.5 1299v1M342.5 1304v1M343.5 1302v2M344.5 1300v2M345.5 1299v1M390.5 1299v7M432 1299.5h1M433 1300.5h1M434 1301.5h1M435 1302.5h1M436 1303.5h1M437 1304.5h1M432 1299.5h4M480.5 1299v1M481.5 1300v2M482.5 1302v2M483.5 1304v1M525.5 1304v1M526.5 1302v2M527.5 1300v2M528.5 1299v1M570.5 1299v1M571.5 1300v2M572.5 1302v2M573.5 1304v1M570 1299.5h4M615 1299.5h1M616 1300.5h1M617 1301.5h1M618 1302.5h1M619 1303.5h1M620 1304.5h1M663.5 1299v1M664.5 1300v2M665.5 1302v2M666.5 1304v1M708 1302.5h4M708 1302.5h4M756.5 1299v7M756.5 1299v4M801 1302.5h4M846 1302.5h4M1029 1302.5h4M1029 1302.5h4M1029 1302.5h4M161 1267.5h1M160 1268.5h1M159 1269.5h1M158 1270.5h1M157 1271.5h1M156 1272.5h1M204.5 1271v1M205.5 1269v2M206.5 1267v2M207.5 1266v1M254 1267.5h1M253 1268.5h1M252 1269.5h1M251 1270.5h1M250 1271.5h1M249 1272.5h1M294.5 1274v1M295.5 1272v2M296.5 1270v2M297.5 1268v2M298.5 1266v2M299.5 1264v2M300.5 1263v1M342.5 1273v2M343.5 1269v4M344.5 1265v4M345.5 1263v2M387.5 1273v2M388.5 1269v4M389.5 1265v4M390.5 1263v2M435.5 1263v13M480.5 1263v2M481.5 1265v4M482.5 1269v4M483.5 1273v2M525.5 1263v2M526.5 1265v4M527.5 1269v4M528.5 1273v2M570 1266.5h1M571 1267.5h1M572 1268.5h1M573 1269.5h1M574 1270.5h1M575 1271.5h1M618.5 1266v7M660 1266.5h1M661 1267.5h1M662 1268.5h1M663 1269.5h1M664 1270.5h1M665 1271.5h1M660 1266.5h4M708.5 1266v1M709.5 1267v2M710.5 1269v2M711.5 1271v1M756.5 1266v7M798 1269.5h7M846 1269.5h4M984 1269.5h4M163 1234.5h2M162 1235.5h1M160 1236.5h2M159 1237.5h1M157 1238.5h2M156 1239.5h1M204.5 1238v1M205.5 1236v2M206.5 1234v2M207.5 1233v1M207 1233.5h4M249.5 1241v1M250.5 1239v2M251.5 1237v2M252.5 1235v2M253.5 1233v2M254.5 1231v2M255.5 1230v1M295.5 1240v2M296.5 1239v1M297.5 1238v1M298.5 1236v2M299.5 1235v1M300.5 1234v1M301.5 1232v2M302.5 1231v1M303.5 1230v1M300 1230.5h4M342.5 1240v2M343.5 1236v4M344.5 1232v4M345.5 1230v2M387.5 1240v2M388.5 1236v4M389.5 1232v4M390.5 1230v2M435.5 1230v13M480.5 1230v2M481.5 1232v4M482.5 1236v4M483.5 1240v2M525.5 1230v2M526.5 1232v4M527.5 1236v4M528.5 1240v2M525.5 1230v4M525.5 1230v4M567.5 1230v1M568.5 1231v1M569.5 1232v2M570.5 1234v1M571.5 1235v1M572.5 1236v2M573.5 1238v1M574.5 1239v1M575.5 1240v2M615 1233.5h1M616 1234.5h1M617 1235.5h1M618 1236.5h1M619 1237.5h1M620 1238.5h1M663.5 1233v1M664.5 1234v2M665.5 1236v2M666.5 1238v1M705 1233.5h1M706 1234.5h2M708 1235.5h1M709 1236.5h2M711 1237.5h1M712 1238.5h2M705 1233.5h4M753 1236.5h7M798 1233.5h1M799 1234.5h1M800 1235.5h1M801 1236.5h1M802 1237.5h1M803 1238.5h1M798.5 1233v4M798 1233.5h4M846 1236.5h4M984 1236.5h4M163 1201.5h2M162 1202.5h1M160 1203.5h2M159 1204.5h1M157 1205.5h2M156 1206.5h1M165.5 1200v4M208 1201.5h2M207 1202.5h1M205 1203.5h2M204 1204.5h1M202 1205.5h2M201 1206.5h1M210.5 1200v4M257 1200.5h1M255 1201.5h2M253 1202.5h2M251 1203.5h2M249 1204.5h2M247 1205.5h2M246 1206.5h1M299 1201.5h1M298 1202.5h1M297 1203.5h1M296 1204.5h1M295 1205.5h1M294 1206.5h1M342.5 1207v2M343.5 1203v4M344.5 1199v4M345.5 1197v2M345.5 1197v4M345.5 1197v4M387.5 1207v2M388.5 1203v4M389.5 1199v4M390.5 1197v2M435.5 1200v7M480.5 1197v2M481.5 1199v4M482.5 1203v4M483.5 1207v2M480.5 1197v4M525 1200.5h1M526 1201.5h1M527 1202.5h1M528 1203.5h1M529 1204.5h1M530 1205.5h1M567 1200.5h1M568 1201.5h2M570 1202.5h1M571 1203.5h2M573 1204.5h1M574 1205.5h2M567 1200.5h4M615 1200.5h1M616 1201.5h2M618 1202.5h1M619 1203.5h2M621 1204.5h1M622 1205.5h2M660 1200.5h1M661 1201.5h2M663 1202.5h1M664 1203.5h2M666 1204.5h1M667 1205.5h2M705 1203.5h2M707 1204.5h4M711 1205.5h4M715 1206.5h2M705.5 1200v4M753 1200.5h1M754 1201.5h1M755 1202.5h1M756 1203.5h1M757 1204.5h1M758 1205.5h1M753.5 1200v4M798 1203.5h7M798 1203.5h4M846 1203.5h1M847 1204.5h2M849 1205.5h2M851 1206.5h1M891 1203.5h4M891 1203.5h4M891 1203.5h4M984 1203.5h4M1029 1203.5h4M1029 1203.5h4M1029 1203.5h4M156 1170.5h10M201 1170.5h10M246 1170.5h13M255 1170.5h4M255 1170.5h4M291 1170.5h2M293 1171.5h4M297 1172.5h4M301 1173.5h2M303.5 1170v4M339 1170.5h10M387 1170.5h4M477 1170.5h7M522 1170.5h10M567 1170.5h10M615 1170.5h10M660 1170.5h10M705 1170.5h10M750 1170.5h10M750 1170.5h4M750 1170.5h4M798 1170.5h7M846 1170.5h4M891 1170.5h7M939 1170.5h4M984 1170.5h4M159.5 1134v1M160.5 1135v2M161.5 1137v2M162.5 1139v1M201 1134.5h1M202 1135.5h2M204 1136.5h1M205 1137.5h2M207 1138.5h1M208 1139.5h2M246 1134.5h1M247 1135.5h2M249 1136.5h1M250 1137.5h2M252 1138.5h1M253 1139.5h2M294 1134.5h1M295 1135.5h2M297 1136.5h1M298 1137.5h2M300 1138.5h1M301 1139.5h2M339 1134.5h1M340 1135.5h2M342 1136.5h1M343 1137.5h2M345 1138.5h1M346 1139.5h2M387.5 1134v2M388.5 1136v3M389.5 1139v3M390.5 1142v1M390.5 1140v4M390.5 1140v4M435.5 1134v7M480.5 1139v1M481.5 1137v2M482.5 1135v2M483.5 1134v1M525.5 1139v1M526.5 1137v2M527.5 1135v2M528.5 1134v1M578 1134.5h1M576 1135.5h2M574 1136.5h2M572 1137.5h2M570 1138.5h2M568 1139.5h2M567 1140.5h1M622 1137.5h2M618 1138.5h4M614 1139.5h4M612 1140.5h2M612.5 1137v4M668 1137.5h1M665 1138.5h3M662 1139.5h3M660 1140.5h2M660.5 1137v4M713 1137.5h1M710 1138.5h3M707 1139.5h3M705 1140.5h2M705.5 1137v4M753 1137.5h7M753.5 1137v4M801 1137.5h4M846 1137.5h4M891 1137.5h4M939 1137.5h4M984 1137.5h4M156 1101.5h1M157 1102.5h2M159 1103.5h1M160 1104.5h2M162 1105.5h1M163 1106.5h2M201 1101.5h1M202 1102.5h2M204 1103.5h1M205 1104.5h2M207 1105.5h1M208 1106.5h2M246 1101.5h1M247 1102.5h2M249 1103.5h2M251 1104.5h2M253 1105.5h2M255 1106.5h2M257 1107.5h1M255 1107.5h4M294 1101.5h1M295 1102.5h2M297 1103.5h1M298 1104.5h2M300 1105.5h1M301 1106.5h2M300 1107.5h4M342.5 1101v2M343.5 1103v3M344.5 1106v3M345.5 1109v1M345.5 1107v4M345.5 1107v4M387.5 1098v2M388.5 1100v4M389.5 1104v4M390.5 1108v2M435.5 1098v13M480.5 1108v2M481.5 1104v4M482.5 1100v4M483.5 1098v2M523.5 1108v2M524.5 1107v1M525.5 1106v1M526.5 1104v2M527.5 1103v1M528.5 1102v1M529.5 1100v2M530.5 1099v1M531.5 1098v1M522 1110.5h4M570.5 1109v1M571.5 1107v2M572.5 1105v2M573.5 1103v2M574.5 1101v2M575.5 1099v2M576.5 1098v1M620 1102.5h1M619 1103.5h1M618 1104.5h1M617 1105.5h1M616 1106.5h1M615 1107.5h1M667 1102.5h2M666 1103.5h1M664 1104.5h2M663 1105.5h1M661 1106.5h2M660 1107.5h1M712 1102.5h2M711 1103.5h1M709 1104.5h2M708 1105.5h1M706 1106.5h2M705 1107.5h1M753 1104.5h7M803 1105.5h1M802 1106.5h1M801 1107.5h1M801.5 1104v4M846 1104.5h4M891 1104.5h4M984 1104.5h4M1029 1104.5h4M156 1068.5h1M157 1069.5h2M159 1070.5h1M160 1071.5h2M162 1072.5h1M163 1073.5h2M162 1074.5h4M204 1068.5h1M205 1069.5h1M206 1070.5h1M207 1071.5h1M208 1072.5h1M209 1073.5h1M207 1074.5h4M249.5 1068v1M250.5 1069v2M251.5 1071v1M252.5 1072v2M253.5 1074v1M254.5 1075v2M255.5 1074v4M255.5 1074v4M294.5 1065v1M295.5 1066v1M296.5 1067v2M297.5 1069v1M298.5 1070v1M299.5 1071v2M300.5 1073v1M301.5 1074v1M302.5 1075v2M300 1077.5h4M342.5 1065v2M343.5 1067v4M344.5 1071v4M345.5 1075v2M390.5 1065v13M435.5 1065v13M480.5 1075v2M481.5 1071v4M482.5 1067v4M483.5 1065v2M525.5 1075v2M526.5 1071v4M527.5 1067v4M528.5 1065v2M570.5 1075v2M571.5 1071v4M572.5 1067v4M573.5 1065v2M570 1077.5h4M616.5 1075v2M617.5 1074v1M618.5 1072v2M619.5 1071v1M620.5 1069v2M621.5 1068v1M615.5 1074v4M668 1069.5h1M667 1070.5h1M666 1071.5h1M665 1072.5h1M664 1073.5h1M663 1074.5h1M662 1075.5h1M661 1076.5h1M660 1077.5h1M660.5 1074v4M708.5 1073v1M709.5 1071v2M710.5 1069v2M711.5 1068v1M758 1069.5h1M757 1070.5h1M756 1071.5h1M755 1072.5h1M754 1073.5h1M753 1074.5h1M803 1072.5h1M802 1073.5h1M801 1074.5h1M801.5 1071v4M848 1072.5h1M847 1073.5h1M846 1074.5h1M846.5 1071v4M984 1071.5h4M156 1038.5h1M157 1039.5h2M159 1040.5h2M161 1041.5h1M204.5 1035v1M205.5 1036v2M206.5 1038v2M207.5 1040v1M252.5 1035v7M294.5 1035v1M295.5 1036v2M296.5 1038v1M297.5 1039v2M298.5 1041v1M299.5 1042v2M300.5 1041v4M342.5 1032v2M343.5 1034v4M344.5 1038v4M345.5 1042v2M390.5 1035v10M435.5 1032v13M480.5 1035v10M525.5 1042v2M526.5 1038v4M527.5 1034v4M528.5 1032v2M573.5 1035v7M570 1041.5h4M616.5 1042v2M617.5 1041v1M618.5 1039v2M619.5 1038v1M620.5 1036v2M621.5 1035v1M615 1044.5h4M663.5 1040v1M664.5 1038v2M665.5 1036v2M666.5 1035v1M708.5 1040v1M709.5 1038v2M710.5 1036v2M711.5 1035v1M756.5 1038v4M756.5 1038v4M803 1039.5h1M802 1040.5h1M801 1041.5h1M801.5 1038v4M801.5 1038v4M846 1038.5h4M984 1038.5h4M159.5 1005v4M159 1008.5h4M204.5 1002v1M205.5 1003v2M206.5 1005v2M207.5 1007v1M249.5 1002v1M250.5 1003v2M251.5 1005v2M252.5 1007v1M297.5 1002v7M342.5 1002v1M343.5 1003v2M344.5 1005v2M345.5 1007v1M342 1008.5h4M387.5 1002v1M388.5 1003v2M389.5 1005v2M390.5 1007v1M435.5 1002v7M480.5 1007v1M481.5 1005v2M482.5 1003v2M483.5 1002v1M525.5 1007v1M526.5 1005v2M527.5 1003v2M528.5 1002v1M525 1008.5h4M573.5 1002v7M618.5 1002v7M665 1006.5h1M664 1007.5h1M663 1008.5h1M710 1006.5h1M709 1007.5h1M708 1008.5h1M708 1008.5h4M801 1005.5h4M846 1005.5h4M159.5 972v4M161 973.5h1M160 974.5h1M159 975.5h1M159.5 972v4M207.5 972v4M207.5 972v4M207.5 972v4M252.5 969v7M297.5 969v7M297 975.5h4M342 972.5h1M343 973.5h1M344 974.5h1M342 975.5h4M390.5 969v7M435.5 969v7M480.5 969v7M527 973.5h1M526 974.5h1M525 975.5h1M525 975.5h4M573.5 969v7M663.5 974v1M664.5 972v2M665.5 970v2M666.5 969v1M711.5 972v4M756.5 972v4M756.5 972v4M846 972.5h4" stroke="#000099" stroke-width="1" fill="none"/>
<rect x="138" y="1614" width="916" height="1" fill="#000"/>
<rect x="138" y="1596" width="1" height="19" fill="#000"/>
<rect x="159" y="1605" width="1" height="10" fill="#000"/>
<rect x="183" y="1605" width="1" height="10" fill="#000"/>
<rect x="207" y="1605" width="1" height="10" fill="#000"/>
<rect x="228" y="1605" width="1" height="10" fill="#000"/>
<rect x="252" y="1596" width="1" height="19" fill="#000"/>
<rect x="276" y="1605" width="1" height="10" fill="#000"/>
<rect x="297" y="1605" width="1" height="10" fill="#000"/>
<rect x="321" y="1605" width="1" height="10" fill="#000"/>
<rect x="342" y="1605" width="1" height="10" fill="#000"/>
<rect x="366" y="1596" width="1" height="19" fill="#000"/>
<rect x="390" y="1605" width="1" height="10" fill="#000"/>
<rect x="411" y="1605" width="1" height="10" fill="#000"/>
<rect x="435" y="1605" width="1" height="10" fill="#000"/>
<rect x="459" y="1605" width="1" height="10" fill="#000"/>
<rect x="480" y="1596" width="1" height="19" fill="#000"/>
<rect x="504" y="1605" width="1" height="10" fill="#000"/>
<rect x="528" y="1605" width="1" height="10" fill="#000"/>
<rect x="549" y="1605" width="1" height="10" fill="#000"/>
<rect x="573" y="1605" width="1" height="10" fill="#000"/>
<rect x="597" y="1596" width="1" height="19" fill="#000"/>
<rect x="618" y="1605" width="1" height="10" fill="#000"/>
<rect x="642" y="1605" width="1" height="10" fill="#000"/>
<rect x="663" y="1605" width="1" height="10" fill="#000"/>
<rect x="687" y="1605" width="1" height="10" fill="#000"/>
<rect x="711" y="1596" width="1" height="19" fill="#000"/>
<rect x="732" y="1605" width="1" height="10" fill="#000"/>
<rect x="756" y="1605" width="1" height="10" fill="#000"/>
<rect x="780" y="1605" width="1" height="10" fill="#000"/>
<rect x="801" y="1605" width="1" height="10" fill="#000"/>
<rect x="825" y="1596" width="1" height="19" fill="#000"/>
<rect x="849" y="1605" width="1" height="10" fill="#000"/>
<rect x="870" y="1605" width="1" height="10" fill="#000"/>
<rect x="894" y="1605" width="1" height="10" fill="#000"/>
<rect x="915" y="1605" width="1" height="10" fill="#000"/>
<rect x="939" y="1596" width="1" height="19" fill="#000"/>
<rect x="963" y="1605" width="1" height="10" fill="#000"/>
<rect x="984" y="1605" width="1" height="10" fill="#000"/>
<rect x="1008" y="1605" width="1" height="10" fill="#000"/>
<rect x="1032" y="1605" width="1" height="10" fill="#000"/>
<rect x="1053" y="1596" width="1" height="19" fill="#000"/>
<rect x="123.10" y="1633.15" width="13.70" height="1.8" fill="#000" shape-rendering="geometricPrecision"/>
<text transform="translate(141.90,1641.00) scale(0.95,1)" font-size="26.6" text-anchor="middle">4</text>
<rect x="237.10" y="1633.15" width="13.70" height="1.8" fill="#000" shape-rendering="geometricPrecision"/>
<text transform="translate(255.90,1641.00) scale(0.95,1)" font-size="26.6" text-anchor="middle">3</text>
<rect x="351.10" y="1633.15" width="13.70" height="1.8" fill="#000" shape-rendering="geometricPrecision"/>
<text transform="translate(369.90,1641.00) scale(0.95,1)" font-size="26.6" text-anchor="middle">2</text>
<rect x="465.10" y="1633.15" width="13.70" height="1.8" fill="#000" shape-rendering="geometricPrecision"/>
<path d="M489.10 1641.00L489.10 1622.09L487.45 1622.09C487.11 1623.95 485.91 1625.89 483.78 1625.89L482.45 1625.89L482.45 1627.73L486.69 1627.73L486.69 1641.00Z" fill="#000" shape-rendering="geometricPrecision"/>
<text transform="translate(595.00,1641.00) scale(0.95,1)" font-size="26.6" text-anchor="middle">0</text>
<path d="M714.06 1641.00L714.06 1622.09L712.41 1622.09C712.06 1623.95 710.87 1625.89 708.74 1625.89L707.41 1625.89L707.41 1627.73L711.65 1627.73L711.65 1641.00Z" fill="#000" shape-rendering="geometricPrecision"/>
<text transform="translate(823.00,1641.00) scale(0.95,1)" font-size="26.6" text-anchor="middle">2</text>
<text transform="translate(937.00,1641.00) scale(0.95,1)" font-size="26.6" text-anchor="middle">3</text>
<text transform="translate(1051.00,1641.00) scale(0.95,1)" font-size="26.6" text-anchor="middle">4</text>
<rect x="138" y="957" width="1" height="658" fill="#000"/>
<rect x="138" y="1614" width="28" height="1" fill="#000"/>
<rect x="138" y="1599" width="13" height="1" fill="#000"/>
<rect x="138" y="1581" width="13" height="1" fill="#000"/>
<rect x="138" y="1566" width="13" height="1" fill="#000"/>
<rect x="138" y="1548" width="13" height="1" fill="#000"/>
<rect x="138" y="1533" width="28" height="1" fill="#000"/>
<rect x="138" y="1515" width="13" height="1" fill="#000"/>
<rect x="138" y="1500" width="13" height="1" fill="#000"/>
<rect x="138" y="1482" width="13" height="1" fill="#000"/>
<rect x="138" y="1467" width="13" height="1" fill="#000"/>
<rect x="138" y="1449" width="28" height="1" fill="#000"/>
<rect x="138" y="1434" width="13" height="1" fill="#000"/>
<rect x="138" y="1416" width="13" height="1" fill="#000"/>
<rect x="138" y="1401" width="13" height="1" fill="#000"/>
<rect x="138" y="1383" width="13" height="1" fill="#000"/>
<rect x="138" y="1368" width="28" height="1" fill="#000"/>
<rect x="138" y="1350" width="13" height="1" fill="#000"/>
<rect x="138" y="1335" width="13" height="1" fill="#000"/>
<rect x="138" y="1317" width="13" height="1" fill="#000"/>
<rect x="138" y="1302" width="13" height="1" fill="#000"/>
<rect x="138" y="1287" width="28" height="1" fill="#000"/>
<rect x="138" y="1269" width="13" height="1" fill="#000"/>
<rect x="138" y="1254" width="13" height="1" fill="#000"/>
<rect x="138" y="1236" width="13" height="1" fill="#000"/>
<rect x="138" y="1221" width="13" height="1" fill="#000"/>
<rect x="138" y="1203" width="28" height="1" fill="#000"/>
<rect x="138" y="1188" width="13" height="1" fill="#000"/>
<rect x="138" y="1170" width="13" height="1" fill="#000"/>
<rect x="138" y="1155" width="13" height="1" fill="#000"/>
<rect x="138" y="1137" width="13" height="1" fill="#000"/>
<rect x="138" y="1122" width="28" height="1" fill="#000"/>
<rect x="138" y="1104" width="13" height="1" fill="#000"/>
<rect x="138" y="1089" width="13" height="1" fill="#000"/>
<rect x="138" y="1071" width="13" height="1" fill="#000"/>
<rect x="138" y="1056" width="13" height="1" fill="#000"/>
<rect x="138" y="1038" width="28" height="1" fill="#000"/>
<rect x="138" y="1023" width="13" height="1" fill="#000"/>
<rect x="138" y="1005" width="13" height="1" fill="#000"/>
<rect x="138" y="990" width="13" height="1" fill="#000"/>
<rect x="138" y="972" width="13" height="1" fill="#000"/>
<rect x="138" y="957" width="28" height="1" fill="#000"/>
<text transform="translate(131.00,1625.80) scale(0.95,1)" font-size="26.6" text-anchor="end">4</text>
<rect x="102.20" y="1617.95" width="14.10" height="1.8" fill="#000" shape-rendering="geometricPrecision"/>
<text transform="translate(131.00,1544.80) scale(0.95,1)" font-size="26.6" text-anchor="end">3</text>
<rect x="102.20" y="1536.95" width="14.10" height="1.8" fill="#000" shape-rendering="geometricPrecision"/>
<text transform="translate(131.00,1460.80) scale(0.95,1)" font-size="26.6" text-anchor="end">2</text>
<rect x="102.20" y="1452.95" width="14.10" height="1.8" fill="#000" shape-rendering="geometricPrecision"/>
<path d="M129.10 1379.80L129.10 1360.89L127.45 1360.89C127.10 1362.75 125.91 1364.69 123.78 1364.69L122.45 1364.69L122.45 1366.53L126.69 1366.53L126.69 1379.80Z" fill="#000" shape-rendering="geometricPrecision"/>
<rect x="105.00" y="1371.95" width="13.80" height="1.8" fill="#000" shape-rendering="geometricPrecision"/>
<text transform="translate(131.00,1298.80) scale(0.95,1)" font-size="26.6" text-anchor="end">0</text>
<path d="M129.10 1214.80L129.10 1195.89L127.45 1195.89C127.10 1197.75 125.91 1199.69 123.78 1199.69L122.45 1199.69L122.45 1201.53L126.69 1201.53L126.69 1214.80Z" fill="#000" shape-rendering="geometricPrecision"/>
<text transform="translate(131.00,1133.80) scale(0.95,1)" font-size="26.6" text-anchor="end">2</text>
<text transform="translate(131.00,1049.80) scale(0.95,1)" font-size="26.6" text-anchor="end">3</text>
<text transform="translate(131.00,968.80) scale(0.95,1)" font-size="26.6" text-anchor="end">4</text>
<path d="M804 978V987H1005V927H996V978Z" fill="#000"/>
<rect x="789" y="915" width="207" height="63" fill="#f2f2f2"/>
<rect x="789" y="915" width="208" height="1" fill="#000"/>
<rect x="789" y="978" width="208" height="1" fill="#000"/>
<rect x="789" y="915" width="1" height="64" fill="#000"/>
<rect x="996" y="915" width="1" height="64" fill="#000"/>
<text transform="translate(852.13,963.75) scale(0.932,1)" font-size="41.5" text-anchor="start" font-weight="bold">ARR</text>
<text transform="translate(270.80,918.00)" font-size="41.93" text-anchor="start">xygaus <tspan dy="2.9">+</tspan><tspan dy="-2.9"> xygaus(5) </tspan><tspan dy="2.9">+</tspan><tspan dy="-2.9"> xylandau(</tspan></text>
<path d="M879.85 918.00L879.85 888.19L877.25 888.19C876.70 891.12 874.82 894.18 871.46 894.18L869.37 894.18L869.37 897.08L876.05 897.08L876.05 918.00Z" fill="#000" shape-rendering="geometricPrecision"/>
<text transform="translate(888.45,918.00)" font-size="41.93" text-anchor="start">0)</text>
<rect x="1215" y="873" width="1149" height="825" fill="#adbcc6"/>
<rect x="1332" y="957" width="915" height="657" fill="#e5e5e5"/>
<rect x="1332" y="957" width="916" height="1" fill="#000"/>
<rect x="1332" y="1614" width="916" height="1" fill="#000"/>
<rect x="1332" y="957" width="1" height="658" fill="#000"/>
<rect x="2247" y="957" width="1" height="658" fill="#000"/>
<rect x="1332" y="1581" width="45" height="33" fill="#263da8"/>
<rect x="1377" y="1581" width="45" height="33" fill="#263da8"/>
<rect x="1422" y="1581" width="48" height="33" fill="#263da8"/>
<rect x="1470" y="1581" width="45" height="33" fill="#263da8"/>
<rect x="1515" y="1581" width="45" height="33" fill="#263da8"/>
<rect x="1560" y="1581" width="45" height="33" fill="#1652cc"/>
<rect x="1605" y="1581" width="48" height="33" fill="#263da8"/>
<rect x="1653" y="1581" width="45" height="33" fill="#263da8"/>
<rect x="1698" y="1581" width="45" height="33" fill="#263da8"/>
<rect x="1743" y="1581" width="48" height="33" fill="#263da8"/>
<rect x="1791" y="1581" width="45" height="33" fill="#263da8"/>
<rect x="1836" y="1581" width="45" height="33" fill="#263da8"/>
<rect x="1881" y="1581" width="45" height="33" fill="#263da8"/>
<rect x="1926" y="1581" width="48" height="33" fill="#263da8"/>
<rect x="1974" y="1581" width="45" height="33" fill="#263da8"/>
<rect x="2019" y="1581" width="45" height="33" fill="#263da8"/>
<rect x="2064" y="1581" width="45" height="33" fill="#263da8"/>
<rect x="2109" y="1581" width="48" height="33" fill="#263da8"/>
<rect x="2157" y="1581" width="45" height="33" fill="#263da8"/>
<rect x="2202" y="1581" width="45" height="33" fill="#263da8"/>
<rect x="1332" y="1548" width="45" height="33" fill="#263da8"/>
<rect x="1377" y="1548" width="45" height="33" fill="#1652cc"/>
<rect x="1422" y="1548" width="48" height="33" fill="#089dcc"/>
<rect x="1470" y="1548" width="45" height="33" fill="#2db7a3"/>
<rect x="1515" y="1548" width="45" height="33" fill="#52ba91"/>
<rect x="1560" y="1548" width="45" height="33" fill="#73bd80"/>
<rect x="1605" y="1548" width="48" height="33" fill="#1dafb3"/>
<rect x="1653" y="1548" width="45" height="33" fill="#1dafb3"/>
<rect x="1698" y="1548" width="45" height="33" fill="#089dcc"/>
<rect x="1743" y="1548" width="48" height="33" fill="#1380d5"/>
<rect x="1791" y="1548" width="45" height="33" fill="#1380d5"/>
<rect x="1836" y="1548" width="45" height="33" fill="#1171d8"/>
<rect x="1881" y="1548" width="45" height="33" fill="#1171d8"/>
<rect x="1926" y="1548" width="48" height="33" fill="#1063db"/>
<rect x="1974" y="1548" width="45" height="33" fill="#1063db"/>
<rect x="2019" y="1548" width="45" height="33" fill="#1063db"/>
<rect x="2064" y="1548" width="45" height="33" fill="#1652cc"/>
<rect x="2109" y="1548" width="48" height="33" fill="#1652cc"/>
<rect x="2157" y="1548" width="45" height="33" fill="#263da8"/>
<rect x="2202" y="1548" width="45" height="33" fill="#263da8"/>
<rect x="1332" y="1515" width="45" height="33" fill="#1652cc"/>
<rect x="1377" y="1515" width="45" height="33" fill="#1171d8"/>
<rect x="1422" y="1515" width="48" height="33" fill="#52ba91"/>
<rect x="1470" y="1515" width="45" height="33" fill="#b2bc65"/>
<rect x="1515" y="1515" width="45" height="33" fill="#fcd12b"/>
<rect x="1560" y="1515" width="45" height="33" fill="#d0ba59"/>
<rect x="1605" y="1515" width="48" height="33" fill="#94be71"/>
<rect x="1653" y="1515" width="45" height="33" fill="#52ba91"/>
<rect x="1698" y="1515" width="45" height="33" fill="#2db7a3"/>
<rect x="1743" y="1515" width="48" height="33" fill="#1dafb3"/>
<rect x="1791" y="1515" width="45" height="33" fill="#089dcc"/>
<rect x="1836" y="1515" width="45" height="33" fill="#0e8ed0"/>
<rect x="1881" y="1515" width="45" height="33" fill="#0e8ed0"/>
<rect x="1926" y="1515" width="48" height="33" fill="#1380d5"/>
<rect x="1974" y="1515" width="45" height="33" fill="#089dcc"/>
<rect x="2019" y="1515" width="45" height="33" fill="#0e8ed0"/>
<rect x="2064" y="1515" width="45" height="33" fill="#1380d5"/>
<rect x="2109" y="1515" width="48" height="33" fill="#1171d8"/>
<rect x="2157" y="1515" width="45" height="33" fill="#1652cc"/>
<rect x="2202" y="1515" width="45" height="33" fill="#1652cc"/>
<rect x="1332" y="1482" width="45" height="33" fill="#263da8"/>
<rect x="1377" y="1482" width="45" height="33" fill="#1063db"/>
<rect x="1422" y="1482" width="48" height="33" fill="#1dafb3"/>
<rect x="1470" y="1482" width="45" height="33" fill="#2db7a3"/>
<rect x="1515" y="1482" width="45" height="33" fill="#b2bc65"/>
<rect x="1560" y="1482" width="45" height="33" fill="#94be71"/>
<rect x="1605" y="1482" width="48" height="33" fill="#52ba91"/>
<rect x="1653" y="1482" width="45" height="33" fill="#2db7a3"/>
<rect x="1698" y="1482" width="45" height="33" fill="#089dcc"/>
<rect x="1743" y="1482" width="48" height="33" fill="#0e8ed0"/>
<rect x="1791" y="1482" width="45" height="33" fill="#0e8ed0"/>
<rect x="1836" y="1482" width="45" height="33" fill="#1380d5"/>
<rect x="1881" y="1482" width="45" height="33" fill="#1380d5"/>
<rect x="1926" y="1482" width="48" height="33" fill="#089dcc"/>
<rect x="1974" y="1482" width="45" height="33" fill="#94be71"/>
<rect x="2019" y="1482" width="45" height="33" fill="#73bd80"/>
<rect x="2064" y="1482" width="45" height="33" fill="#0da7c2"/>
<rect x="2109" y="1482" width="48" height="33" fill="#1171d8"/>
<rect x="2157" y="1482" width="45" height="33" fill="#1063db"/>
<rect x="2202" y="1482" width="45" height="33" fill="#1652cc"/>
<rect x="1332" y="1449" width="45" height="33" fill="#263da8"/>
<rect x="1377" y="1449" width="45" height="33" fill="#1652cc"/>
<rect x="1422" y="1449" width="48" height="33" fill="#1380d5"/>
<rect x="1470" y="1449" width="45" height="33" fill="#089dcc"/>
<rect x="1515" y="1449" width="45" height="33" fill="#0da7c2"/>
<rect x="1560" y="1449" width="45" height="33" fill="#0da7c2"/>
<rect x="1605" y="1449" width="48" height="33" fill="#089dcc"/>
<rect x="1653" y="1449" width="45" height="33" fill="#0e8ed0"/>
<rect x="1698" y="1449" width="45" height="33" fill="#1380d5"/>
<rect x="1743" y="1449" width="48" height="33" fill="#1171d8"/>
<rect x="1791" y="1449" width="45" height="33" fill="#1171d8"/>
<rect x="1836" y="1449" width="45" height="33" fill="#1171d8"/>
<rect x="1881" y="1449" width="45" height="33" fill="#1380d5"/>
<rect x="1926" y="1449" width="48" height="33" fill="#52ba91"/>
<rect x="1974" y="1449" width="45" height="33" fill="#fcd12b"/>
<rect x="2019" y="1449" width="45" height="33" fill="#fae61c"/>
<rect x="2064" y="1449" width="45" height="33" fill="#2db7a3"/>
<rect x="2109" y="1449" width="48" height="33" fill="#1380d5"/>
<rect x="2157" y="1449" width="45" height="33" fill="#263da8"/>
<rect x="2202" y="1449" width="45" height="33" fill="#263da8"/>
<rect x="1332" y="1416" width="45" height="33" fill="#263da8"/>
<rect x="1377" y="1416" width="45" height="33" fill="#1652cc"/>
<rect x="1422" y="1416" width="48" height="33" fill="#1171d8"/>
<rect x="1470" y="1416" width="45" height="33" fill="#1380d5"/>
<rect x="1515" y="1416" width="45" height="33" fill="#0e8ed0"/>
<rect x="1560" y="1416" width="45" height="33" fill="#0e8ed0"/>
<rect x="1605" y="1416" width="48" height="33" fill="#1380d5"/>
<rect x="1653" y="1416" width="45" height="33" fill="#1380d5"/>
<rect x="1698" y="1416" width="45" height="33" fill="#1063db"/>
<rect x="1743" y="1416" width="48" height="33" fill="#1063db"/>
<rect x="1791" y="1416" width="45" height="33" fill="#1652cc"/>
<rect x="1836" y="1416" width="45" height="33" fill="#1652cc"/>
<rect x="1881" y="1416" width="45" height="33" fill="#1380d5"/>
<rect x="1926" y="1416" width="48" height="33" fill="#52ba91"/>
<rect x="1974" y="1416" width="45" height="33" fill="#f9f90e"/>
<rect x="2019" y="1416" width="45" height="33" fill="#fcd12b"/>
<rect x="2064" y="1416" width="45" height="33" fill="#52ba91"/>
<rect x="2109" y="1416" width="48" height="33" fill="#1380d5"/>
<rect x="2157" y="1416" width="45" height="33" fill="#1652cc"/>
<rect x="2202" y="1416" width="45" height="33" fill="#263da8"/>
<rect x="1332" y="1383" width="45" height="33" fill="#263da8"/>
<rect x="1377" y="1383" width="45" height="33" fill="#263da8"/>
<rect x="1422" y="1383" width="48" height="33" fill="#1652cc"/>
<rect x="1470" y="1383" width="45" height="33" fill="#1171d8"/>
<rect x="1515" y="1383" width="45" height="33" fill="#1171d8"/>
<rect x="1560" y="1383" width="45" height="33" fill="#1171d8"/>
<rect x="1605" y="1383" width="48" height="33" fill="#1171d8"/>
<rect x="1653" y="1383" width="45" height="33" fill="#1063db"/>
<rect x="1698" y="1383" width="45" height="33" fill="#1063db"/>
<rect x="1743" y="1383" width="48" height="33" fill="#1652cc"/>
<rect x="1791" y="1383" width="45" height="33" fill="#1652cc"/>
<rect x="1836" y="1383" width="45" height="33" fill="#1652cc"/>
<rect x="1881" y="1383" width="45" height="33" fill="#1063db"/>
<rect x="1926" y="1383" width="48" height="33" fill="#0e8ed0"/>
<rect x="1974" y="1383" width="45" height="33" fill="#52ba91"/>
<rect x="2019" y="1383" width="45" height="33" fill="#2db7a3"/>
<rect x="2064" y="1383" width="45" height="33" fill="#0e8ed0"/>
<rect x="2109" y="1383" width="48" height="33" fill="#1652cc"/>
<rect x="2157" y="1383" width="45" height="33" fill="#263da8"/>
<rect x="2202" y="1383" width="45" height="33" fill="#263da8"/>
<rect x="1332" y="1350" width="45" height="33" fill="#263da8"/>
<rect x="1377" y="1350" width="45" height="33" fill="#263da8"/>
<rect x="1422" y="1350" width="48" height="33" fill="#1652cc"/>
<rect x="1470" y="1350" width="45" height="33" fill="#1063db"/>
<rect x="1515" y="1350" width="45" height="33" fill="#1063db"/>
<rect x="1560" y="1350" width="45" height="33" fill="#1063db"/>
<rect x="1605" y="1350" width="48" height="33" fill="#1171d8"/>
<rect x="1653" y="1350" width="45" height="33" fill="#1063db"/>
<rect x="1698" y="1350" width="45" height="33" fill="#1652cc"/>
<rect x="1743" y="1350" width="48" height="33" fill="#1652cc"/>
<rect x="1791" y="1350" width="45" height="33" fill="#1652cc"/>
<rect x="1836" y="1350" width="45" height="33" fill="#1652cc"/>
<rect x="1881" y="1350" width="45" height="33" fill="#1652cc"/>
<rect x="1926" y="1350" width="48" height="33" fill="#1063db"/>
<rect x="1974" y="1350" width="45" height="33" fill="#1063db"/>
<rect x="2019" y="1350" width="45" height="33" fill="#1063db"/>
<rect x="2064" y="1350" width="45" height="33" fill="#1652cc"/>
<rect x="2109" y="1350" width="48" height="33" fill="#1652cc"/>
<rect x="2157" y="1350" width="45" height="33" fill="#263da8"/>
<rect x="2202" y="1350" width="45" height="33" fill="#263da8"/>
<rect x="1332" y="1317" width="45" height="33" fill="#1652cc"/>
<rect x="1377" y="1317" width="45" height="33" fill="#1652cc"/>
<rect x="1422" y="1317" width="48" height="33" fill="#1063db"/>
<rect x="1470" y="1317" width="45" height="33" fill="#1171d8"/>
<rect x="1515" y="1317" width="45" height="33" fill="#1171d8"/>
<rect x="1560" y="1317" width="45" height="33" fill="#1171d8"/>
<rect x="1605" y="1317" width="48" height="33" fill="#1171d8"/>
<rect x="1653" y="1317" width="45" height="33" fill="#1171d8"/>
<rect x="1698" y="1317" width="45" height="33" fill="#1063db"/>
<rect x="1743" y="1317" width="48" height="33" fill="#1063db"/>
<rect x="1791" y="1317" width="45" height="33" fill="#1652cc"/>
<rect x="1836" y="1317" width="45" height="33" fill="#1652cc"/>
<rect x="1881" y="1317" width="45" height="33" fill="#1652cc"/>
<rect x="1926" y="1317" width="48" height="33" fill="#1652cc"/>
<rect x="1974" y="1317" width="45" height="33" fill="#1652cc"/>
<rect x="2019" y="1317" width="45" height="33" fill="#1652cc"/>
<rect x="2064" y="1317" width="45" height="33" fill="#263da8"/>
<rect x="2109" y="1317" width="48" height="33" fill="#263da8"/>
<rect x="2157" y="1317" width="45" height="33" fill="#263da8"/>
<rect x="2202" y="1317" width="45" height="33" fill="#263da8"/>
<rect x="1332" y="1287" width="45" height="30" fill="#1063db"/>
<rect x="1377" y="1287" width="45" height="30" fill="#1063db"/>
<rect x="1422" y="1287" width="48" height="30" fill="#1171d8"/>
<rect x="1470" y="1287" width="45" height="30" fill="#1380d5"/>
<rect x="1515" y="1287" width="45" height="30" fill="#0e8ed0"/>
<rect x="1560" y="1287" width="45" height="30" fill="#0e8ed0"/>
<rect x="1605" y="1287" width="48" height="30" fill="#0e8ed0"/>
<rect x="1653" y="1287" width="45" height="30" fill="#1380d5"/>
<rect x="1698" y="1287" width="45" height="30" fill="#1380d5"/>
<rect x="1743" y="1287" width="48" height="30" fill="#0e8ed0"/>
<rect x="1791" y="1287" width="45" height="30" fill="#1171d8"/>
<rect x="1836" y="1287" width="45" height="30" fill="#1063db"/>
<rect x="1881" y="1287" width="45" height="30" fill="#1063db"/>
<rect x="1926" y="1287" width="48" height="30" fill="#1652cc"/>
<rect x="1974" y="1287" width="45" height="30" fill="#1652cc"/>
<rect x="2019" y="1287" width="45" height="30" fill="#263da8"/>
<rect x="2064" y="1287" width="45" height="30" fill="#263da8"/>
<rect x="2109" y="1287" width="48" height="30" fill="#263da8"/>
<rect x="2157" y="1287" width="45" height="30" fill="#263da8"/>
<rect x="2202" y="1287" width="45" height="30" fill="#263da8"/>
<rect x="1332" y="1254" width="45" height="33" fill="#1171d8"/>
<rect x="1377" y="1254" width="45" height="33" fill="#1380d5"/>
<rect x="1422" y="1254" width="48" height="33" fill="#0e8ed0"/>
<rect x="1470" y="1254" width="45" height="33" fill="#0da7c2"/>
<rect x="1515" y="1254" width="45" height="33" fill="#1dafb3"/>
<rect x="1560" y="1254" width="45" height="33" fill="#1dafb3"/>
<rect x="1605" y="1254" width="48" height="33" fill="#2db7a3"/>
<rect x="1653" y="1254" width="45" height="33" fill="#1dafb3"/>
<rect x="1698" y="1254" width="45" height="33" fill="#1dafb3"/>
<rect x="1743" y="1254" width="48" height="33" fill="#089dcc"/>
<rect x="1791" y="1254" width="45" height="33" fill="#0e8ed0"/>
<rect x="1836" y="1254" width="45" height="33" fill="#0e8ed0"/>
<rect x="1881" y="1254" width="45" height="33" fill="#1063db"/>
<rect x="1926" y="1254" width="48" height="33" fill="#1171d8"/>
<rect x="1974" y="1254" width="45" height="33" fill="#1652cc"/>
<rect x="2019" y="1254" width="45" height="33" fill="#263da8"/>
<rect x="2064" y="1254" width="45" height="33" fill="#263da8"/>
<rect x="2109" y="1254" width="48" height="33" fill="#263da8"/>
<rect x="2157" y="1254" width="45" height="33" fill="#263da8"/>
<rect x="2202" y="1254" width="45" height="33" fill="#263da8"/>
<rect x="1332" y="1221" width="45" height="33" fill="#0e8ed0"/>
<rect x="1377" y="1221" width="45" height="33" fill="#0da7c2"/>
<rect x="1422" y="1221" width="48" height="33" fill="#0da7c2"/>
<rect x="1470" y="1221" width="45" height="33" fill="#52ba91"/>
<rect x="1515" y="1221" width="45" height="33" fill="#94be71"/>
<rect x="1560" y="1221" width="45" height="33" fill="#94be71"/>
<rect x="1605" y="1221" width="48" height="33" fill="#b2bc65"/>
<rect x="1653" y="1221" width="45" height="33" fill="#94be71"/>
<rect x="1698" y="1221" width="45" height="33" fill="#94be71"/>
<rect x="1743" y="1221" width="48" height="33" fill="#52ba91"/>
<rect x="1791" y="1221" width="45" height="33" fill="#0da7c2"/>
<rect x="1836" y="1221" width="45" height="33" fill="#0da7c2"/>
<rect x="1881" y="1221" width="45" height="33" fill="#0e8ed0"/>
<rect x="1926" y="1221" width="48" height="33" fill="#1171d8"/>
<rect x="1974" y="1221" width="45" height="33" fill="#1063db"/>
<rect x="2019" y="1221" width="45" height="33" fill="#1652cc"/>
<rect x="2064" y="1221" width="45" height="33" fill="#263da8"/>
<rect x="2109" y="1221" width="48" height="33" fill="#263da8"/>
<rect x="2157" y="1221" width="45" height="33" fill="#263da8"/>
<rect x="2202" y="1221" width="45" height="33" fill="#263da8"/>
<rect x="1332" y="1188" width="45" height="33" fill="#089dcc"/>
<rect x="1377" y="1188" width="45" height="33" fill="#1dafb3"/>
<rect x="1422" y="1188" width="48" height="33" fill="#73bd80"/>
<rect x="1470" y="1188" width="45" height="33" fill="#d0ba59"/>
<rect x="1515" y="1188" width="45" height="33" fill="#e1bf4a"/>
<rect x="1560" y="1188" width="45" height="33" fill="#f4c53a"/>
<rect x="1605" y="1188" width="48" height="33" fill="#f4c53a"/>
<rect x="1653" y="1188" width="45" height="33" fill="#f4c53a"/>
<rect x="1698" y="1188" width="45" height="33" fill="#d0ba59"/>
<rect x="1743" y="1188" width="48" height="33" fill="#d0ba59"/>
<rect x="1791" y="1188" width="45" height="33" fill="#52ba91"/>
<rect x="1836" y="1188" width="45" height="33" fill="#2db7a3"/>
<rect x="1881" y="1188" width="45" height="33" fill="#0da7c2"/>
<rect x="1926" y="1188" width="48" height="33" fill="#1380d5"/>
<rect x="1974" y="1188" width="45" height="33" fill="#1171d8"/>
<rect x="2019" y="1188" width="45" height="33" fill="#1652cc"/>
<rect x="2064" y="1188" width="45" height="33" fill="#1652cc"/>
<rect x="2109" y="1188" width="48" height="33" fill="#263da8"/>
<rect x="2157" y="1188" width="45" height="33" fill="#263da8"/>
<rect x="2202" y="1188" width="45" height="33" fill="#263da8"/>
<rect x="1332" y="1155" width="45" height="33" fill="#0da7c2"/>
<rect x="1377" y="1155" width="45" height="33" fill="#52ba91"/>
<rect x="1422" y="1155" width="48" height="33" fill="#94be71"/>
<rect x="1470" y="1155" width="45" height="33" fill="#d0ba59"/>
<rect x="1515" y="1155" width="45" height="33" fill="#fae61c"/>
<rect x="1560" y="1155" width="45" height="33" fill="#f9f90e"/>
<rect x="1605" y="1155" width="48" height="33" fill="#f9f90e"/>
<rect x="1653" y="1155" width="45" height="33" fill="#f9f90e"/>
<rect x="1698" y="1155" width="45" height="33" fill="#f4c53a"/>
<rect x="1743" y="1155" width="48" height="33" fill="#d0ba59"/>
<rect x="1791" y="1155" width="45" height="33" fill="#73bd80"/>
<rect x="1836" y="1155" width="45" height="33" fill="#52ba91"/>
<rect x="1881" y="1155" width="45" height="33" fill="#0da7c2"/>
<rect x="1926" y="1155" width="48" height="33" fill="#089dcc"/>
<rect x="1974" y="1155" width="45" height="33" fill="#1171d8"/>
<rect x="2019" y="1155" width="45" height="33" fill="#1171d8"/>
<rect x="2064" y="1155" width="45" height="33" fill="#1652cc"/>
<rect x="2109" y="1155" width="48" height="33" fill="#263da8"/>
<rect x="2157" y="1155" width="45" height="33" fill="#263da8"/>
<rect x="2202" y="1155" width="45" height="33" fill="#263da8"/>
<rect x="1332" y="1122" width="45" height="33" fill="#1dafb3"/>
<rect x="1377" y="1122" width="45" height="33" fill="#1dafb3"/>
<rect x="1422" y="1122" width="48" height="33" fill="#73bd80"/>
<rect x="1470" y="1122" width="45" height="33" fill="#94be71"/>
<rect x="1515" y="1122" width="45" height="33" fill="#e1bf4a"/>
<rect x="1560" y="1122" width="45" height="33" fill="#f4c53a"/>
<rect x="1605" y="1122" width="48" height="33" fill="#fcd12b"/>
<rect x="1653" y="1122" width="45" height="33" fill="#f4c53a"/>
<rect x="1698" y="1122" width="45" height="33" fill="#e1bf4a"/>
<rect x="1743" y="1122" width="48" height="33" fill="#d0ba59"/>
<rect x="1791" y="1122" width="45" height="33" fill="#73bd80"/>
<rect x="1836" y="1122" width="45" height="33" fill="#2db7a3"/>
<rect x="1881" y="1122" width="45" height="33" fill="#0da7c2"/>
<rect x="1926" y="1122" width="48" height="33" fill="#1380d5"/>
<rect x="1974" y="1122" width="45" height="33" fill="#1380d5"/>
<rect x="2019" y="1122" width="45" height="33" fill="#1063db"/>
<rect x="2064" y="1122" width="45" height="33" fill="#1652cc"/>
<rect x="2109" y="1122" width="48" height="33" fill="#263da8"/>
<rect x="2157" y="1122" width="45" height="33" fill="#263da8"/>
<rect x="2202" y="1122" width="45" height="33" fill="#263da8"/>
<rect x="1332" y="1089" width="45" height="33" fill="#0e8ed0"/>
<rect x="1377" y="1089" width="45" height="33" fill="#0da7c2"/>
<rect x="1422" y="1089" width="48" height="33" fill="#2db7a3"/>
<rect x="1470" y="1089" width="45" height="33" fill="#94be71"/>
<rect x="1515" y="1089" width="45" height="33" fill="#b2bc65"/>
<rect x="1560" y="1089" width="45" height="33" fill="#b2bc65"/>
<rect x="1605" y="1089" width="48" height="33" fill="#d0ba59"/>
<rect x="1653" y="1089" width="45" height="33" fill="#d0ba59"/>
<rect x="1698" y="1089" width="45" height="33" fill="#b2bc65"/>
<rect x="1743" y="1089" width="48" height="33" fill="#73bd80"/>
<rect x="1791" y="1089" width="45" height="33" fill="#52ba91"/>
<rect x="1836" y="1089" width="45" height="33" fill="#1dafb3"/>
<rect x="1881" y="1089" width="45" height="33" fill="#0e8ed0"/>
<rect x="1926" y="1089" width="48" height="33" fill="#1380d5"/>
<rect x="1974" y="1089" width="45" height="33" fill="#1171d8"/>
<rect x="2019" y="1089" width="45" height="33" fill="#1063db"/>
<rect x="2064" y="1089" width="45" height="33" fill="#1652cc"/>
<rect x="2109" y="1089" width="48" height="33" fill="#1652cc"/>
<rect x="2157" y="1089" width="45" height="33" fill="#263da8"/>
<rect x="2202" y="1089" width="45" height="33" fill="#263da8"/>
<rect x="1332" y="1056" width="45" height="33" fill="#1171d8"/>
<rect x="1377" y="1056" width="45" height="33" fill="#0e8ed0"/>
<rect x="1422" y="1056" width="48" height="33" fill="#089dcc"/>
<rect x="1470" y="1056" width="45" height="33" fill="#1dafb3"/>
<rect x="1515" y="1056" width="45" height="33" fill="#52ba91"/>
<rect x="1560" y="1056" width="45" height="33" fill="#2db7a3"/>
<rect x="1605" y="1056" width="48" height="33" fill="#52ba91"/>
<rect x="1653" y="1056" width="45" height="33" fill="#2db7a3"/>
<rect x="1698" y="1056" width="45" height="33" fill="#2db7a3"/>
<rect x="1743" y="1056" width="48" height="33" fill="#0da7c2"/>
<rect x="1791" y="1056" width="45" height="33" fill="#0da7c2"/>
<rect x="1836" y="1056" width="45" height="33" fill="#0e8ed0"/>
<rect x="1881" y="1056" width="45" height="33" fill="#1380d5"/>
<rect x="1926" y="1056" width="48" height="33" fill="#1171d8"/>
<rect x="1974" y="1056" width="45" height="33" fill="#1063db"/>
<rect x="2019" y="1056" width="45" height="33" fill="#1652cc"/>
<rect x="2064" y="1056" width="45" height="33" fill="#263da8"/>
<rect x="2109" y="1056" width="48" height="33" fill="#263da8"/>
<rect x="2157" y="1056" width="45" height="33" fill="#263da8"/>
<rect x="2202" y="1056" width="45" height="33" fill="#263da8"/>
<rect x="1332" y="1023" width="45" height="33" fill="#1063db"/>
<rect x="1377" y="1023" width="45" height="33" fill="#1380d5"/>
<rect x="1422" y="1023" width="48" height="33" fill="#1171d8"/>
<rect x="1470" y="1023" width="45" height="33" fill="#1380d5"/>
<rect x="1515" y="1023" width="45" height="33" fill="#0e8ed0"/>
<rect x="1560" y="1023" width="45" height="33" fill="#0e8ed0"/>
<rect x="1605" y="1023" width="48" height="33" fill="#0e8ed0"/>
<rect x="1653" y="1023" width="45" height="33" fill="#0e8ed0"/>
<rect x="1698" y="1023" width="45" height="33" fill="#0e8ed0"/>
<rect x="1743" y="1023" width="48" height="33" fill="#0e8ed0"/>
<rect x="1791" y="1023" width="45" height="33" fill="#1380d5"/>
<rect x="1836" y="1023" width="45" height="33" fill="#1063db"/>
<rect x="1881" y="1023" width="45" height="33" fill="#1063db"/>
<rect x="1926" y="1023" width="48" height="33" fill="#1652cc"/>
<rect x="1974" y="1023" width="45" height="33" fill="#1652cc"/>
<rect x="2019" y="1023" width="45" height="33" fill="#263da8"/>
<rect x="2064" y="1023" width="45" height="33" fill="#263da8"/>
<rect x="2109" y="1023" width="48" height="33" fill="#263da8"/>
<rect x="2157" y="1023" width="45" height="33" fill="#263da8"/>
<rect x="2202" y="1023" width="45" height="33" fill="#263da8"/>
<rect x="1332" y="990" width="45" height="33" fill="#1652cc"/>
<rect x="1377" y="990" width="45" height="33" fill="#1652cc"/>
<rect x="1422" y="990" width="48" height="33" fill="#1063db"/>
<rect x="1470" y="990" width="45" height="33" fill="#1063db"/>
<rect x="1515" y="990" width="45" height="33" fill="#1063db"/>
<rect x="1560" y="990" width="45" height="33" fill="#1171d8"/>
<rect x="1605" y="990" width="48" height="33" fill="#1171d8"/>
<rect x="1653" y="990" width="45" height="33" fill="#1171d8"/>
<rect x="1698" y="990" width="45" height="33" fill="#1063db"/>
<rect x="1743" y="990" width="48" height="33" fill="#1063db"/>
<rect x="1791" y="990" width="45" height="33" fill="#1652cc"/>
<rect x="1836" y="990" width="45" height="33" fill="#1063db"/>
<rect x="1881" y="990" width="45" height="33" fill="#1652cc"/>
<rect x="1926" y="990" width="48" height="33" fill="#1652cc"/>
<rect x="1974" y="990" width="45" height="33" fill="#263da8"/>
<rect x="2019" y="990" width="45" height="33" fill="#263da8"/>
<rect x="2064" y="990" width="45" height="33" fill="#263da8"/>
<rect x="2109" y="990" width="48" height="33" fill="#263da8"/>
<rect x="1332" y="957" width="45" height="33" fill="#263da8"/>
<rect x="1377" y="957" width="45" height="33" fill="#263da8"/>
<rect x="1422" y="957" width="48" height="33" fill="#263da8"/>
<rect x="1470" y="957" width="45" height="33" fill="#1652cc"/>
<rect x="1515" y="957" width="45" height="33" fill="#1652cc"/>
<rect x="1560" y="957" width="45" height="33" fill="#1652cc"/>
<rect x="1605" y="957" width="48" height="33" fill="#1652cc"/>
<rect x="1653" y="957" width="45" height="33" fill="#1652cc"/>
<rect x="1698" y="957" width="45" height="33" fill="#1652cc"/>
<rect x="1743" y="957" width="48" height="33" fill="#1652cc"/>
<rect x="1791" y="957" width="45" height="33" fill="#1652cc"/>
<rect x="1836" y="957" width="45" height="33" fill="#263da8"/>
<rect x="1881" y="957" width="45" height="33" fill="#263da8"/>
<rect x="1926" y="957" width="48" height="33" fill="#263da8"/>
<rect x="1974" y="957" width="45" height="33" fill="#263da8"/>
<rect x="2019" y="957" width="45" height="33" fill="#263da8"/>
<rect x="2064" y="957" width="45" height="33" fill="#263da8"/>
<rect x="2109" y="957" width="48" height="33" fill="#263da8"/>
<rect x="2157" y="957" width="45" height="33" fill="#263da8"/>
<rect x="2202" y="957" width="45" height="33" fill="#263da8"/>
<rect x="2253" y="1581" width="51" height="33" fill="#263da8"/>
<rect x="2253" y="1548" width="51" height="33" fill="#1652cc"/>
<rect x="2253" y="1515" width="51" height="33" fill="#1063db"/>
<rect x="2253" y="1482" width="51" height="33" fill="#1171d8"/>
<rect x="2253" y="1449" width="51" height="33" fill="#1380d5"/>
<rect x="2253" y="1416" width="51" height="33" fill="#0e8ed0"/>
<rect x="2253" y="1383" width="51" height="33" fill="#089dcc"/>
<rect x="2253" y="1350" width="51" height="33" fill="#0da7c2"/>
<rect x="2253" y="1317" width="51" height="33" fill="#1dafb3"/>
<rect x="2253" y="1287" width="51" height="30" fill="#2db7a3"/>
<rect x="2253" y="1254" width="51" height="33" fill="#52ba91"/>
<rect x="2253" y="1221" width="51" height="33" fill="#73bd80"/>
<rect x="2253" y="1188" width="51" height="33" fill="#94be71"/>
<rect x="2253" y="1155" width="51" height="33" fill="#b2bc65"/>
<rect x="2253" y="1122" width="51" height="33" fill="#d0ba59"/>
<rect x="2253" y="1089" width="51" height="33" fill="#e1bf4a"/>
<rect x="2253" y="1056" width="51" height="33" fill="#f4c53a"/>
<rect x="2253" y="1023" width="51" height="33" fill="#fcd12b"/>
<rect x="2253" y="990" width="51" height="33" fill="#fae61c"/>
<rect x="2253" y="957" width="51" height="33" fill="#f9f90e"/>
<rect x="1332" y="1614" width="916" height="1" fill="#000"/>
<rect x="1332" y="1596" width="1" height="19" fill="#000"/>
<rect x="1353" y="1605" width="1" height="10" fill="#000"/>
<rect x="1377" y="1605" width="1" height="10" fill="#000"/>
<rect x="1401" y="1605" width="1" height="10" fill="#000"/>
<rect x="1422" y="1605" width="1" height="10" fill="#000"/>
<rect x="1446" y="1596" width="1" height="19" fill="#000"/>
<rect x="1470" y="1605" width="1" height="10" fill="#000"/>
<rect x="1491" y="1605" width="1" height="10" fill="#000"/>
<rect x="1515" y="1605" width="1" height="10" fill="#000"/>
<rect x="1536" y="1605" width="1" height="10" fill="#000"/>
<rect x="1560" y="1596" width="1" height="19" fill="#000"/>
<rect x="1584" y="1605" width="1" height="10" fill="#000"/>
<rect x="1605" y="1605" width="1" height="10" fill="#000"/>
<rect x="1629" y="1605" width="1" height="10" fill="#000"/>
<rect x="1653" y="1605" width="1" height="10" fill="#000"/>
<rect x="1674" y="1596" width="1" height="19" fill="#000"/>
<rect x="1698" y="1605" width="1" height="10" fill="#000"/>
<rect x="1722" y="1605" width="1" height="10" fill="#000"/>
<rect x="1743" y="1605" width="1" height="10" fill="#000"/>
<rect x="1767" y="1605" width="1" height="10" fill="#000"/>
<rect x="1791" y="1596" width="1" height="19" fill="#000"/>
<rect x="1812" y="1605" width="1" height="10" fill="#000"/>
<rect x="1836" y="1605" width="1" height="10" fill="#000"/>
<rect x="1857" y="1605" width="1" height="10" fill="#000"/>
<rect x="1881" y="1605" width="1" height="10" fill="#000"/>
<rect x="1905" y="1596" width="1" height="19" fill="#000"/>
<rect x="1926" y="1605" width="1" height="10" fill="#000"/>
<rect x="1950" y="1605" width="1" height="10" fill="#000"/>
<rect x="1974" y="1605" width="1" height="10" fill="#000"/>
<rect x="1995" y="1605" width="1" height="10" fill="#000"/>
<rect x="2019" y="1596" width="1" height="19" fill="#000"/>
<rect x="2043" y="1605" width="1" height="10" fill="#000"/>
<rect x="2064" y="1605" width="1" height="10" fill="#000"/>
<rect x="2088" y="1605" width="1" height="10" fill="#000"/>
<rect x="2109" y="1605" width="1" height="10" fill="#000"/>
<rect x="2133" y="1596" width="1" height="19" fill="#000"/>
<rect x="2157" y="1605" width="1" height="10" fill="#000"/>
<rect x="2178" y="1605" width="1" height="10" fill="#000"/>
<rect x="2202" y="1605" width="1" height="10" fill="#000"/>
<rect x="2226" y="1605" width="1" height="10" fill="#000"/>
<rect x="2247" y="1596" width="1" height="19" fill="#000"/>
<rect x="1317.10" y="1633.15" width="13.70" height="1.8" fill="#000" shape-rendering="geometricPrecision"/>
<text transform="translate(1335.90,1641.00) scale(0.95,1)" font-size="26.6" text-anchor="middle">4</text>
<rect x="1431.10" y="1633.15" width="13.70" height="1.8" fill="#000" shape-rendering="geometricPrecision"/>
<text transform="translate(1449.90,1641.00) scale(0.95,1)" font-size="26.6" text-anchor="middle">3</text>
<rect x="1545.10" y="1633.15" width="13.70" height="1.8" fill="#000" shape-rendering="geometricPrecision"/>
<text transform="translate(1563.90,1641.00) scale(0.95,1)" font-size="26.6" text-anchor="middle">2</text>
<rect x="1659.10" y="1633.15" width="13.70" height="1.8" fill="#000" shape-rendering="geometricPrecision"/>
<path d="M1683.10 1641.00L1683.10 1622.09L1681.45 1622.09C1681.11 1623.95 1679.91 1625.89 1677.78 1625.89L1676.45 1625.89L1676.45 1627.73L1680.69 1627.73L1680.69 1641.00Z" fill="#000" shape-rendering="geometricPrecision"/>
<text transform="translate(1789.00,1641.00) scale(0.95,1)" font-size="26.6" text-anchor="middle">0</text>
<path d="M1908.06 1641.00L1908.06 1622.09L1906.41 1622.09C1906.07 1623.95 1904.87 1625.89 1902.74 1625.89L1901.41 1625.89L1901.41 1627.73L1905.65 1627.73L1905.65 1641.00Z" fill="#000" shape-rendering="geometricPrecision"/>
<text transform="translate(2017.00,1641.00) scale(0.95,1)" font-size="26.6" text-anchor="middle">2</text>
<text transform="translate(2131.00,1641.00) scale(0.95,1)" font-size="26.6" text-anchor="middle">3</text>
<text transform="translate(2245.00,1641.00) scale(0.95,1)" font-size="26.6" text-anchor="middle">4</text>
<rect x="1332" y="957" width="1" height="658" fill="#000"/>
<rect x="1332" y="1614" width="28" height="1" fill="#000"/>
<rect x="1332" y="1599" width="13" height="1" fill="#000"/>
<rect x="1332" y="1581" width="13" height="1" fill="#000"/>
<rect x="1332" y="1566" width="13" height="1" fill="#000"/>
<rect x="1332" y="1548" width="13" height="1" fill="#000"/>
<rect x="1332" y="1533" width="28" height="1" fill="#000"/>
<rect x="1332" y="1515" width="13" height="1" fill="#000"/>
<rect x="1332" y="1500" width="13" height="1" fill="#000"/>
<rect x="1332" y="1482" width="13" height="1" fill="#000"/>
<rect x="1332" y="1467" width="13" height="1" fill="#000"/>
<rect x="1332" y="1449" width="28" height="1" fill="#000"/>
<rect x="1332" y="1434" width="13" height="1" fill="#000"/>
<rect x="1332" y="1416" width="13" height="1" fill="#000"/>
<rect x="1332" y="1401" width="13" height="1" fill="#000"/>
<rect x="1332" y="1383" width="13" height="1" fill="#000"/>
<rect x="1332" y="1368" width="28" height="1" fill="#000"/>
<rect x="1332" y="1350" width="13" height="1" fill="#000"/>
<rect x="1332" y="1335" width="13" height="1" fill="#000"/>
<rect x="1332" y="1317" width="13" height="1" fill="#000"/>
<rect x="1332" y="1302" width="13" height="1" fill="#000"/>
<rect x="1332" y="1287" width="28" height="1" fill="#000"/>
<rect x="1332" y="1269" width="13" height="1" fill="#000"/>
<rect x="1332" y="1254" width="13" height="1" fill="#000"/>
<rect x="1332" y="1236" width="13" height="1" fill="#000"/>
<rect x="1332" y="1221" width="13" height="1" fill="#000"/>
<rect x="1332" y="1203" width="28" height="1" fill="#000"/>
<rect x="1332" y="1188" width="13" height="1" fill="#000"/>
<rect x="1332" y="1170" width="13" height="1" fill="#000"/>
<rect x="1332" y="1155" width="13" height="1" fill="#000"/>
<rect x="1332" y="1137" width="13" height="1" fill="#000"/>
<rect x="1332" y="1122" width="28" height="1" fill="#000"/>
<rect x="1332" y="1104" width="13" height="1" fill="#000"/>
<rect x="1332" y="1089" width="13" height="1" fill="#000"/>
<rect x="1332" y="1071" width="13" height="1" fill="#000"/>
<rect x="1332" y="1056" width="13" height="1" fill="#000"/>
<rect x="1332" y="1038" width="28" height="1" fill="#000"/>
<rect x="1332" y="1023" width="13" height="1" fill="#000"/>
<rect x="1332" y="1005" width="13" height="1" fill="#000"/>
<rect x="1332" y="990" width="13" height="1" fill="#000"/>
<rect x="1332" y="972" width="13" height="1" fill="#000"/>
<rect x="1332" y="957" width="28" height="1" fill="#000"/>
<text transform="translate(1325.00,1625.80) scale(0.95,1)" font-size="26.6" text-anchor="end">4</text>
<rect x="1296.20" y="1617.95" width="14.10" height="1.8" fill="#000" shape-rendering="geometricPrecision"/>
<text transform="translate(1325.00,1544.80) scale(0.95,1)" font-size="26.6" text-anchor="end">3</text>
<rect x="1296.20" y="1536.95" width="14.10" height="1.8" fill="#000" shape-rendering="geometricPrecision"/>
<text transform="translate(1325.00,1460.80) scale(0.95,1)" font-size="26.6" text-anchor="end">2</text>
<rect x="1296.20" y="1452.95" width="14.10" height="1.8" fill="#000" shape-rendering="geometricPrecision"/>
<path d="M1323.10 1379.80L1323.10 1360.89L1321.45 1360.89C1321.11 1362.75 1319.91 1364.69 1317.78 1364.69L1316.45 1364.69L1316.45 1366.53L1320.69 1366.53L1320.69 1379.80Z" fill="#000" shape-rendering="geometricPrecision"/>
<rect x="1299.00" y="1371.95" width="13.80" height="1.8" fill="#000" shape-rendering="geometricPrecision"/>
<text transform="translate(1325.00,1298.80) scale(0.95,1)" font-size="26.6" text-anchor="end">0</text>
<path d="M1323.10 1214.80L1323.10 1195.89L1321.45 1195.89C1321.11 1197.75 1319.91 1199.69 1317.78 1199.69L1316.45 1199.69L1316.45 1201.53L1320.69 1201.53L1320.69 1214.80Z" fill="#000" shape-rendering="geometricPrecision"/>
<text transform="translate(1325.00,1133.80) scale(0.95,1)" font-size="26.6" text-anchor="end">2</text>
<text transform="translate(1325.00,1049.80) scale(0.95,1)" font-size="26.6" text-anchor="end">3</text>
<text transform="translate(1325.00,968.80) scale(0.95,1)" font-size="26.6" text-anchor="end">4</text>
<rect x="2304" y="957" width="1" height="658" fill="#000"/>
<rect x="2277" y="1614" width="28" height="1" fill="#000"/>
<text transform="translate(2310.00,1626.00) scale(0.95,1)" font-size="26.6" text-anchor="start">0</text>
<rect x="2277" y="1533" width="28" height="1" fill="#000"/>
<text transform="translate(2310.00,1545.00) scale(0.95,1)" font-size="26.6" text-anchor="start">50</text>
<rect x="2277" y="1452" width="28" height="1" fill="#000"/>
<path d="M2319.40 1464.00L2319.40 1445.09L2317.75 1445.09C2317.41 1446.95 2316.21 1448.89 2314.08 1448.89L2312.75 1448.89L2312.75 1450.73L2316.99 1450.73L2316.99 1464.00Z" fill="#000" shape-rendering="geometricPrecision"/>
<text transform="translate(2324.50,1464.00) scale(0.95,1)" font-size="26.6" text-anchor="start">00</text>
<rect x="2277" y="1374" width="28" height="1" fill="#000"/>
<path d="M2319.40 1386.00L2319.40 1367.09L2317.75 1367.09C2317.41 1368.95 2316.21 1370.89 2314.08 1370.89L2312.75 1370.89L2312.75 1372.73L2316.99 1372.73L2316.99 1386.00Z" fill="#000" shape-rendering="geometricPrecision"/>
<text transform="translate(2324.50,1386.00) scale(0.95,1)" font-size="26.6" text-anchor="start">50</text>
<rect x="2277" y="1293" width="28" height="1" fill="#000"/>
<text transform="translate(2310.00,1305.00) scale(0.95,1)" font-size="26.6" text-anchor="start">200</text>
<rect x="2277" y="1212" width="28" height="1" fill="#000"/>
<text transform="translate(2310.00,1224.00) scale(0.95,1)" font-size="26.6" text-anchor="start">250</text>
<rect x="2277" y="1131" width="28" height="1" fill="#000"/>
<text transform="translate(2310.00,1143.00) scale(0.95,1)" font-size="26.6" text-anchor="start">300</text>
<rect x="2277" y="1050" width="28" height="1" fill="#000"/>
<text transform="translate(2310.00,1062.00) scale(0.95,1)" font-size="26.6" text-anchor="start">350</text>
<rect x="2277" y="969" width="28" height="1" fill="#000"/>
<text transform="translate(2310.00,981.00) scale(0.95,1)" font-size="26.6" text-anchor="start">400</text>
<path d="M1998 978V987H2199V927H2190V978Z" fill="#000"/>
<rect x="1983" y="915" width="207" height="63" fill="#f2f2f2"/>
<rect x="1983" y="915" width="208" height="1" fill="#000"/>
<rect x="1983" y="978" width="208" height="1" fill="#000"/>
<rect x="1983" y="915" width="1" height="64" fill="#000"/>
<rect x="2190" y="915" width="1" height="64" fill="#000"/>
<text transform="translate(2024.73,963.75) scale(0.9433,1)" font-size="47.0" text-anchor="start" font-weight="bold">COLZ</text>
<text transform="translate(1464.80,918.00)" font-size="41.93" text-anchor="start">xygaus <tspan dy="2.9">+</tspan><tspan dy="-2.9"> xygaus(5) </tspan><tspan dy="2.9">+</tspan><tspan dy="-2.9"> xylandau(</tspan></text>
<path d="M2073.85 918.00L2073.85 888.19L2071.25 888.19C2070.70 891.12 2068.82 894.18 2065.46 894.18L2063.37 894.18L2063.37 897.08L2070.05 897.08L2070.05 918.00Z" fill="#000" shape-rendering="geometricPrecision"/>
<text transform="translate(2082.45,918.00)" font-size="41.93" text-anchor="start">0)</text>
</svg></body></html>
